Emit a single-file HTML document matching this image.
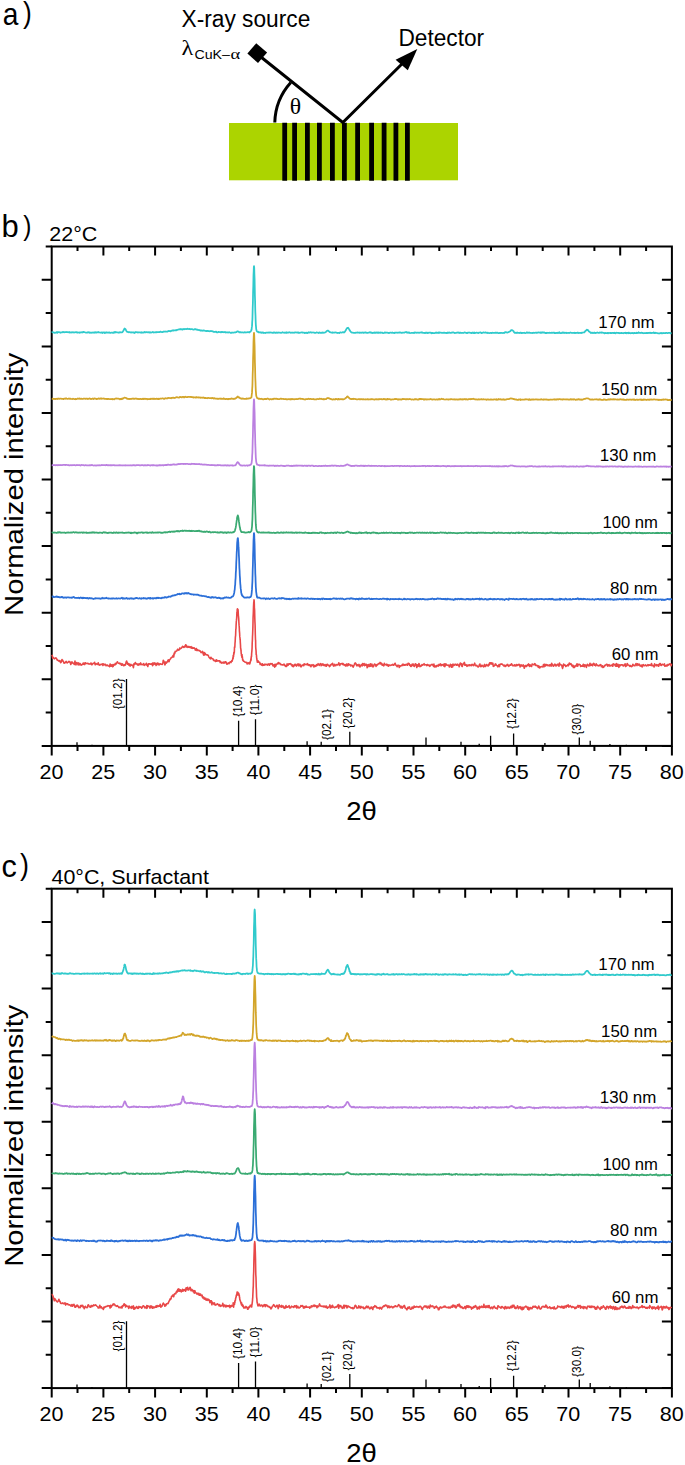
<!DOCTYPE html>
<html><head><meta charset="utf-8"><style>
html,body{margin:0;padding:0;background:#fff;width:685px;height:1465px;overflow:hidden}
svg{display:block}
text{font-family:"Liberation Sans",sans-serif;fill:#000}
.serif{font-family:"Liberation Serif",serif}
</style></head><body>
<svg width="685" height="1465" viewBox="0 0 685 1465">
<rect x="229" y="123" width="229" height="57.3" fill="#acd400"/>
<path d="M282.3 122.8h4.8v58h-4.8zM292.2 122.8h4.8v58h-4.8zM305.0 122.8h4.8v58h-4.8zM317.0 122.8h4.8v58h-4.8zM330.0 122.8h4.8v58h-4.8zM342.0 122.8h4.8v58h-4.8zM355.2 122.8h4.8v58h-4.8zM369.2 122.8h4.8v58h-4.8zM381.7 122.8h4.8v58h-4.8zM393.5 122.8h4.8v58h-4.8zM405.0 122.8h4.8v58h-4.8z" fill="#000"/>
<path d="M257.2 54.0 L342.8 122.5 L410 56" fill="none" stroke="#000" stroke-width="3"/>
<polygon points="256.2,43.3 267.1,52.5 258,63 247.4,53.6" fill="#000"/>
<polygon points="417.3,49 395.6,59.7 407.8,70.2" fill="#000"/>
<path d="M274.8 122.5 A62 62 0 0 1 290.8 82.5" fill="none" stroke="#000" stroke-width="3"/>
<text x="289.65" y="114.30" font-size="22.70" textLength="11.37" lengthAdjust="spacingAndGlyphs" class="serif">θ</text>
<text x="181.51" y="26.50" font-size="23.00" textLength="128.76" lengthAdjust="spacingAndGlyphs">X-ray source</text>
<text x="398.43" y="46.20" font-size="23.00" textLength="85.70" lengthAdjust="spacingAndGlyphs">Detector</text>
<text x="181.63" y="54.90" font-size="21.80" textLength="11.74" lengthAdjust="spacingAndGlyphs" class="serif">λ</text>
<text x="194.46" y="59.00" font-size="13.40" textLength="35.56" lengthAdjust="spacingAndGlyphs">CuK–</text>
<text x="230.46" y="59.00" font-size="14.50" textLength="9.72" lengthAdjust="spacingAndGlyphs" class="serif">α</text>
<text x="2.76" y="25.10" font-size="32.00" textLength="15.64" lengthAdjust="spacingAndGlyphs">a</text>
<text x="23.02" y="22.90" font-size="29.00" textLength="8.78" lengthAdjust="spacingAndGlyphs">)</text>
<g>
<path d="M77.0 742.3V745.9M92.0 744.8V745.9M126.5 679.0V745.9M238.6 720.8V745.9M255.5 719.3V745.9M307.1 741.2V745.9M321.2 741.8V745.9M349.8 731.7V745.9M426.0 737.4V745.9M461.0 741.8V745.9M479.2 743.8V745.9M490.6 735.7V745.9M513.6 733.5V745.9M544.9 742.9V745.9M579.3 737.4V745.9M590.2 740.7V745.9M609.9 744.0V745.9M626.3 744.8V745.9" stroke="#000" stroke-width="1.3" fill="none"/>
<text transform="translate(121.90,709.19) rotate(-90)" font-size="12.60" textLength="30.81" lengthAdjust="spacingAndGlyphs" fill="#222">{01.2}</text>
<text transform="translate(241.90,716.79) rotate(-90)" font-size="12.60" textLength="31.01" lengthAdjust="spacingAndGlyphs" fill="#222">{10.4}</text>
<text transform="translate(259.00,715.29) rotate(-90)" font-size="12.60" textLength="30.79" lengthAdjust="spacingAndGlyphs" fill="#222">{11.0}</text>
<text transform="translate(331.30,739.89) rotate(-90)" font-size="12.60" textLength="30.81" lengthAdjust="spacingAndGlyphs" fill="#222">{02.1}</text>
<text transform="translate(352.10,728.39) rotate(-90)" font-size="12.60" textLength="30.81" lengthAdjust="spacingAndGlyphs" fill="#222">{20.2}</text>
<text transform="translate(516.40,728.99) rotate(-90)" font-size="12.60" textLength="30.81" lengthAdjust="spacingAndGlyphs" fill="#222">{12.2}</text>
<text transform="translate(581.00,734.69) rotate(-90)" font-size="12.60" textLength="30.91" lengthAdjust="spacingAndGlyphs" fill="#222">{30.0}</text>
<rect x="51.7" y="246.5" width="620.2" height="499.4" fill="none" stroke="#000" stroke-width="2"/>
<path d="M41.7 745.9H51.7M661.9 745.9H671.9M45.7 712.6H51.7M667.4 712.6H671.9M41.7 679.3H51.7M661.9 679.3H671.9M45.7 646.0H51.7M667.4 646.0H671.9M41.7 612.7H51.7M661.9 612.7H671.9M45.7 579.4H51.7M667.4 579.4H671.9M41.7 546.1H51.7M661.9 546.1H671.9M45.7 512.8H51.7M667.4 512.8H671.9M41.7 479.6H51.7M661.9 479.6H671.9M45.7 446.3H51.7M667.4 446.3H671.9M41.7 413.0H51.7M661.9 413.0H671.9M45.7 379.7H51.7M667.4 379.7H671.9M41.7 346.4H51.7M661.9 346.4H671.9M45.7 313.1H51.7M667.4 313.1H671.9M41.7 279.8H51.7M661.9 279.8H671.9M45.7 246.5H51.7M51.7 745.9V755.4M77.5 745.9V750.9M77.5 246.5V251.0M103.4 745.9V755.4M103.4 246.5V255.5M129.2 745.9V750.9M129.2 246.5V251.0M155.1 745.9V755.4M155.1 246.5V255.5M180.9 745.9V750.9M180.9 246.5V251.0M206.8 745.9V755.4M206.8 246.5V255.5M232.6 745.9V750.9M232.6 246.5V251.0M258.4 745.9V755.4M258.4 246.5V255.5M284.3 745.9V750.9M284.3 246.5V251.0M310.1 745.9V755.4M310.1 246.5V255.5M336.0 745.9V750.9M336.0 246.5V251.0M361.8 745.9V755.4M361.8 246.5V255.5M387.6 745.9V750.9M387.6 246.5V251.0M413.5 745.9V755.4M413.5 246.5V255.5M439.3 745.9V750.9M439.3 246.5V251.0M465.2 745.9V755.4M465.2 246.5V255.5M491.0 745.9V750.9M491.0 246.5V251.0M516.8 745.9V755.4M516.8 246.5V255.5M542.7 745.9V750.9M542.7 246.5V251.0M568.5 745.9V755.4M568.5 246.5V255.5M594.4 745.9V750.9M594.4 246.5V251.0M620.2 745.9V755.4M620.2 246.5V255.5M646.1 745.9V750.9M646.1 246.5V251.0M671.9 745.9V755.4" stroke="#000" stroke-width="2" fill="none"/>
<path d="M51.7,332.6 52.2,332.2 52.7,332.3 53.3,332.3 53.8,332.6 54.3,332.8 54.8,332.7 55.3,332.8 55.8,332.6 56.4,332.7 56.9,332.0 57.4,332.8 57.9,332.1 58.4,332.2 58.9,332.2 59.5,332.4 60.0,332.2 60.5,332.8 61.0,332.5 61.5,332.4 62.0,332.4 62.6,332.0 63.1,331.9 63.6,332.0 64.1,332.4 64.6,332.2 65.1,332.2 65.7,332.2 66.2,332.0 66.7,332.2 67.2,332.2 67.7,332.2 68.2,332.3 68.8,332.2 69.3,332.0 69.8,332.6 70.3,332.3 70.8,332.6 71.3,332.6 71.9,332.2 72.4,332.2 72.9,332.4 73.4,332.5 73.9,332.2 74.4,332.5 75.0,332.4 75.5,332.2 76.0,332.2 76.5,332.2 77.0,332.6 77.5,332.4 78.1,332.6 78.6,332.5 79.1,332.4 79.6,332.8 80.1,332.6 80.6,332.4 81.2,332.4 81.7,332.2 82.2,332.5 82.7,332.4 83.2,331.8 83.7,332.1 84.3,332.1 84.8,332.3 85.3,332.5 85.8,332.6 86.3,332.5 86.8,332.5 87.4,332.6 87.9,332.2 88.4,332.3 88.9,332.6 89.4,332.3 89.9,332.8 90.5,332.6 91.0,332.6 91.5,332.8 92.0,332.7 92.5,332.4 93.0,332.7 93.6,332.5 94.1,332.8 94.6,332.4 95.1,332.2 95.6,332.6 96.1,332.4 96.7,332.6 97.2,332.3 97.7,332.4 98.2,332.0 98.7,332.4 99.2,332.4 99.8,332.5 100.3,332.7 100.8,332.7 101.3,332.6 101.8,332.4 102.3,333.0 102.9,332.4 103.4,332.5 103.9,332.4 104.4,333.0 104.9,332.4 105.5,332.9 106.0,332.4 106.5,332.6 107.0,332.4 107.5,332.7 108.0,332.7 108.6,332.5 109.1,332.8 109.6,332.5 110.1,332.8 110.6,332.8 111.1,332.7 111.7,332.5 112.2,332.5 112.7,332.9 113.2,332.7 113.7,332.8 114.2,332.0 114.8,332.5 115.3,332.5 115.8,331.9 116.3,332.2 116.8,332.4 117.3,332.5 117.9,332.3 118.4,332.5 118.9,332.8 119.4,332.5 119.9,332.1 120.4,332.4 121.0,332.4 121.5,332.4 122.0,332.3 122.5,332.2 123.0,331.3 123.5,330.5 124.1,329.3 124.6,328.5 125.1,328.7 125.6,329.3 126.1,330.4 126.6,331.4 127.2,332.0 127.7,331.9 128.2,332.0 128.7,332.3 129.2,332.2 129.7,332.2 130.3,332.4 130.8,332.4 131.3,332.6 131.8,332.3 132.3,332.3 132.8,332.4 133.4,332.6 133.9,332.4 134.4,333.0 134.9,332.7 135.4,332.3 135.9,332.0 136.5,332.2 137.0,332.3 137.5,332.6 138.0,332.3 138.5,332.5 139.0,332.3 139.6,332.3 140.1,332.3 140.6,332.6 141.1,332.8 141.6,332.2 142.1,332.6 142.7,332.5 143.2,332.7 143.7,332.3 144.2,332.4 144.7,331.9 145.2,332.3 145.8,332.4 146.3,332.1 146.8,332.1 147.3,332.2 147.8,332.4 148.3,332.4 148.9,332.2 149.4,332.6 149.9,332.2 150.4,332.3 150.9,332.7 151.4,332.5 152.0,332.4 152.5,332.0 153.0,331.9 153.5,332.6 154.0,332.3 154.5,332.3 155.1,332.4 155.6,332.3 156.1,332.0 156.6,332.4 157.1,332.2 157.7,332.2 158.2,332.2 158.7,332.2 159.2,332.0 159.7,332.0 160.2,331.6 160.8,331.7 161.3,332.0 161.8,332.1 162.3,332.0 162.8,332.1 163.3,331.6 163.9,331.5 164.4,331.7 164.9,331.7 165.4,331.5 165.9,331.7 166.4,331.5 167.0,331.5 167.5,331.6 168.0,331.2 168.5,331.1 169.0,330.9 169.5,331.2 170.1,331.2 170.6,331.3 171.1,330.9 171.6,330.8 172.1,330.5 172.6,330.7 173.2,330.4 173.7,330.6 174.2,330.3 174.7,330.3 175.2,330.3 175.7,330.2 176.3,330.3 176.8,329.8 177.3,329.9 177.8,329.8 178.3,329.5 178.8,329.4 179.4,329.3 179.9,329.2 180.4,329.4 180.9,329.0 181.4,329.4 181.9,329.4 182.5,329.7 183.0,329.1 183.5,329.0 184.0,329.3 184.5,329.2 185.0,328.9 185.6,329.0 186.1,329.0 186.6,329.1 187.1,328.8 187.6,328.7 188.1,329.1 188.7,329.0 189.2,328.9 189.7,329.1 190.2,329.3 190.7,329.2 191.2,329.2 191.8,329.2 192.3,329.1 192.8,329.5 193.3,329.6 193.8,329.6 194.3,329.5 194.9,329.1 195.4,329.3 195.9,329.2 196.4,329.5 196.9,329.8 197.4,329.7 198.0,329.9 198.5,330.0 199.0,329.9 199.5,330.2 200.0,330.3 200.5,330.7 201.1,330.3 201.6,330.6 202.1,330.6 202.6,330.8 203.1,330.5 203.6,330.4 204.2,330.6 204.7,330.7 205.2,330.8 205.7,331.0 206.2,331.2 206.8,330.8 207.3,331.0 207.8,330.9 208.3,331.1 208.8,331.1 209.3,331.2 209.9,331.3 210.4,331.0 210.9,331.1 211.4,331.0 211.9,331.1 212.4,331.4 213.0,331.4 213.5,331.8 214.0,331.8 214.5,331.8 215.0,332.0 215.5,331.9 216.1,331.6 216.6,332.3 217.1,332.3 217.6,332.4 218.1,332.2 218.6,331.8 219.2,332.0 219.7,332.1 220.2,332.2 220.7,332.3 221.2,332.0 221.7,332.3 222.3,331.9 222.8,332.0 223.3,332.1 223.8,332.3 224.3,332.2 224.8,332.0 225.4,332.2 225.9,332.6 226.4,332.3 226.9,332.3 227.4,332.3 227.9,332.6 228.5,332.4 229.0,332.4 229.5,332.2 230.0,332.5 230.5,332.7 231.0,333.0 231.6,332.6 232.1,332.6 232.6,332.7 233.1,332.5 233.6,332.5 234.1,332.5 234.7,332.3 235.2,332.5 235.7,332.3 236.2,332.0 236.7,332.0 237.2,331.4 237.8,331.3 238.3,331.6 238.8,331.8 239.3,332.4 239.8,332.2 240.3,332.2 240.9,332.4 241.4,332.4 241.9,332.5 242.4,332.3 242.9,332.4 243.4,332.5 244.0,332.5 244.5,332.2 245.0,332.3 245.5,332.5 246.0,332.3 246.5,332.3 247.1,332.3 247.6,332.2 248.1,332.1 248.6,332.3 249.1,332.5 249.6,332.1 250.2,331.8 250.7,331.3 251.2,330.7 251.3,330.1 251.5,330.0 251.6,329.5 251.7,328.5 251.8,327.3 252.0,326.4 252.1,324.6 252.2,322.0 252.4,319.5 252.5,316.3 252.6,312.1 252.7,307.8 252.9,302.5 253.0,297.2 253.1,291.5 253.3,285.7 253.4,280.3 253.5,275.1 253.7,271.0 253.8,267.9 253.9,266.5 254.0,266.1 254.2,267.4 254.3,270.3 254.4,273.9 254.6,279.1 254.7,284.7 254.8,290.1 254.9,295.8 255.1,301.3 255.2,306.9 255.3,311.2 255.5,315.6 255.6,319.1 255.7,321.9 255.8,324.3 256.0,326.6 256.1,327.7 256.2,329.1 256.4,329.8 256.5,330.5 256.6,330.6 256.8,331.0 256.9,331.1 257.0,331.4 257.1,331.3 257.7,331.9 258.2,331.7 258.7,332.4 259.2,332.2 259.7,332.4 260.2,332.3 260.8,332.6 261.3,332.3 261.8,332.9 262.3,332.6 262.8,332.4 263.3,332.5 263.9,333.0 264.4,332.9 264.9,332.9 265.4,333.0 265.9,332.6 266.4,332.6 267.0,332.6 267.5,332.6 268.0,332.5 268.5,332.7 269.0,332.5 269.5,332.6 270.1,332.3 270.6,332.5 271.1,332.5 271.6,332.7 272.1,332.7 272.6,332.8 273.2,332.9 273.7,332.3 274.2,332.6 274.7,332.5 275.2,332.9 275.7,332.7 276.3,332.8 276.8,332.5 277.3,332.8 277.8,332.7 278.3,332.5 278.8,332.7 279.4,332.7 279.9,332.7 280.4,332.7 280.9,332.9 281.4,332.8 281.9,332.6 282.5,332.2 283.0,332.5 283.5,332.7 284.0,332.7 284.5,332.8 285.1,332.5 285.6,332.8 286.1,332.8 286.6,332.3 287.1,332.8 287.6,332.6 288.2,332.7 288.7,332.4 289.2,332.2 289.7,332.4 290.2,332.5 290.7,332.8 291.3,332.6 291.8,332.7 292.3,332.6 292.8,332.8 293.3,332.6 293.8,332.8 294.4,332.6 294.9,332.4 295.4,332.3 295.9,332.5 296.4,332.5 296.9,332.4 297.5,332.6 298.0,332.8 298.5,332.4 299.0,332.8 299.5,332.8 300.0,332.7 300.6,332.5 301.1,332.5 301.6,332.4 302.1,332.3 302.6,332.7 303.1,332.5 303.7,332.5 304.2,332.6 304.7,333.1 305.2,332.9 305.7,332.9 306.2,332.6 306.8,332.8 307.3,333.2 307.8,332.6 308.3,332.6 308.8,332.2 309.3,332.7 309.9,332.5 310.4,332.3 310.9,332.2 311.4,332.6 311.9,332.6 312.4,332.5 313.0,332.4 313.5,332.5 314.0,332.5 314.5,332.8 315.0,332.9 315.5,332.8 316.1,332.6 316.6,332.4 317.1,332.5 317.6,332.6 318.1,332.8 318.6,333.0 319.2,332.5 319.7,332.4 320.2,332.8 320.7,332.8 321.2,332.8 321.7,332.7 322.3,332.9 322.8,332.5 323.3,332.7 323.8,332.8 324.3,332.5 324.8,332.5 325.4,332.3 325.9,332.0 326.4,331.4 326.9,331.0 327.4,330.5 327.9,330.5 328.5,330.9 329.0,331.5 329.5,331.8 330.0,332.2 330.5,332.3 331.0,332.5 331.6,332.6 332.1,332.8 332.6,332.3 333.1,332.5 333.6,332.6 334.1,332.5 334.7,332.5 335.2,332.3 335.7,332.5 336.2,332.7 336.7,332.7 337.3,333.0 337.8,332.8 338.3,332.9 338.8,332.8 339.3,333.1 339.8,332.5 340.4,332.3 340.9,332.6 341.4,332.6 341.9,332.5 342.4,332.4 342.9,332.1 343.5,332.2 344.0,332.5 344.5,332.2 345.0,331.7 345.5,330.7 346.0,330.0 346.6,328.7 347.1,328.1 347.6,327.9 348.1,327.7 348.6,328.3 349.1,329.2 349.7,330.2 350.2,331.1 350.7,331.7 351.2,332.3 351.7,332.6 352.2,332.5 352.8,332.5 353.3,332.7 353.8,332.9 354.3,332.8 354.8,332.9 355.3,332.9 355.9,332.7 356.4,332.6 356.9,332.7 357.4,332.4 357.9,332.6 358.4,332.6 359.0,332.5 359.5,332.9 360.0,332.5 360.5,332.5 361.0,332.9 361.5,332.7 362.1,332.5 362.6,332.7 363.1,332.6 363.6,332.9 364.1,332.6 364.6,332.6 365.2,332.4 365.7,332.3 366.2,332.7 366.7,332.8 367.2,332.8 367.7,332.9 368.3,332.7 368.8,332.7 369.3,332.5 369.8,332.2 370.3,332.6 370.8,332.4 371.4,332.8 371.9,332.6 372.4,333.1 372.9,332.8 373.4,332.7 373.9,332.9 374.5,332.4 375.0,332.9 375.5,332.6 376.0,332.8 376.5,332.4 377.0,332.7 377.6,332.8 378.1,332.3 378.6,332.8 379.1,332.8 379.6,332.7 380.1,332.4 380.7,332.9 381.2,332.6 381.7,332.6 382.2,332.6 382.7,332.9 383.2,333.2 383.8,333.0 384.3,332.9 384.8,332.4 385.3,332.5 385.8,332.8 386.3,332.6 386.9,332.7 387.4,332.7 387.9,332.8 388.4,332.9 388.9,333.1 389.5,332.8 390.0,332.7 390.5,332.6 391.0,332.6 391.5,332.8 392.0,332.8 392.6,332.5 393.1,333.0 393.6,332.9 394.1,332.7 394.6,333.1 395.1,332.7 395.7,332.6 396.2,332.5 396.7,332.5 397.2,332.6 397.7,332.8 398.2,332.7 398.8,332.5 399.3,332.4 399.8,332.6 400.3,332.7 400.8,332.5 401.3,332.8 401.9,332.9 402.4,332.7 402.9,332.5 403.4,332.6 403.9,332.7 404.4,332.6 405.0,332.3 405.5,332.2 406.0,332.0 406.5,332.4 407.0,332.6 407.5,332.3 408.1,332.8 408.6,332.3 409.1,332.4 409.6,332.9 410.1,333.1 410.6,333.0 411.2,332.9 411.7,332.8 412.2,332.9 412.7,332.8 413.2,333.0 413.7,332.7 414.3,333.0 414.8,332.3 415.3,332.7 415.8,332.6 416.3,332.7 416.8,332.8 417.4,332.7 417.9,332.7 418.4,332.7 418.9,332.8 419.4,332.8 419.9,332.5 420.5,332.5 421.0,332.4 421.5,332.6 422.0,332.4 422.5,332.6 423.0,332.9 423.6,332.9 424.1,332.8 424.6,333.1 425.1,333.1 425.6,332.6 426.1,332.7 426.7,332.9 427.2,332.6 427.7,333.2 428.2,333.0 428.7,332.6 429.2,332.6 429.8,332.6 430.3,332.6 430.8,332.6 431.3,333.3 431.8,333.2 432.3,332.8 432.9,332.9 433.4,333.2 433.9,333.1 434.4,333.2 434.9,333.0 435.4,332.9 436.0,332.5 436.5,332.8 437.0,332.7 437.5,332.8 438.0,332.9 438.5,332.5 439.1,333.0 439.6,332.4 440.1,332.5 440.6,332.5 441.1,332.7 441.7,332.8 442.2,332.8 442.7,332.8 443.2,332.7 443.7,332.9 444.2,332.6 444.8,332.9 445.3,332.9 445.8,332.9 446.3,333.1 446.8,332.9 447.3,333.0 447.9,332.5 448.4,332.8 448.9,332.7 449.4,332.5 449.9,332.9 450.4,332.9 451.0,332.9 451.5,332.6 452.0,332.5 452.5,332.6 453.0,332.3 453.5,332.4 454.1,332.8 454.6,333.1 455.1,332.9 455.6,333.0 456.1,332.9 456.6,332.7 457.2,332.5 457.7,332.7 458.2,332.5 458.7,332.8 459.2,332.7 459.7,333.0 460.3,332.6 460.8,332.8 461.3,332.9 461.8,333.0 462.3,332.9 462.8,332.9 463.4,333.0 463.9,332.8 464.4,332.4 464.9,332.5 465.4,332.5 465.9,332.8 466.5,332.9 467.0,333.2 467.5,332.9 468.0,332.6 468.5,332.6 469.0,332.5 469.6,332.7 470.1,332.7 470.6,332.9 471.1,332.8 471.6,333.2 472.1,332.6 472.7,332.9 473.2,332.6 473.7,333.1 474.2,332.5 474.7,333.1 475.2,332.9 475.8,332.8 476.3,332.7 476.8,332.6 477.3,332.8 477.8,333.0 478.3,333.2 478.9,332.7 479.4,332.6 479.9,332.5 480.4,332.4 480.9,332.6 481.4,333.1 482.0,332.8 482.5,332.9 483.0,332.6 483.5,332.4 484.0,332.5 484.5,332.5 485.1,332.6 485.6,332.4 486.1,332.5 486.6,332.7 487.1,333.0 487.6,332.6 488.2,332.9 488.7,333.0 489.2,333.0 489.7,333.0 490.2,332.9 490.7,332.9 491.3,333.1 491.8,332.9 492.3,332.7 492.8,332.8 493.3,332.9 493.9,332.9 494.4,332.8 494.9,332.8 495.4,332.6 495.9,332.9 496.4,332.7 497.0,332.8 497.5,332.6 498.0,333.0 498.5,333.1 499.0,333.2 499.5,332.9 500.1,332.8 500.6,333.1 501.1,332.8 501.6,332.8 502.1,333.1 502.6,333.0 503.2,332.9 503.7,332.9 504.2,333.1 504.7,332.3 505.2,332.2 505.7,332.1 506.3,332.4 506.8,332.4 507.3,332.6 507.8,332.5 508.3,332.3 508.8,332.1 509.4,331.5 509.9,331.4 510.4,331.2 510.9,330.4 511.4,330.0 511.9,330.0 512.5,330.4 513.0,330.8 513.5,331.1 514.0,332.2 514.5,332.8 515.0,332.6 515.6,332.8 516.1,333.0 516.6,332.7 517.1,332.4 517.6,332.9 518.1,332.9 518.7,332.8 519.2,332.8 519.7,333.1 520.2,332.7 520.7,332.6 521.2,332.9 521.8,333.2 522.3,332.8 522.8,332.8 523.3,332.9 523.8,332.9 524.3,332.7 524.9,333.1 525.4,333.1 525.9,333.0 526.4,332.7 526.9,332.3 527.4,332.5 528.0,332.9 528.5,332.6 529.0,332.6 529.5,332.5 530.0,333.0 530.5,332.8 531.1,332.9 531.6,333.0 532.1,333.1 532.6,332.9 533.1,332.9 533.6,332.7 534.2,332.9 534.7,332.8 535.2,332.8 535.7,332.6 536.2,332.8 536.7,332.7 537.3,332.8 537.8,332.6 538.3,332.3 538.8,332.5 539.3,332.5 539.8,332.6 540.4,332.3 540.9,333.0 541.4,332.6 541.9,332.3 542.4,332.7 543.0,332.3 543.5,332.7 544.0,332.4 544.5,332.6 545.0,332.9 545.5,333.1 546.1,332.9 546.6,333.2 547.1,332.7 547.6,332.9 548.1,332.9 548.6,332.9 549.2,332.8 549.7,332.7 550.2,332.8 550.7,332.8 551.2,332.8 551.7,332.7 552.3,332.9 552.8,332.7 553.3,332.7 553.8,332.6 554.3,333.1 554.8,332.6 555.4,333.1 555.9,333.1 556.4,332.9 556.9,332.9 557.4,332.7 557.9,333.1 558.5,332.6 559.0,332.8 559.5,332.3 560.0,333.2 560.5,333.1 561.0,333.0 561.6,333.0 562.1,332.5 562.6,332.9 563.1,332.4 563.6,332.9 564.1,332.6 564.7,333.0 565.2,332.9 565.7,332.8 566.2,332.6 566.7,333.0 567.2,333.0 567.8,332.9 568.3,333.0 568.8,332.8 569.3,333.0 569.8,332.7 570.3,332.5 570.9,332.7 571.4,332.8 571.9,332.9 572.4,333.0 572.9,332.9 573.4,332.8 574.0,333.0 574.5,332.7 575.0,333.1 575.5,332.9 576.0,333.0 576.5,332.9 577.1,332.9 577.6,332.6 578.1,332.7 578.6,333.0 579.1,333.0 579.6,332.9 580.2,333.0 580.7,332.8 581.2,333.1 581.7,332.7 582.2,332.8 582.7,332.6 583.3,332.5 583.8,332.4 584.3,332.4 584.8,331.7 585.3,331.1 585.8,330.8 586.4,330.2 586.9,329.6 587.4,330.0 587.9,329.9 588.4,330.7 588.9,331.4 589.5,331.7 590.0,332.1 590.5,332.6 591.0,333.0 591.5,332.7 592.0,332.7 592.6,332.9 593.1,333.1 593.6,333.0 594.1,332.5 594.6,332.9 595.2,333.1 595.7,332.9 596.2,332.9 596.7,332.7 597.2,332.4 597.7,332.7 598.3,332.8 598.8,332.9 599.3,332.9 599.8,332.5 600.3,332.7 600.8,332.5 601.4,332.4 601.9,332.8 602.4,332.6 602.9,332.7 603.4,332.9 603.9,332.8 604.5,333.3 605.0,332.8 605.5,333.1 606.0,333.1 606.5,333.0 607.0,333.0 607.6,332.8 608.1,333.3 608.6,332.9 609.1,332.9 609.6,333.0 610.1,333.1 610.7,332.9 611.2,332.9 611.7,333.2 612.2,333.0 612.7,332.8 613.2,332.9 613.8,333.1 614.3,332.7 614.8,333.0 615.3,333.4 615.8,332.9 616.3,332.8 616.9,332.7 617.4,332.9 617.9,332.9 618.4,332.9 618.9,333.1 619.4,333.3 620.0,333.0 620.5,333.2 621.0,333.0 621.5,332.9 622.0,333.1 622.5,333.2 623.1,333.1 623.6,333.3 624.1,333.0 624.6,332.9 625.1,333.0 625.6,332.6 626.2,333.3 626.7,332.9 627.2,332.9 627.7,332.9 628.2,333.3 628.7,332.6 629.3,333.0 629.8,333.0 630.3,333.2 630.8,333.3 631.3,333.0 631.8,333.2 632.4,333.0 632.9,332.8 633.4,333.4 633.9,333.0 634.4,332.9 634.9,333.1 635.5,333.1 636.0,333.1 636.5,332.7 637.0,333.1 637.5,332.9 638.0,332.9 638.6,332.3 639.1,332.9 639.6,332.9 640.1,332.8 640.6,333.0 641.1,332.8 641.7,332.7 642.2,332.8 642.7,333.1 643.2,333.3 643.7,333.1 644.2,333.1 644.8,333.0 645.3,333.1 645.8,333.1 646.3,332.9 646.8,333.1 647.4,333.2 647.9,332.8 648.4,333.0 648.9,332.9 649.4,333.0 649.9,332.7 650.5,332.9 651.0,333.1 651.5,333.1 652.0,332.8 652.5,332.9 653.0,333.0 653.6,332.4 654.1,332.9 654.6,333.1 655.1,332.6 655.6,333.0 656.1,332.9 656.7,333.0 657.2,333.0 657.7,333.2 658.2,333.4 658.7,333.4 659.2,333.5 659.8,333.2 660.3,333.0 660.8,333.1 661.3,333.4 661.8,333.0 662.3,333.3 662.9,333.2 663.4,333.0 663.9,333.2 664.4,333.0 664.9,333.0 665.4,333.1 666.0,332.9 666.5,332.8 667.0,333.0 667.5,333.0 668.0,333.0 668.5,332.8 669.1,332.8 669.6,332.9 670.1,332.9 670.6,333.3 671.1,333.3 671.6,333.4" fill="none" stroke="#30cacc" stroke-width="1.75" stroke-linejoin="round"/>
<path d="M51.7,398.6 52.2,398.8 52.7,398.7 53.3,398.8 53.8,398.9 54.3,399.1 54.8,398.8 55.3,399.1 55.8,398.9 56.4,398.9 56.9,398.7 57.4,398.6 57.9,399.0 58.4,398.5 58.9,398.7 59.5,398.8 60.0,398.7 60.5,398.7 61.0,398.6 61.5,398.8 62.0,398.9 62.6,398.9 63.1,398.9 63.6,399.1 64.1,398.7 64.6,398.6 65.1,398.5 65.7,398.8 66.2,398.3 66.7,398.6 67.2,398.8 67.7,398.8 68.2,398.8 68.8,398.5 69.3,398.6 69.8,398.9 70.3,398.6 70.8,398.8 71.3,398.9 71.9,399.0 72.4,399.0 72.9,398.7 73.4,398.8 73.9,399.0 74.4,399.1 75.0,399.0 75.5,399.3 76.0,399.0 76.5,399.2 77.0,399.0 77.5,398.5 78.1,398.7 78.6,398.6 79.1,398.9 79.6,398.5 80.1,398.8 80.6,398.8 81.2,398.6 81.7,398.8 82.2,398.9 82.7,399.0 83.2,398.9 83.7,398.5 84.3,398.5 84.8,398.5 85.3,398.9 85.8,398.9 86.3,398.6 86.8,398.7 87.4,398.7 87.9,399.1 88.4,398.8 88.9,398.7 89.4,398.4 89.9,398.6 90.5,399.0 91.0,399.1 91.5,398.9 92.0,398.7 92.5,398.5 93.0,399.0 93.6,399.1 94.1,398.3 94.6,398.6 95.1,398.7 95.6,398.6 96.1,398.9 96.7,399.1 97.2,398.9 97.7,398.9 98.2,398.6 98.7,398.4 99.2,398.7 99.8,398.9 100.3,398.4 100.8,398.7 101.3,398.3 101.8,398.8 102.3,398.6 102.9,398.7 103.4,398.7 103.9,398.4 104.4,398.8 104.9,398.9 105.5,398.9 106.0,399.0 106.5,398.9 107.0,399.1 107.5,398.9 108.0,399.1 108.6,398.9 109.1,399.0 109.6,399.1 110.1,399.0 110.6,399.1 111.1,399.1 111.7,399.0 112.2,398.8 112.7,399.3 113.2,399.2 113.7,399.2 114.2,399.3 114.8,398.8 115.3,398.7 115.8,398.6 116.3,398.4 116.8,398.7 117.3,398.7 117.9,398.6 118.4,398.7 118.9,398.8 119.4,398.8 119.9,399.3 120.4,398.8 121.0,399.2 121.5,398.7 122.0,399.2 122.5,398.4 123.0,398.6 123.5,398.0 124.1,397.8 124.6,397.6 125.1,397.8 125.6,397.9 126.1,398.0 126.6,398.1 127.2,398.9 127.7,398.8 128.2,398.8 128.7,399.1 129.2,399.1 129.7,398.9 130.3,398.8 130.8,399.1 131.3,398.7 131.8,398.9 132.3,398.7 132.8,398.5 133.4,398.8 133.9,398.6 134.4,398.9 134.9,398.7 135.4,398.7 135.9,398.5 136.5,398.8 137.0,398.7 137.5,399.0 138.0,398.8 138.5,399.1 139.0,399.0 139.6,399.1 140.1,398.8 140.6,398.9 141.1,399.1 141.6,399.0 142.1,399.1 142.7,398.9 143.2,398.6 143.7,399.2 144.2,399.0 144.7,398.7 145.2,398.7 145.8,399.0 146.3,398.9 146.8,398.9 147.3,399.4 147.8,399.0 148.3,399.2 148.9,399.0 149.4,399.2 149.9,399.0 150.4,399.2 150.9,398.6 151.4,398.9 152.0,399.0 152.5,398.7 153.0,398.8 153.5,398.6 154.0,399.1 154.5,398.7 155.1,398.8 155.6,399.0 156.1,398.8 156.6,398.7 157.1,398.7 157.7,399.1 158.2,399.1 158.7,398.6 159.2,399.1 159.7,398.8 160.2,398.6 160.8,398.7 161.3,398.5 161.8,398.5 162.3,398.4 162.8,398.3 163.3,398.6 163.9,398.8 164.4,398.9 164.9,398.4 165.4,398.2 165.9,398.3 166.4,398.3 167.0,398.5 167.5,398.4 168.0,397.9 168.5,398.0 169.0,397.9 169.5,398.0 170.1,398.0 170.6,398.0 171.1,398.3 171.6,397.9 172.1,397.8 172.6,397.9 173.2,397.6 173.7,397.9 174.2,397.8 174.7,398.0 175.2,397.7 175.7,397.6 176.3,397.3 176.8,397.1 177.3,397.3 177.8,397.4 178.3,397.5 178.8,397.5 179.4,397.5 179.9,396.9 180.4,397.1 180.9,397.0 181.4,397.3 181.9,397.5 182.5,396.9 183.0,396.9 183.5,396.9 184.0,397.5 184.5,397.0 185.0,397.1 185.6,396.7 186.1,397.0 186.6,397.2 187.1,397.2 187.6,397.1 188.1,396.8 188.7,396.8 189.2,396.9 189.7,397.0 190.2,396.9 190.7,396.8 191.2,397.2 191.8,397.0 192.3,397.2 192.8,397.2 193.3,397.6 193.8,397.1 194.3,397.4 194.9,397.5 195.4,397.6 195.9,397.1 196.4,397.2 196.9,397.6 197.4,397.3 198.0,397.4 198.5,397.6 199.0,397.3 199.5,397.6 200.0,397.5 200.5,397.8 201.1,397.6 201.6,397.6 202.1,397.8 202.6,397.7 203.1,397.7 203.6,397.5 204.2,398.0 204.7,398.2 205.2,397.8 205.7,398.1 206.2,398.0 206.8,398.0 207.3,398.3 207.8,398.1 208.3,397.8 208.8,398.0 209.3,398.1 209.9,398.1 210.4,398.1 210.9,398.1 211.4,398.3 211.9,398.2 212.4,397.8 213.0,398.3 213.5,398.6 214.0,398.2 214.5,398.2 215.0,398.6 215.5,398.5 216.1,398.6 216.6,398.7 217.1,398.8 217.6,398.7 218.1,398.8 218.6,398.9 219.2,398.6 219.7,398.6 220.2,398.5 220.7,398.9 221.2,398.9 221.7,398.6 222.3,398.9 222.8,398.8 223.3,398.9 223.8,398.3 224.3,398.9 224.8,398.8 225.4,399.2 225.9,399.1 226.4,398.9 226.9,398.8 227.4,399.1 227.9,399.3 228.5,398.8 229.0,399.1 229.5,398.8 230.0,399.0 230.5,398.7 231.0,398.9 231.6,398.4 232.1,398.5 232.6,398.7 233.1,399.0 233.6,398.7 234.1,398.9 234.7,398.8 235.2,398.2 235.7,398.5 236.2,398.0 236.7,397.7 237.2,396.8 237.8,396.5 238.3,397.4 238.8,397.5 239.3,397.4 239.8,398.0 240.3,398.4 240.9,398.4 241.4,398.8 241.9,398.6 242.4,398.8 242.9,398.5 243.4,398.6 244.0,398.8 244.5,398.9 245.0,398.8 245.5,398.8 246.0,398.8 246.5,398.3 247.1,398.8 247.6,398.6 248.1,398.7 248.6,398.4 249.1,398.3 249.6,398.4 250.2,398.2 250.7,397.9 251.2,397.5 251.3,397.1 251.5,397.2 251.6,395.9 251.7,395.1 251.8,394.2 252.0,392.9 252.1,391.0 252.2,389.0 252.4,386.1 252.5,382.8 252.6,378.2 252.7,374.1 252.9,368.9 253.0,363.0 253.1,357.6 253.3,352.2 253.4,346.7 253.5,341.8 253.7,337.4 253.8,334.7 253.9,333.2 254.0,332.8 254.2,334.6 254.3,337.0 254.4,341.1 254.6,345.6 254.7,350.9 254.8,356.8 254.9,362.3 255.1,368.0 255.2,373.4 255.3,378.0 255.5,382.1 255.6,385.8 255.7,388.4 255.8,390.6 256.0,392.9 256.1,394.5 256.2,395.5 256.4,396.3 256.5,396.4 256.6,396.8 256.8,397.2 256.9,397.4 257.0,397.7 257.1,398.2 257.7,398.2 258.2,398.7 258.7,398.9 259.2,398.6 259.7,398.8 260.2,398.8 260.8,399.0 261.3,398.7 261.8,398.9 262.3,399.1 262.8,399.3 263.3,399.4 263.9,399.1 264.4,399.2 264.9,398.8 265.4,399.2 265.9,398.9 266.4,399.1 267.0,398.8 267.5,398.5 268.0,398.6 268.5,399.0 269.0,399.2 269.5,399.5 270.1,399.0 270.6,399.1 271.1,399.1 271.6,399.4 272.1,399.3 272.6,399.0 273.2,399.3 273.7,398.7 274.2,398.8 274.7,398.7 275.2,398.7 275.7,398.9 276.3,398.7 276.8,398.8 277.3,398.9 277.8,399.1 278.3,399.2 278.8,399.1 279.4,399.0 279.9,399.0 280.4,398.7 280.9,398.7 281.4,398.7 281.9,399.0 282.5,398.9 283.0,398.8 283.5,398.9 284.0,399.2 284.5,399.1 285.1,399.1 285.6,399.0 286.1,399.3 286.6,399.2 287.1,399.4 287.6,399.4 288.2,399.1 288.7,399.2 289.2,399.2 289.7,399.1 290.2,399.5 290.7,399.0 291.3,399.4 291.8,398.9 292.3,399.1 292.8,399.3 293.3,399.1 293.8,399.3 294.4,399.4 294.9,399.0 295.4,399.0 295.9,399.2 296.4,399.2 296.9,399.0 297.5,399.2 298.0,399.1 298.5,398.8 299.0,398.7 299.5,398.6 300.0,398.8 300.6,398.6 301.1,398.8 301.6,398.9 302.1,398.8 302.6,399.0 303.1,398.9 303.7,399.3 304.2,399.5 304.7,399.4 305.2,399.5 305.7,399.1 306.2,399.0 306.8,399.1 307.3,399.2 307.8,399.1 308.3,398.8 308.8,398.7 309.3,399.1 309.9,399.0 310.4,398.8 310.9,399.1 311.4,399.0 311.9,399.0 312.4,399.1 313.0,399.2 313.5,398.9 314.0,399.3 314.5,399.3 315.0,399.3 315.5,399.3 316.1,399.4 316.6,399.3 317.1,398.9 317.6,399.0 318.1,399.1 318.6,399.2 319.2,398.9 319.7,398.6 320.2,398.9 320.7,398.9 321.2,398.7 321.7,399.0 322.3,399.0 322.8,399.1 323.3,399.4 323.8,399.0 324.3,399.4 324.8,399.0 325.4,399.0 325.9,399.1 326.4,398.9 326.9,398.3 327.4,398.1 327.9,398.0 328.5,398.3 329.0,398.2 329.5,398.5 330.0,398.9 330.5,398.9 331.0,399.1 331.6,399.2 332.1,399.5 332.6,399.5 333.1,399.3 333.6,399.2 334.1,399.5 334.7,399.3 335.2,399.5 335.7,398.9 336.2,399.1 336.7,399.0 337.3,399.2 337.8,399.6 338.3,399.1 338.8,398.8 339.3,399.3 339.8,399.4 340.4,399.0 340.9,399.0 341.4,399.0 341.9,399.4 342.4,399.2 342.9,399.1 343.5,399.4 344.0,399.2 344.5,399.0 345.0,398.6 345.5,398.1 346.0,397.9 346.6,397.2 347.1,396.5 347.6,396.4 348.1,397.0 348.6,397.6 349.1,397.9 349.7,398.6 350.2,398.8 350.7,398.9 351.2,399.1 351.7,399.2 352.2,398.8 352.8,399.0 353.3,398.7 353.8,399.1 354.3,399.0 354.8,398.8 355.3,399.0 355.9,399.0 356.4,399.3 356.9,399.5 357.4,399.4 357.9,399.3 358.4,399.2 359.0,399.1 359.5,399.2 360.0,399.5 360.5,399.2 361.0,399.2 361.5,399.2 362.1,399.4 362.6,399.2 363.1,399.3 363.6,399.2 364.1,399.3 364.6,399.4 365.2,399.5 365.7,399.2 366.2,399.4 366.7,399.4 367.2,399.2 367.7,399.1 368.3,399.5 368.8,399.3 369.3,399.4 369.8,399.4 370.3,399.2 370.8,399.3 371.4,399.3 371.9,399.0 372.4,399.2 372.9,399.3 373.4,399.3 373.9,399.4 374.5,399.7 375.0,399.4 375.5,399.3 376.0,399.1 376.5,399.1 377.0,399.5 377.6,399.3 378.1,399.5 378.6,399.1 379.1,399.2 379.6,399.3 380.1,399.0 380.7,399.0 381.2,399.3 381.7,399.2 382.2,399.2 382.7,399.4 383.2,399.2 383.8,398.9 384.3,399.0 384.8,399.3 385.3,399.1 385.8,399.5 386.3,399.4 386.9,399.6 387.4,398.8 387.9,399.4 388.4,399.2 388.9,399.1 389.5,399.2 390.0,399.1 390.5,399.6 391.0,399.6 391.5,399.6 392.0,399.4 392.6,399.3 393.1,399.3 393.6,399.4 394.1,399.2 394.6,399.0 395.1,398.8 395.7,399.2 396.2,399.0 396.7,399.2 397.2,399.1 397.7,399.5 398.2,399.1 398.8,399.7 399.3,399.5 399.8,399.2 400.3,399.5 400.8,399.4 401.3,399.6 401.9,399.4 402.4,398.9 402.9,399.0 403.4,399.2 403.9,398.9 404.4,399.2 405.0,399.0 405.5,399.4 406.0,399.3 406.5,399.3 407.0,398.9 407.5,399.2 408.1,399.4 408.6,399.2 409.1,398.9 409.6,399.0 410.1,399.1 410.6,399.2 411.2,399.5 411.7,399.5 412.2,399.3 412.7,399.5 413.2,399.6 413.7,399.7 414.3,399.4 414.8,399.1 415.3,399.3 415.8,399.1 416.3,399.4 416.8,399.2 417.4,399.7 417.9,399.6 418.4,399.7 418.9,399.1 419.4,398.9 419.9,399.3 420.5,398.9 421.0,399.1 421.5,399.3 422.0,399.0 422.5,399.1 423.0,399.1 423.6,399.5 424.1,399.1 424.6,399.6 425.1,399.2 425.6,399.3 426.1,399.6 426.7,399.3 427.2,399.5 427.7,399.3 428.2,399.4 428.7,399.4 429.2,399.3 429.8,399.4 430.3,399.0 430.8,399.2 431.3,399.2 431.8,399.5 432.3,399.7 432.9,399.4 433.4,399.3 433.9,399.3 434.4,399.4 434.9,399.4 435.4,399.7 436.0,399.6 436.5,399.3 437.0,399.5 437.5,399.7 438.0,399.3 438.5,399.1 439.1,399.5 439.6,399.0 440.1,399.3 440.6,399.3 441.1,399.2 441.7,398.7 442.2,399.0 442.7,399.2 443.2,399.0 443.7,399.3 444.2,399.4 444.8,399.5 445.3,399.5 445.8,399.4 446.3,399.2 446.8,399.4 447.3,399.4 447.9,399.3 448.4,399.7 448.9,399.4 449.4,399.3 449.9,399.3 450.4,399.2 451.0,399.3 451.5,399.1 452.0,399.3 452.5,399.4 453.0,399.4 453.5,399.5 454.1,399.2 454.6,399.4 455.1,399.7 455.6,399.4 456.1,399.4 456.6,399.3 457.2,399.7 457.7,399.7 458.2,399.3 458.7,399.5 459.2,399.4 459.7,399.5 460.3,399.1 460.8,399.2 461.3,399.5 461.8,399.4 462.3,399.1 462.8,399.6 463.4,399.2 463.9,399.4 464.4,399.1 464.9,399.0 465.4,399.1 465.9,399.5 466.5,399.2 467.0,399.2 467.5,399.5 468.0,399.5 468.5,399.4 469.0,399.0 469.6,399.2 470.1,399.0 470.6,399.3 471.1,399.2 471.6,399.1 472.1,398.8 472.7,399.0 473.2,399.0 473.7,398.7 474.2,399.0 474.7,399.2 475.2,399.5 475.8,399.3 476.3,399.4 476.8,399.4 477.3,399.7 477.8,399.5 478.3,399.2 478.9,399.7 479.4,399.3 479.9,399.4 480.4,399.4 480.9,399.3 481.4,399.1 482.0,399.4 482.5,399.5 483.0,399.3 483.5,399.2 484.0,399.3 484.5,399.4 485.1,399.5 485.6,399.4 486.1,399.5 486.6,399.9 487.1,399.6 487.6,399.3 488.2,399.4 488.7,399.7 489.2,399.5 489.7,399.5 490.2,399.5 490.7,399.3 491.3,399.7 491.8,399.4 492.3,399.7 492.8,399.6 493.3,399.7 493.9,399.4 494.4,399.3 494.9,399.3 495.4,399.5 495.9,399.5 496.4,399.2 497.0,399.8 497.5,399.7 498.0,399.6 498.5,399.0 499.0,399.2 499.5,399.3 500.1,399.3 500.6,399.2 501.1,399.7 501.6,399.5 502.1,399.7 502.6,399.6 503.2,399.2 503.7,399.7 504.2,399.5 504.7,399.8 505.2,399.7 505.7,399.7 506.3,399.4 506.8,399.2 507.3,399.1 507.8,399.2 508.3,399.2 508.8,399.2 509.4,398.8 509.9,398.7 510.4,398.6 510.9,398.3 511.4,398.6 511.9,398.5 512.5,398.5 513.0,399.0 513.5,399.0 514.0,398.8 514.5,399.3 515.0,399.4 515.6,399.4 516.1,399.7 516.6,399.5 517.1,399.9 517.6,399.8 518.1,400.0 518.7,399.4 519.2,399.7 519.7,399.5 520.2,399.2 520.7,400.0 521.2,399.5 521.8,399.5 522.3,399.7 522.8,399.7 523.3,399.5 523.8,399.5 524.3,399.6 524.9,399.4 525.4,399.5 525.9,399.2 526.4,399.3 526.9,399.4 527.4,399.5 528.0,399.4 528.5,399.8 529.0,399.7 529.5,399.2 530.0,399.9 530.5,399.7 531.1,399.8 531.6,399.4 532.1,399.5 532.6,399.4 533.1,399.7 533.6,399.4 534.2,399.6 534.7,399.5 535.2,399.4 535.7,399.5 536.2,399.3 536.7,399.4 537.3,399.7 537.8,399.4 538.3,399.7 538.8,399.7 539.3,399.5 539.8,399.5 540.4,399.4 540.9,399.7 541.4,399.2 541.9,399.5 542.4,399.6 543.0,399.5 543.5,399.8 544.0,399.5 544.5,399.6 545.0,399.3 545.5,399.6 546.1,399.6 546.6,399.4 547.1,399.7 547.6,399.6 548.1,399.9 548.6,399.7 549.2,399.8 549.7,399.7 550.2,399.5 550.7,399.6 551.2,399.6 551.7,399.6 552.3,399.7 552.8,399.7 553.3,399.5 553.8,399.3 554.3,399.6 554.8,399.4 555.4,399.4 555.9,399.7 556.4,399.4 556.9,399.6 557.4,399.3 557.9,399.2 558.5,399.5 559.0,399.2 559.5,399.2 560.0,399.2 560.5,399.3 561.0,399.5 561.6,399.3 562.1,399.6 562.6,399.7 563.1,399.2 563.6,399.3 564.1,399.4 564.7,399.4 565.2,399.5 565.7,399.3 566.2,399.5 566.7,399.3 567.2,399.5 567.8,399.3 568.3,399.6 568.8,399.7 569.3,399.6 569.8,399.7 570.3,399.1 570.9,399.4 571.4,399.6 571.9,399.2 572.4,399.5 572.9,399.4 573.4,399.6 574.0,399.1 574.5,399.4 575.0,399.5 575.5,399.9 576.0,399.8 576.5,399.5 577.1,399.3 577.6,399.7 578.1,399.4 578.6,399.1 579.1,399.1 579.6,399.6 580.2,399.5 580.7,399.4 581.2,399.9 581.7,399.5 582.2,399.8 582.7,399.6 583.3,399.3 583.8,399.1 584.3,398.9 584.8,398.9 585.3,398.9 585.8,398.5 586.4,398.4 586.9,398.4 587.4,398.5 587.9,398.4 588.4,398.5 588.9,398.7 589.5,399.4 590.0,399.3 590.5,399.7 591.0,399.5 591.5,399.4 592.0,399.7 592.6,399.4 593.1,399.5 593.6,399.5 594.1,399.5 594.6,399.4 595.2,399.3 595.7,399.4 596.2,399.4 596.7,399.2 597.2,399.6 597.7,399.5 598.3,399.8 598.8,399.5 599.3,399.6 599.8,399.1 600.3,399.4 600.8,399.7 601.4,399.9 601.9,399.9 602.4,400.0 602.9,399.9 603.4,399.8 603.9,399.2 604.5,399.6 605.0,399.6 605.5,399.7 606.0,400.0 606.5,399.8 607.0,399.8 607.6,399.7 608.1,399.4 608.6,399.4 609.1,399.6 609.6,399.4 610.1,399.6 610.7,399.1 611.2,399.3 611.7,399.5 612.2,399.6 612.7,399.3 613.2,399.2 613.8,399.6 614.3,399.3 614.8,399.6 615.3,399.3 615.8,399.4 616.3,399.5 616.9,399.7 617.4,399.4 617.9,399.6 618.4,399.5 618.9,399.6 619.4,399.6 620.0,399.1 620.5,399.3 621.0,399.4 621.5,399.4 622.0,399.7 622.5,399.5 623.1,399.8 623.6,399.3 624.1,399.7 624.6,399.8 625.1,399.8 625.6,399.9 626.2,400.0 626.7,399.5 627.2,399.7 627.7,399.6 628.2,399.8 628.7,399.7 629.3,399.5 629.8,399.6 630.3,399.6 630.8,399.5 631.3,399.8 631.8,399.7 632.4,399.5 632.9,399.6 633.4,399.4 633.9,399.9 634.4,399.4 634.9,399.7 635.5,400.0 636.0,399.8 636.5,399.6 637.0,399.8 637.5,399.7 638.0,399.8 638.6,399.8 639.1,399.6 639.6,399.5 640.1,399.6 640.6,399.8 641.1,399.4 641.7,400.0 642.2,400.0 642.7,399.7 643.2,399.8 643.7,399.4 644.2,399.8 644.8,399.5 645.3,399.5 645.8,399.7 646.3,400.0 646.8,399.9 647.4,399.7 647.9,399.6 648.4,399.6 648.9,399.9 649.4,399.8 649.9,399.3 650.5,399.6 651.0,399.7 651.5,399.4 652.0,399.5 652.5,399.6 653.0,399.6 653.6,399.4 654.1,399.5 654.6,399.4 655.1,399.5 655.6,399.5 656.1,399.5 656.7,399.6 657.2,399.7 657.7,399.6 658.2,400.0 658.7,399.6 659.2,399.7 659.8,400.0 660.3,399.9 660.8,399.8 661.3,399.7 661.8,400.0 662.3,399.7 662.9,399.6 663.4,399.4 663.9,399.8 664.4,399.6 664.9,399.5 665.4,399.4 666.0,399.6 666.5,399.7 667.0,399.4 667.5,400.1 668.0,399.9 668.5,400.1 669.1,400.1 669.6,399.9 670.1,400.0 670.6,400.1 671.1,399.7 671.6,399.4" fill="none" stroke="#d3a52a" stroke-width="1.75" stroke-linejoin="round"/>
<path d="M51.7,465.3 52.2,465.3 52.7,465.0 53.3,465.0 53.8,465.2 54.3,465.0 54.8,465.1 55.3,465.2 55.8,465.3 56.4,465.0 56.9,465.1 57.4,465.2 57.9,465.3 58.4,465.0 58.9,465.1 59.5,465.2 60.0,464.9 60.5,465.0 61.0,465.0 61.5,465.2 62.0,465.0 62.6,465.0 63.1,464.8 63.6,464.9 64.1,465.0 64.6,464.9 65.1,464.9 65.7,465.1 66.2,464.8 66.7,464.8 67.2,465.0 67.7,465.1 68.2,465.0 68.8,465.3 69.3,465.2 69.8,465.4 70.3,465.2 70.8,465.2 71.3,465.2 71.9,465.3 72.4,465.2 72.9,465.2 73.4,465.2 73.9,465.2 74.4,465.0 75.0,465.2 75.5,465.3 76.0,465.3 76.5,465.0 77.0,465.1 77.5,465.0 78.1,465.2 78.6,465.1 79.1,465.0 79.6,465.2 80.1,465.3 80.6,465.5 81.2,465.0 81.7,464.9 82.2,465.0 82.7,465.1 83.2,465.0 83.7,465.2 84.3,465.5 84.8,465.4 85.3,465.1 85.8,465.1 86.3,465.3 86.8,465.3 87.4,465.3 87.9,465.4 88.4,465.4 88.9,465.3 89.4,465.3 89.9,465.1 90.5,465.3 91.0,465.2 91.5,465.0 92.0,465.3 92.5,465.1 93.0,465.3 93.6,465.5 94.1,465.5 94.6,465.3 95.1,465.3 95.6,465.6 96.1,465.6 96.7,465.4 97.2,465.3 97.7,465.3 98.2,465.2 98.7,465.4 99.2,465.3 99.8,465.2 100.3,465.4 100.8,465.3 101.3,465.2 101.8,464.9 102.3,465.0 102.9,465.2 103.4,465.1 103.9,465.2 104.4,465.2 104.9,465.2 105.5,465.3 106.0,465.0 106.5,464.9 107.0,465.1 107.5,465.3 108.0,465.2 108.6,465.3 109.1,465.1 109.6,465.3 110.1,465.4 110.6,465.1 111.1,465.1 111.7,465.4 112.2,465.3 112.7,465.2 113.2,465.2 113.7,465.2 114.2,465.3 114.8,465.2 115.3,465.4 115.8,465.3 116.3,465.3 116.8,465.4 117.3,465.4 117.9,465.4 118.4,465.2 118.9,465.4 119.4,465.2 119.9,465.1 120.4,465.4 121.0,465.3 121.5,465.3 122.0,465.4 122.5,465.5 123.0,465.3 123.5,465.3 124.1,465.3 124.6,465.3 125.1,465.5 125.6,465.2 126.1,465.4 126.6,465.3 127.2,465.3 127.7,465.3 128.2,465.4 128.7,465.4 129.2,465.4 129.7,465.3 130.3,465.4 130.8,465.2 131.3,465.5 131.8,465.4 132.3,465.2 132.8,465.4 133.4,465.2 133.9,465.1 134.4,465.4 134.9,465.2 135.4,465.5 135.9,465.4 136.5,465.2 137.0,465.1 137.5,465.1 138.0,465.1 138.5,465.1 139.0,465.2 139.6,465.4 140.1,465.2 140.6,465.4 141.1,465.3 141.6,465.1 142.1,465.2 142.7,465.2 143.2,465.3 143.7,465.5 144.2,465.3 144.7,465.2 145.2,465.3 145.8,465.2 146.3,465.4 146.8,465.2 147.3,465.4 147.8,465.0 148.3,465.1 148.9,465.2 149.4,465.3 149.9,465.3 150.4,465.6 150.9,465.4 151.4,465.2 152.0,465.2 152.5,465.1 153.0,465.5 153.5,465.2 154.0,465.1 154.5,465.3 155.1,465.5 155.6,465.4 156.1,465.4 156.6,465.6 157.1,465.4 157.7,465.6 158.2,465.4 158.7,465.4 159.2,465.1 159.7,465.4 160.2,465.1 160.8,465.4 161.3,465.3 161.8,465.2 162.3,465.2 162.8,465.1 163.3,465.5 163.9,465.2 164.4,465.1 164.9,465.0 165.4,465.2 165.9,464.9 166.4,464.8 167.0,465.1 167.5,464.7 168.0,464.7 168.5,464.6 169.0,464.9 169.5,464.9 170.1,465.0 170.6,464.7 171.1,464.7 171.6,464.8 172.1,464.8 172.6,464.5 173.2,464.3 173.7,464.5 174.2,464.3 174.7,464.7 175.2,464.5 175.7,464.5 176.3,464.7 176.8,464.4 177.3,464.2 177.8,464.4 178.3,464.0 178.8,463.9 179.4,464.1 179.9,464.0 180.4,464.1 180.9,463.8 181.4,463.8 181.9,463.8 182.5,463.9 183.0,463.8 183.5,464.1 184.0,463.9 184.5,463.8 185.0,464.1 185.6,463.8 186.1,463.9 186.6,463.8 187.1,463.9 187.6,463.8 188.1,464.0 188.7,464.0 189.2,464.0 189.7,464.2 190.2,464.1 190.7,464.3 191.2,464.2 191.8,463.7 192.3,463.9 192.8,463.8 193.3,464.0 193.8,463.9 194.3,463.9 194.9,464.1 195.4,464.2 195.9,463.9 196.4,464.0 196.9,464.1 197.4,464.2 198.0,464.1 198.5,464.2 199.0,463.9 199.5,464.0 200.0,464.3 200.5,464.3 201.1,464.4 201.6,464.2 202.1,464.5 202.6,464.6 203.1,464.5 203.6,464.6 204.2,464.5 204.7,464.7 205.2,464.6 205.7,464.7 206.2,464.7 206.8,464.8 207.3,464.8 207.8,464.9 208.3,464.9 208.8,464.9 209.3,465.0 209.9,465.2 210.4,465.1 210.9,465.2 211.4,465.0 211.9,464.9 212.4,465.2 213.0,465.2 213.5,465.1 214.0,465.1 214.5,465.2 215.0,465.5 215.5,465.3 216.1,465.2 216.6,465.4 217.1,465.3 217.6,465.0 218.1,465.3 218.6,465.2 219.2,465.1 219.7,465.1 220.2,465.1 220.7,465.4 221.2,465.5 221.7,465.3 222.3,465.4 222.8,465.5 223.3,465.3 223.8,465.6 224.3,465.2 224.8,465.4 225.4,465.3 225.9,465.2 226.4,465.5 226.9,465.5 227.4,465.2 227.9,465.5 228.5,465.4 229.0,465.6 229.5,465.6 230.0,465.4 230.5,465.3 231.0,465.4 231.6,465.3 232.1,465.6 232.6,465.4 233.1,465.6 233.6,465.6 234.1,465.5 234.7,465.4 235.2,465.4 235.7,465.0 236.2,464.1 236.7,463.3 237.2,462.5 237.8,462.1 238.3,462.6 238.8,463.1 239.3,464.2 239.8,464.7 240.3,465.2 240.9,465.5 241.4,465.4 241.9,465.6 242.4,465.5 242.9,465.6 243.4,465.5 244.0,465.3 244.5,465.6 245.0,465.6 245.5,465.5 246.0,465.5 246.5,465.4 247.1,465.5 247.6,465.8 248.1,465.4 248.6,465.4 249.1,465.2 249.6,465.3 250.2,465.0 250.7,464.8 251.2,464.1 251.3,463.6 251.5,463.5 251.6,462.8 251.7,462.1 251.8,461.0 252.0,459.7 252.1,457.5 252.2,455.2 252.4,452.5 252.5,449.0 252.6,445.2 252.7,440.5 252.9,435.5 253.0,430.1 253.1,424.5 253.3,418.5 253.4,412.8 253.5,408.2 253.7,403.9 253.8,401.1 253.9,399.7 254.0,399.4 254.2,400.6 254.3,403.3 254.4,407.5 254.6,412.2 254.7,417.5 254.8,423.2 254.9,429.2 255.1,434.5 255.2,439.9 255.3,444.4 255.5,448.4 255.6,452.1 255.7,454.9 255.8,457.3 256.0,459.3 256.1,460.6 256.2,461.8 256.4,462.6 256.5,463.2 256.6,463.4 256.8,464.0 256.9,464.2 257.0,464.7 257.1,464.6 257.7,464.7 258.2,465.0 258.7,465.2 259.2,465.1 259.7,465.5 260.2,465.4 260.8,465.3 261.3,465.3 261.8,465.4 262.3,465.3 262.8,465.4 263.3,465.4 263.9,465.4 264.4,465.1 264.9,465.6 265.4,465.4 265.9,465.5 266.4,465.6 267.0,465.7 267.5,465.6 268.0,465.8 268.5,465.8 269.0,465.6 269.5,465.8 270.1,465.5 270.6,465.5 271.1,465.5 271.6,465.6 272.1,465.7 272.6,465.6 273.2,465.7 273.7,465.5 274.2,465.6 274.7,466.0 275.2,465.8 275.7,465.7 276.3,465.9 276.8,465.9 277.3,465.6 277.8,465.7 278.3,465.8 278.8,465.8 279.4,465.8 279.9,465.8 280.4,465.7 280.9,465.7 281.4,465.7 281.9,465.7 282.5,465.8 283.0,465.9 283.5,466.0 284.0,465.8 284.5,466.2 285.1,466.1 285.6,466.0 286.1,465.7 286.6,465.6 287.1,465.6 287.6,465.6 288.2,465.5 288.7,465.6 289.2,465.8 289.7,465.8 290.2,465.9 290.7,466.0 291.3,465.7 291.8,466.1 292.3,465.9 292.8,466.0 293.3,465.8 293.8,465.6 294.4,465.8 294.9,465.7 295.4,465.7 295.9,465.8 296.4,465.5 296.9,465.8 297.5,465.6 298.0,465.5 298.5,465.6 299.0,465.6 299.5,465.7 300.0,465.7 300.6,465.7 301.1,465.6 301.6,465.8 302.1,465.7 302.6,465.6 303.1,466.0 303.7,465.8 304.2,465.7 304.7,465.6 305.2,465.7 305.7,465.8 306.2,465.8 306.8,465.6 307.3,466.0 307.8,465.7 308.3,465.6 308.8,465.7 309.3,465.7 309.9,465.8 310.4,466.0 310.9,465.5 311.4,465.5 311.9,465.5 312.4,465.6 313.0,465.7 313.5,466.1 314.0,466.0 314.5,466.0 315.0,466.0 315.5,465.8 316.1,465.8 316.6,466.0 317.1,466.1 317.6,466.1 318.1,466.2 318.6,465.9 319.2,466.0 319.7,465.8 320.2,466.0 320.7,466.0 321.2,465.9 321.7,466.1 322.3,465.9 322.8,466.0 323.3,465.9 323.8,465.7 324.3,466.0 324.8,465.8 325.4,465.5 325.9,466.0 326.4,465.8 326.9,466.0 327.4,465.8 327.9,466.0 328.5,465.9 329.0,465.9 329.5,465.8 330.0,465.7 330.5,465.8 331.0,465.8 331.6,465.5 332.1,465.4 332.6,465.7 333.1,465.8 333.6,465.8 334.1,465.5 334.7,465.6 335.2,465.6 335.7,465.6 336.2,465.7 336.7,466.0 337.3,465.8 337.8,465.8 338.3,465.9 338.8,465.9 339.3,466.0 339.8,466.0 340.4,465.8 340.9,465.6 341.4,465.9 341.9,465.9 342.4,466.0 342.9,465.9 343.5,465.9 344.0,465.8 344.5,465.5 345.0,465.4 345.5,465.5 346.0,464.9 346.6,464.5 347.1,464.5 347.6,464.4 348.1,464.8 348.6,465.0 349.1,465.3 349.7,465.4 350.2,465.6 350.7,465.9 351.2,465.9 351.7,466.1 352.2,465.9 352.8,466.0 353.3,465.8 353.8,466.0 354.3,466.0 354.8,465.7 355.3,465.7 355.9,465.6 356.4,465.6 356.9,465.6 357.4,465.9 357.9,466.0 358.4,465.9 359.0,465.8 359.5,466.0 360.0,465.9 360.5,465.8 361.0,465.5 361.5,465.8 362.1,465.9 362.6,465.8 363.1,465.6 363.6,465.9 364.1,466.2 364.6,465.9 365.2,465.7 365.7,465.8 366.2,465.8 366.7,465.9 367.2,465.8 367.7,465.8 368.3,465.6 368.8,465.6 369.3,465.9 369.8,465.8 370.3,466.0 370.8,465.8 371.4,465.7 371.9,466.0 372.4,465.8 372.9,465.9 373.4,465.9 373.9,465.9 374.5,466.0 375.0,465.8 375.5,465.8 376.0,465.8 376.5,465.9 377.0,466.0 377.6,466.1 378.1,466.0 378.6,465.9 379.1,465.9 379.6,465.9 380.1,466.0 380.7,466.0 381.2,465.9 381.7,466.2 382.2,466.0 382.7,465.9 383.2,466.0 383.8,466.1 384.3,466.3 384.8,465.9 385.3,466.0 385.8,466.3 386.3,466.2 386.9,466.1 387.4,466.2 387.9,466.0 388.4,466.0 388.9,466.0 389.5,466.0 390.0,466.0 390.5,466.0 391.0,465.9 391.5,466.0 392.0,465.9 392.6,465.9 393.1,466.1 393.6,466.2 394.1,465.9 394.6,465.9 395.1,465.9 395.7,466.0 396.2,465.9 396.7,466.0 397.2,465.8 397.7,465.8 398.2,465.8 398.8,465.8 399.3,465.9 399.8,466.3 400.3,465.9 400.8,465.9 401.3,465.9 401.9,466.0 402.4,466.2 402.9,466.1 403.4,466.0 403.9,466.0 404.4,465.9 405.0,466.1 405.5,466.0 406.0,466.0 406.5,466.1 407.0,466.1 407.5,465.9 408.1,466.0 408.6,466.1 409.1,466.2 409.6,466.0 410.1,466.2 410.6,466.4 411.2,466.1 411.7,466.2 412.2,466.1 412.7,466.1 413.2,466.1 413.7,466.1 414.3,465.9 414.8,466.1 415.3,466.3 415.8,466.1 416.3,466.1 416.8,466.1 417.4,466.1 417.9,466.1 418.4,466.2 418.9,466.1 419.4,466.0 419.9,466.2 420.5,466.0 421.0,466.0 421.5,466.0 422.0,465.9 422.5,465.9 423.0,466.1 423.6,465.9 424.1,465.9 424.6,465.9 425.1,465.9 425.6,466.3 426.1,466.2 426.7,466.2 427.2,466.1 427.7,465.8 428.2,466.0 428.7,466.2 429.2,465.9 429.8,466.2 430.3,466.1 430.8,466.2 431.3,466.0 431.8,466.0 432.3,465.9 432.9,465.9 433.4,466.0 433.9,466.1 434.4,466.1 434.9,466.1 435.4,466.1 436.0,465.8 436.5,466.2 437.0,465.9 437.5,466.2 438.0,465.9 438.5,466.1 439.1,466.1 439.6,466.1 440.1,466.3 440.6,466.2 441.1,466.0 441.7,466.0 442.2,466.0 442.7,465.9 443.2,465.8 443.7,466.1 444.2,466.0 444.8,466.2 445.3,466.1 445.8,466.2 446.3,466.6 446.8,466.3 447.3,465.9 447.9,466.2 448.4,466.2 448.9,465.9 449.4,466.1 449.9,466.1 450.4,466.3 451.0,466.3 451.5,466.2 452.0,466.1 452.5,466.1 453.0,466.3 453.5,466.2 454.1,466.1 454.6,466.3 455.1,466.0 455.6,466.2 456.1,466.0 456.6,466.0 457.2,466.2 457.7,466.1 458.2,466.1 458.7,466.1 459.2,466.2 459.7,466.1 460.3,466.2 460.8,466.0 461.3,466.1 461.8,466.4 462.3,466.1 462.8,466.2 463.4,466.1 463.9,466.0 464.4,466.2 464.9,466.2 465.4,466.0 465.9,466.0 466.5,466.0 467.0,466.0 467.5,466.1 468.0,465.9 468.5,466.1 469.0,466.1 469.6,466.2 470.1,466.2 470.6,466.2 471.1,466.0 471.6,466.1 472.1,466.2 472.7,466.1 473.2,466.2 473.7,466.3 474.2,466.1 474.7,466.1 475.2,466.1 475.8,465.9 476.3,466.0 476.8,465.9 477.3,466.0 477.8,466.3 478.3,466.1 478.9,466.1 479.4,466.2 479.9,466.1 480.4,466.4 480.9,466.3 481.4,466.2 482.0,466.2 482.5,466.2 483.0,466.1 483.5,466.1 484.0,466.2 484.5,466.1 485.1,466.1 485.6,466.2 486.1,466.0 486.6,466.0 487.1,466.1 487.6,466.1 488.2,466.2 488.7,466.2 489.2,466.1 489.7,466.3 490.2,466.0 490.7,466.1 491.3,466.3 491.8,466.4 492.3,466.1 492.8,466.3 493.3,466.3 493.9,466.3 494.4,466.2 494.9,466.3 495.4,466.4 495.9,466.5 496.4,466.2 497.0,466.4 497.5,466.2 498.0,466.6 498.5,466.4 499.0,466.1 499.5,466.4 500.1,466.3 500.6,466.3 501.1,466.4 501.6,466.5 502.1,466.4 502.6,466.4 503.2,466.2 503.7,466.3 504.2,466.2 504.7,466.3 505.2,466.0 505.7,466.2 506.3,466.0 506.8,466.2 507.3,466.4 507.8,466.5 508.3,466.2 508.8,466.1 509.4,466.0 509.9,465.9 510.4,465.5 510.9,465.4 511.4,465.5 511.9,465.6 512.5,465.5 513.0,465.8 513.5,465.8 514.0,465.9 514.5,466.2 515.0,466.3 515.6,466.2 516.1,466.2 516.6,466.4 517.1,466.4 517.6,466.3 518.1,466.4 518.7,466.4 519.2,466.4 519.7,466.3 520.2,466.5 520.7,466.5 521.2,466.4 521.8,466.4 522.3,466.4 522.8,466.4 523.3,466.4 523.8,466.4 524.3,466.3 524.9,466.4 525.4,466.6 525.9,466.5 526.4,466.5 526.9,466.6 527.4,466.4 528.0,466.3 528.5,466.4 529.0,466.2 529.5,466.2 530.0,466.3 530.5,466.2 531.1,466.0 531.6,466.1 532.1,466.1 532.6,466.4 533.1,466.5 533.6,466.5 534.2,466.3 534.7,466.3 535.2,466.5 535.7,466.4 536.2,466.5 536.7,466.5 537.3,466.7 537.8,466.5 538.3,466.6 538.8,466.4 539.3,466.6 539.8,466.4 540.4,466.5 540.9,466.5 541.4,466.4 541.9,466.4 542.4,466.3 543.0,466.5 543.5,466.3 544.0,466.5 544.5,466.3 545.0,466.3 545.5,466.1 546.1,466.4 546.6,466.5 547.1,466.5 547.6,466.5 548.1,466.3 548.6,466.4 549.2,466.4 549.7,466.6 550.2,466.5 550.7,466.6 551.2,466.5 551.7,466.5 552.3,466.4 552.8,466.6 553.3,466.4 553.8,466.5 554.3,466.3 554.8,466.3 555.4,466.3 555.9,466.4 556.4,466.3 556.9,466.3 557.4,466.4 557.9,466.4 558.5,466.3 559.0,466.2 559.5,466.4 560.0,466.3 560.5,466.3 561.0,466.3 561.6,466.2 562.1,466.3 562.6,466.7 563.1,466.4 563.6,466.1 564.1,466.5 564.7,466.3 565.2,466.2 565.7,466.4 566.2,466.6 566.7,466.5 567.2,466.6 567.8,466.6 568.3,466.6 568.8,466.5 569.3,466.7 569.8,466.3 570.3,466.5 570.9,466.4 571.4,466.5 571.9,466.6 572.4,466.3 572.9,466.4 573.4,466.6 574.0,466.4 574.5,466.5 575.0,466.5 575.5,466.5 576.0,466.6 576.5,466.2 577.1,466.3 577.6,466.4 578.1,466.5 578.6,466.5 579.1,466.5 579.6,466.6 580.2,466.4 580.7,466.4 581.2,466.3 581.7,466.5 582.2,466.5 582.7,466.4 583.3,466.7 583.8,466.3 584.3,466.4 584.8,466.5 585.3,466.3 585.8,466.1 586.4,466.1 586.9,465.7 587.4,465.8 587.9,465.8 588.4,466.2 588.9,466.3 589.5,466.2 590.0,466.2 590.5,466.3 591.0,466.5 591.5,466.3 592.0,466.4 592.6,466.3 593.1,466.3 593.6,466.4 594.1,466.3 594.6,466.5 595.2,466.5 595.7,466.5 596.2,466.6 596.7,466.2 597.2,466.2 597.7,466.6 598.3,466.6 598.8,466.2 599.3,466.3 599.8,466.5 600.3,466.6 600.8,466.3 601.4,466.5 601.9,466.5 602.4,466.5 602.9,466.9 603.4,466.6 603.9,466.6 604.5,466.6 605.0,466.7 605.5,466.6 606.0,466.3 606.5,466.7 607.0,466.5 607.6,466.3 608.1,466.5 608.6,466.5 609.1,466.6 609.6,466.4 610.1,466.4 610.7,466.5 611.2,466.4 611.7,466.3 612.2,466.5 612.7,466.4 613.2,466.6 613.8,466.5 614.3,466.4 614.8,466.4 615.3,466.4 615.8,466.6 616.3,466.5 616.9,466.5 617.4,466.6 617.9,466.8 618.4,466.4 618.9,466.3 619.4,466.3 620.0,466.5 620.5,466.5 621.0,466.4 621.5,466.7 622.0,466.5 622.5,466.8 623.1,466.9 623.6,466.7 624.1,466.8 624.6,466.5 625.1,466.7 625.6,466.5 626.2,466.7 626.7,466.7 627.2,466.9 627.7,466.5 628.2,466.4 628.7,466.6 629.3,466.6 629.8,466.5 630.3,466.5 630.8,466.7 631.3,466.5 631.8,466.5 632.4,466.7 632.9,466.9 633.4,466.7 633.9,466.6 634.4,466.6 634.9,466.6 635.5,466.4 636.0,466.5 636.5,466.5 637.0,466.6 637.5,466.7 638.0,466.4 638.6,466.4 639.1,466.8 639.6,466.5 640.1,466.6 640.6,466.6 641.1,466.5 641.7,466.7 642.2,466.8 642.7,466.9 643.2,466.7 643.7,466.7 644.2,466.6 644.8,466.6 645.3,466.6 645.8,466.6 646.3,466.7 646.8,466.8 647.4,466.7 647.9,466.6 648.4,466.7 648.9,466.7 649.4,466.6 649.9,466.7 650.5,466.7 651.0,466.7 651.5,466.6 652.0,466.8 652.5,466.6 653.0,466.8 653.6,466.5 654.1,466.7 654.6,466.8 655.1,466.9 655.6,466.7 656.1,466.7 656.7,466.4 657.2,466.4 657.7,466.5 658.2,466.6 658.7,466.6 659.2,466.7 659.8,466.7 660.3,466.7 660.8,466.4 661.3,466.6 661.8,466.6 662.3,466.5 662.9,466.5 663.4,466.5 663.9,466.4 664.4,466.6 664.9,466.6 665.4,466.7 666.0,466.4 666.5,466.8 667.0,466.7 667.5,466.7 668.0,466.7 668.5,466.8 669.1,466.6 669.6,466.7 670.1,466.7 670.6,466.7 671.1,466.7 671.6,466.7" fill="none" stroke="#bb80e0" stroke-width="1.75" stroke-linejoin="round"/>
<path d="M51.7,532.7 52.2,532.4 52.7,532.7 53.3,532.5 53.8,532.6 54.3,532.5 54.8,532.7 55.3,532.6 55.8,532.7 56.4,532.8 56.9,532.9 57.4,532.4 57.9,532.6 58.4,532.2 58.9,532.6 59.5,532.1 60.0,532.2 60.5,532.5 61.0,532.9 61.5,532.5 62.0,532.5 62.6,532.7 63.1,532.7 63.6,532.7 64.1,532.6 64.6,532.5 65.1,532.9 65.7,533.0 66.2,532.6 66.7,532.6 67.2,532.5 67.7,532.6 68.2,532.4 68.8,532.6 69.3,532.7 69.8,532.6 70.3,532.5 70.8,532.7 71.3,532.4 71.9,532.5 72.4,532.6 72.9,532.3 73.4,532.1 73.9,532.1 74.4,532.5 75.0,532.5 75.5,532.4 76.0,532.1 76.5,532.5 77.0,532.7 77.5,532.5 78.1,532.8 78.6,532.6 79.1,532.6 79.6,532.6 80.1,532.4 80.6,532.7 81.2,532.5 81.7,532.4 82.2,532.4 82.7,532.9 83.2,532.6 83.7,532.4 84.3,532.6 84.8,532.6 85.3,532.6 85.8,532.5 86.3,532.4 86.8,533.0 87.4,532.7 87.9,532.9 88.4,532.8 88.9,532.7 89.4,532.6 89.9,532.9 90.5,532.7 91.0,532.4 91.5,532.4 92.0,532.8 92.5,532.4 93.0,532.1 93.6,532.6 94.1,532.8 94.6,532.4 95.1,532.6 95.6,532.6 96.1,532.7 96.7,532.5 97.2,532.7 97.7,532.8 98.2,532.7 98.7,532.9 99.2,532.8 99.8,532.5 100.3,532.6 100.8,532.7 101.3,532.7 101.8,532.9 102.3,533.0 102.9,532.5 103.4,532.3 103.9,532.2 104.4,532.5 104.9,532.4 105.5,532.7 106.0,532.5 106.5,532.8 107.0,532.8 107.5,532.9 108.0,533.1 108.6,532.7 109.1,532.8 109.6,532.6 110.1,532.7 110.6,532.7 111.1,532.7 111.7,532.6 112.2,533.0 112.7,532.8 113.2,533.0 113.7,532.4 114.2,532.6 114.8,532.7 115.3,532.9 115.8,532.6 116.3,532.4 116.8,532.4 117.3,532.9 117.9,532.8 118.4,532.6 118.9,532.9 119.4,532.5 119.9,532.5 120.4,532.6 121.0,532.7 121.5,532.7 122.0,532.7 122.5,532.4 123.0,532.9 123.5,532.9 124.1,533.0 124.6,532.8 125.1,532.9 125.6,532.7 126.1,532.6 126.6,532.8 127.2,532.7 127.7,532.7 128.2,532.7 128.7,532.4 129.2,532.5 129.7,532.6 130.3,533.0 130.8,532.7 131.3,533.2 131.8,532.7 132.3,532.8 132.8,532.9 133.4,532.8 133.9,532.6 134.4,532.4 134.9,532.5 135.4,532.7 135.9,532.6 136.5,533.2 137.0,532.7 137.5,533.4 138.0,532.7 138.5,532.7 139.0,532.5 139.6,532.6 140.1,532.5 140.6,532.6 141.1,532.5 141.6,532.3 142.1,532.4 142.7,532.9 143.2,532.6 143.7,532.8 144.2,532.7 144.7,532.6 145.2,532.5 145.8,532.4 146.3,532.6 146.8,532.8 147.3,532.4 147.8,532.8 148.3,532.8 148.9,532.7 149.4,532.5 149.9,532.7 150.4,532.7 150.9,532.5 151.4,532.9 152.0,532.4 152.5,532.1 153.0,532.9 153.5,532.5 154.0,532.5 154.5,532.5 155.1,532.7 155.6,532.5 156.1,532.7 156.6,532.5 157.1,532.6 157.7,532.4 158.2,532.7 158.7,532.4 159.2,532.4 159.7,532.3 160.2,532.4 160.8,532.8 161.3,532.8 161.8,532.6 162.3,532.9 162.8,532.7 163.3,532.7 163.9,532.4 164.4,532.2 164.9,532.3 165.4,532.5 165.9,532.1 166.4,532.4 167.0,532.4 167.5,532.4 168.0,532.1 168.5,531.8 169.0,531.8 169.5,531.6 170.1,532.0 170.6,532.0 171.1,531.5 171.6,531.6 172.1,531.5 172.6,531.8 173.2,531.8 173.7,531.4 174.2,531.6 174.7,531.8 175.2,531.4 175.7,531.3 176.3,531.3 176.8,531.0 177.3,531.3 177.8,530.9 178.3,531.3 178.8,531.2 179.4,531.5 179.9,531.2 180.4,530.9 180.9,530.8 181.4,530.9 181.9,530.8 182.5,530.5 183.0,531.1 183.5,531.0 184.0,530.7 184.5,530.6 185.0,530.6 185.6,530.9 186.1,530.7 186.6,530.8 187.1,531.0 187.6,530.9 188.1,531.0 188.7,530.8 189.2,530.7 189.7,530.8 190.2,531.2 190.7,530.9 191.2,531.1 191.8,530.6 192.3,531.1 192.8,531.0 193.3,530.9 193.8,531.0 194.3,531.0 194.9,531.0 195.4,531.0 195.9,531.2 196.4,531.1 196.9,530.9 197.4,530.9 198.0,531.1 198.5,530.9 199.0,530.6 199.5,530.8 200.0,531.3 200.5,531.3 201.1,531.1 201.6,531.6 202.1,531.5 202.6,531.5 203.1,532.0 203.6,531.9 204.2,531.5 204.7,531.7 205.2,532.0 205.7,531.7 206.2,531.4 206.8,531.6 207.3,531.5 207.8,531.7 208.3,532.2 208.8,532.0 209.3,531.6 209.9,531.8 210.4,532.5 210.9,532.3 211.4,532.3 211.9,532.3 212.4,532.2 213.0,532.2 213.5,532.3 214.0,532.2 214.5,532.2 215.0,532.2 215.5,532.2 216.1,532.3 216.6,532.4 217.1,532.2 217.6,532.6 218.1,532.4 218.6,532.6 219.2,532.5 219.7,532.7 220.2,532.2 220.7,532.1 221.2,532.4 221.7,532.2 222.3,532.6 222.8,532.4 223.3,532.9 223.8,532.6 224.3,532.4 224.8,532.6 225.4,532.4 225.9,532.3 226.4,533.0 226.9,532.7 227.4,532.3 227.9,532.5 228.5,532.2 229.0,532.6 229.5,532.6 230.0,532.6 230.5,532.3 231.0,532.6 231.6,532.7 232.1,532.6 232.6,532.2 233.1,532.4 233.6,532.1 234.1,531.5 234.3,531.8 234.4,531.4 234.5,531.6 234.7,530.9 234.8,530.9 234.9,530.6 235.0,530.3 235.2,529.4 235.3,529.2 235.4,528.6 235.6,528.2 235.7,527.7 235.8,526.9 236.0,525.7 236.1,525.0 236.2,524.3 236.3,523.4 236.5,522.3 236.6,521.4 236.7,520.6 236.9,519.4 237.0,518.6 237.1,517.7 237.2,517.1 237.4,516.6 237.5,516.1 237.6,515.9 237.8,515.3 237.9,515.5 238.0,515.9 238.1,516.4 238.3,516.8 238.4,517.4 238.5,518.7 238.7,519.6 238.8,520.3 238.9,521.4 239.1,522.4 239.2,523.1 239.3,524.1 239.4,524.8 239.6,526.1 239.7,526.5 239.8,527.3 240.0,527.6 240.1,528.4 240.2,529.2 240.3,529.9 240.5,529.9 240.6,530.4 240.7,530.9 240.9,530.8 241.0,531.4 241.1,531.7 241.2,531.5 241.4,531.5 241.5,531.9 241.6,532.1 241.8,531.9 241.9,532.0 242.4,532.1 242.9,532.1 243.4,532.2 244.0,532.4 244.5,532.2 245.0,532.6 245.5,532.6 246.0,532.5 246.5,532.5 247.1,532.3 247.6,532.4 248.1,532.3 248.6,531.9 249.1,532.1 249.6,532.4 250.2,532.2 250.7,531.6 251.2,531.1 251.3,530.9 251.5,530.6 251.6,529.8 251.7,529.2 251.8,528.0 252.0,526.8 252.1,525.1 252.2,522.6 252.4,519.6 252.5,516.2 252.6,512.3 252.7,507.7 252.9,502.7 253.0,497.3 253.1,491.0 253.3,485.5 253.4,480.2 253.5,474.7 253.7,470.9 253.8,468.1 253.9,466.1 254.0,466.2 254.2,467.4 254.3,469.9 254.4,473.9 254.6,478.7 254.7,484.1 254.8,490.2 254.9,495.5 255.1,501.2 255.2,506.2 255.3,511.1 255.5,515.3 255.6,519.0 255.7,521.3 255.8,524.2 256.0,526.4 256.1,527.8 256.2,528.7 256.4,529.6 256.5,530.5 256.6,530.5 256.8,531.0 256.9,531.1 257.0,531.6 257.1,531.4 257.7,532.3 258.2,532.1 258.7,532.6 259.2,532.2 259.7,532.4 260.2,532.5 260.8,532.5 261.3,532.5 261.8,532.4 262.3,532.7 262.8,532.5 263.3,532.7 263.9,532.4 264.4,532.5 264.9,532.6 265.4,532.6 265.9,532.5 266.4,532.6 267.0,532.7 267.5,532.5 268.0,532.4 268.5,532.6 269.0,532.4 269.5,532.6 270.1,532.9 270.6,532.7 271.1,532.7 271.6,532.8 272.1,532.8 272.6,532.8 273.2,532.7 273.7,532.6 274.2,532.9 274.7,532.9 275.2,533.1 275.7,532.8 276.3,532.9 276.8,532.5 277.3,532.3 277.8,532.7 278.3,532.5 278.8,532.9 279.4,532.8 279.9,532.9 280.4,532.5 280.9,532.4 281.4,532.7 281.9,532.3 282.5,532.8 283.0,533.0 283.5,532.3 284.0,532.6 284.5,532.5 285.1,532.7 285.6,532.5 286.1,532.7 286.6,532.2 287.1,532.5 287.6,532.7 288.2,532.6 288.7,532.4 289.2,532.7 289.7,532.7 290.2,532.7 290.7,532.4 291.3,532.4 291.8,532.6 292.3,532.9 292.8,532.4 293.3,532.7 293.8,532.8 294.4,532.9 294.9,532.6 295.4,532.6 295.9,532.4 296.4,532.8 296.9,532.6 297.5,532.8 298.0,532.5 298.5,532.5 299.0,532.5 299.5,532.8 300.0,532.5 300.6,532.7 301.1,532.5 301.6,532.5 302.1,532.8 302.6,532.9 303.1,532.9 303.7,532.8 304.2,532.6 304.7,532.9 305.2,532.4 305.7,532.6 306.2,532.7 306.8,532.8 307.3,532.8 307.8,533.0 308.3,533.0 308.8,532.7 309.3,533.2 309.9,533.0 310.4,533.1 310.9,533.2 311.4,532.8 311.9,533.2 312.4,532.7 313.0,532.8 313.5,532.7 314.0,532.8 314.5,532.7 315.0,533.0 315.5,532.7 316.1,533.0 316.6,532.9 317.1,532.8 317.6,533.1 318.1,533.2 318.6,533.0 319.2,533.0 319.7,532.6 320.2,532.3 320.7,532.5 321.2,532.8 321.7,532.5 322.3,532.9 322.8,532.9 323.3,532.9 323.8,532.9 324.3,533.0 324.8,533.4 325.4,532.8 325.9,533.1 326.4,533.2 326.9,533.0 327.4,532.7 327.9,532.9 328.5,533.0 329.0,532.9 329.5,533.0 330.0,532.9 330.5,533.0 331.0,532.5 331.6,532.7 332.1,532.9 332.6,532.8 333.1,532.7 333.6,533.1 334.1,532.6 334.7,532.7 335.2,532.5 335.7,532.9 336.2,533.1 336.7,532.7 337.3,532.2 337.8,532.4 338.3,532.5 338.8,532.5 339.3,532.6 339.8,532.9 340.4,533.0 340.9,532.8 341.4,532.6 341.9,532.5 342.4,533.0 342.9,532.9 343.5,533.1 344.0,532.8 344.5,532.7 345.0,532.6 345.5,532.5 346.0,532.1 346.6,531.8 347.1,531.7 347.6,531.5 348.1,531.8 348.6,531.9 349.1,532.4 349.7,532.5 350.2,532.4 350.7,533.1 351.2,532.6 351.7,532.9 352.2,532.9 352.8,533.1 353.3,532.9 353.8,533.2 354.3,533.2 354.8,533.0 355.3,533.3 355.9,533.2 356.4,532.9 356.9,533.4 357.4,533.1 357.9,533.1 358.4,533.0 359.0,532.5 359.5,532.3 360.0,533.0 360.5,532.7 361.0,532.5 361.5,533.1 362.1,533.0 362.6,532.8 363.1,532.8 363.6,532.9 364.1,532.8 364.6,532.7 365.2,532.6 365.7,532.8 366.2,532.2 366.7,532.4 367.2,533.3 367.7,532.9 368.3,532.9 368.8,532.8 369.3,532.7 369.8,532.9 370.3,533.0 370.8,533.3 371.4,532.8 371.9,532.7 372.4,532.6 372.9,532.8 373.4,532.3 373.9,532.5 374.5,532.7 375.0,532.7 375.5,533.0 376.0,532.7 376.5,532.9 377.0,533.3 377.6,533.0 378.1,533.3 378.6,533.4 379.1,533.2 379.6,533.1 380.1,533.2 380.7,533.0 381.2,532.9 381.7,532.7 382.2,533.0 382.7,532.8 383.2,532.8 383.8,532.5 384.3,533.1 384.8,532.8 385.3,532.9 385.8,532.7 386.3,532.5 386.9,532.9 387.4,533.0 387.9,532.8 388.4,532.9 388.9,532.8 389.5,532.7 390.0,532.7 390.5,532.9 391.0,532.7 391.5,532.5 392.0,532.8 392.6,532.9 393.1,533.0 393.6,533.1 394.1,532.7 394.6,533.0 395.1,533.0 395.7,533.0 396.2,532.7 396.7,532.9 397.2,533.0 397.7,532.7 398.2,533.0 398.8,532.8 399.3,533.0 399.8,532.9 400.3,533.3 400.8,533.2 401.3,532.6 401.9,532.5 402.4,532.7 402.9,532.9 403.4,532.8 403.9,532.6 404.4,532.7 405.0,532.8 405.5,533.2 406.0,532.9 406.5,533.0 407.0,533.1 407.5,532.8 408.1,533.1 408.6,532.8 409.1,532.7 409.6,532.6 410.1,532.4 410.6,532.8 411.2,532.8 411.7,532.5 412.2,532.5 412.7,532.6 413.2,533.1 413.7,533.0 414.3,533.0 414.8,532.7 415.3,532.9 415.8,532.9 416.3,532.7 416.8,532.6 417.4,532.7 417.9,532.7 418.4,532.8 418.9,532.7 419.4,532.5 419.9,532.6 420.5,532.7 421.0,533.0 421.5,532.7 422.0,532.5 422.5,532.8 423.0,532.7 423.6,532.8 424.1,532.9 424.6,532.6 425.1,532.9 425.6,532.8 426.1,532.7 426.7,533.0 427.2,532.5 427.7,532.7 428.2,532.9 428.7,533.0 429.2,532.8 429.8,532.5 430.3,533.0 430.8,532.5 431.3,532.9 431.8,532.7 432.3,532.5 432.9,532.6 433.4,533.0 433.9,532.7 434.4,533.1 434.9,532.8 435.4,533.1 436.0,533.1 436.5,532.9 437.0,532.8 437.5,532.7 438.0,532.8 438.5,532.8 439.1,533.0 439.6,532.8 440.1,532.5 440.6,532.3 441.1,532.6 441.7,532.7 442.2,532.8 442.7,532.6 443.2,532.5 443.7,532.5 444.2,532.9 444.8,533.0 445.3,532.5 445.8,532.6 446.3,533.1 446.8,533.2 447.3,533.3 447.9,533.0 448.4,532.6 448.9,532.9 449.4,532.7 449.9,533.0 450.4,532.7 451.0,532.8 451.5,532.9 452.0,533.0 452.5,533.0 453.0,532.8 453.5,533.0 454.1,532.9 454.6,533.0 455.1,533.0 455.6,533.0 456.1,533.0 456.6,533.2 457.2,533.4 457.7,533.1 458.2,533.2 458.7,533.0 459.2,533.0 459.7,532.9 460.3,532.9 460.8,532.8 461.3,533.0 461.8,533.0 462.3,533.0 462.8,532.9 463.4,533.0 463.9,533.0 464.4,532.9 464.9,532.7 465.4,532.6 465.9,532.7 466.5,532.5 467.0,532.8 467.5,532.8 468.0,532.6 468.5,532.9 469.0,533.1 469.6,532.9 470.1,532.7 470.6,532.9 471.1,532.7 471.6,532.4 472.1,532.8 472.7,532.9 473.2,532.7 473.7,533.1 474.2,532.9 474.7,532.9 475.2,532.9 475.8,532.9 476.3,533.2 476.8,532.7 477.3,533.1 477.8,532.6 478.3,532.5 478.9,532.7 479.4,532.8 479.9,532.7 480.4,532.8 480.9,532.6 481.4,532.6 482.0,532.9 482.5,532.7 483.0,532.6 483.5,532.8 484.0,532.7 484.5,533.0 485.1,532.8 485.6,532.6 486.1,533.0 486.6,532.9 487.1,532.9 487.6,532.9 488.2,532.8 488.7,532.8 489.2,533.0 489.7,532.8 490.2,533.0 490.7,533.0 491.3,533.1 491.8,533.0 492.3,533.2 492.8,532.7 493.3,532.7 493.9,532.3 494.4,532.8 494.9,532.6 495.4,532.9 495.9,533.0 496.4,533.1 497.0,532.8 497.5,532.9 498.0,533.0 498.5,532.4 499.0,532.7 499.5,532.8 500.1,532.8 500.6,532.9 501.1,532.6 501.6,532.9 502.1,532.7 502.6,533.0 503.2,533.1 503.7,533.2 504.2,533.2 504.7,533.0 505.2,532.8 505.7,532.8 506.3,532.9 506.8,532.8 507.3,533.0 507.8,533.1 508.3,532.7 508.8,532.9 509.4,533.2 509.9,533.3 510.4,532.8 510.9,532.8 511.4,532.6 511.9,532.7 512.5,533.0 513.0,533.0 513.5,532.9 514.0,533.1 514.5,533.1 515.0,533.0 515.6,533.3 516.1,532.6 516.6,532.7 517.1,532.6 517.6,532.8 518.1,533.1 518.7,532.4 519.2,533.2 519.7,532.7 520.2,532.8 520.7,532.8 521.2,532.8 521.8,532.6 522.3,532.5 522.8,532.4 523.3,532.6 523.8,532.7 524.3,533.0 524.9,532.9 525.4,532.9 525.9,532.6 526.4,533.1 526.9,532.8 527.4,532.4 528.0,532.9 528.5,533.0 529.0,533.2 529.5,533.2 530.0,533.0 530.5,533.0 531.1,533.1 531.6,533.1 532.1,532.8 532.6,533.0 533.1,532.6 533.6,532.9 534.2,532.8 534.7,533.1 535.2,532.8 535.7,532.9 536.2,532.7 536.7,532.8 537.3,533.1 537.8,533.0 538.3,532.9 538.8,532.8 539.3,532.9 539.8,532.8 540.4,532.9 540.9,533.0 541.4,533.2 541.9,533.0 542.4,533.2 543.0,532.7 543.5,533.1 544.0,533.1 544.5,533.2 545.0,533.3 545.5,533.2 546.1,533.4 546.6,533.0 547.1,532.7 547.6,533.2 548.1,533.2 548.6,533.1 549.2,533.0 549.7,532.7 550.2,532.9 550.7,532.5 551.2,532.7 551.7,532.5 552.3,532.9 552.8,533.0 553.3,532.9 553.8,533.0 554.3,533.0 554.8,533.0 555.4,532.7 555.9,533.2 556.4,533.0 556.9,533.2 557.4,532.7 557.9,533.1 558.5,533.3 559.0,533.0 559.5,533.3 560.0,533.2 560.5,533.1 561.0,532.8 561.6,533.3 562.1,533.2 562.6,533.0 563.1,533.3 563.6,533.3 564.1,533.0 564.7,533.0 565.2,533.1 565.7,533.2 566.2,533.4 566.7,532.6 567.2,532.9 567.8,532.7 568.3,533.0 568.8,533.0 569.3,533.1 569.8,533.1 570.3,533.3 570.9,532.9 571.4,532.8 571.9,532.8 572.4,532.8 572.9,533.3 573.4,533.1 574.0,533.2 574.5,532.9 575.0,532.9 575.5,533.0 576.0,532.9 576.5,532.8 577.1,532.9 577.6,533.1 578.1,533.3 578.6,533.0 579.1,532.9 579.6,532.8 580.2,533.1 580.7,533.2 581.2,533.2 581.7,533.0 582.2,533.0 582.7,533.1 583.3,533.1 583.8,533.1 584.3,533.1 584.8,533.2 585.3,533.1 585.8,533.0 586.4,533.2 586.9,533.2 587.4,533.1 587.9,533.1 588.4,533.4 588.9,532.9 589.5,533.0 590.0,533.0 590.5,532.8 591.0,532.6 591.5,533.0 592.0,533.3 592.6,533.2 593.1,533.3 593.6,533.0 594.1,532.9 594.6,532.9 595.2,533.1 595.7,533.0 596.2,533.0 596.7,533.0 597.2,532.9 597.7,533.1 598.3,532.9 598.8,532.9 599.3,532.8 599.8,532.8 600.3,532.9 600.8,532.5 601.4,532.8 601.9,532.7 602.4,533.1 602.9,533.1 603.4,533.1 603.9,532.9 604.5,532.9 605.0,533.0 605.5,533.0 606.0,533.0 606.5,533.4 607.0,533.0 607.6,533.0 608.1,532.7 608.6,532.8 609.1,532.7 609.6,533.1 610.1,533.2 610.7,533.1 611.2,533.3 611.7,532.8 612.2,533.2 612.7,532.8 613.2,532.9 613.8,533.1 614.3,533.1 614.8,533.2 615.3,532.9 615.8,533.2 616.3,533.1 616.9,532.7 617.4,532.7 617.9,533.0 618.4,533.0 618.9,532.7 619.4,532.5 620.0,533.0 620.5,532.7 621.0,533.1 621.5,533.2 622.0,533.3 622.5,533.2 623.1,532.9 623.6,532.8 624.1,532.8 624.6,532.6 625.1,532.7 625.6,532.9 626.2,532.8 626.7,532.9 627.2,533.1 627.7,532.9 628.2,533.0 628.7,532.7 629.3,533.0 629.8,532.9 630.3,533.4 630.8,533.3 631.3,532.8 631.8,532.6 632.4,532.9 632.9,532.9 633.4,533.0 633.9,532.9 634.4,532.8 634.9,532.7 635.5,532.5 636.0,533.2 636.5,533.0 637.0,532.9 637.5,533.1 638.0,533.0 638.6,532.9 639.1,532.8 639.6,532.7 640.1,533.2 640.6,532.9 641.1,532.9 641.7,533.1 642.2,533.4 642.7,533.0 643.2,533.3 643.7,533.2 644.2,532.9 644.8,533.0 645.3,533.3 645.8,533.1 646.3,533.2 646.8,533.0 647.4,533.1 647.9,532.8 648.4,533.0 648.9,533.0 649.4,532.8 649.9,533.0 650.5,533.2 651.0,533.1 651.5,533.1 652.0,533.2 652.5,533.1 653.0,532.8 653.6,533.0 654.1,533.1 654.6,533.0 655.1,533.0 655.6,533.1 656.1,532.8 656.7,533.2 657.2,532.7 657.7,532.9 658.2,533.2 658.7,532.9 659.2,533.0 659.8,533.1 660.3,532.9 660.8,532.8 661.3,533.1 661.8,532.9 662.3,533.1 662.9,532.9 663.4,532.8 663.9,532.8 664.4,532.8 664.9,533.2 665.4,533.0 666.0,532.9 666.5,533.3 667.0,533.0 667.5,533.1 668.0,533.1 668.5,532.9 669.1,533.0 669.6,532.8 670.1,533.3 670.6,533.2 671.1,533.2 671.6,533.4" fill="none" stroke="#3aaa72" stroke-width="1.75" stroke-linejoin="round"/>
<path d="M51.7,596.6 52.2,596.5 52.7,596.8 53.3,596.5 53.8,597.1 54.3,597.1 54.8,597.0 55.3,596.7 55.8,596.9 56.4,596.5 56.9,596.8 57.4,596.6 57.9,597.1 58.4,597.2 58.9,596.8 59.5,597.4 60.0,597.2 60.5,597.3 61.0,597.3 61.5,596.8 62.0,596.9 62.6,597.1 63.1,597.8 63.6,597.7 64.1,597.7 64.6,597.4 65.1,597.5 65.7,597.4 66.2,597.8 66.7,597.3 67.2,597.3 67.7,597.3 68.2,597.3 68.8,597.4 69.3,597.6 69.8,597.5 70.3,597.5 70.8,597.6 71.3,597.5 71.9,597.9 72.4,597.3 72.9,597.4 73.4,597.0 73.9,596.9 74.4,597.6 75.0,597.8 75.5,597.8 76.0,597.9 76.5,598.0 77.0,597.8 77.5,598.0 78.1,597.8 78.6,597.7 79.1,598.1 79.6,598.3 80.1,597.9 80.6,597.5 81.2,597.6 81.7,598.0 82.2,597.6 82.7,598.3 83.2,598.2 83.7,597.6 84.3,598.1 84.8,597.8 85.3,598.1 85.8,598.1 86.3,598.3 86.8,598.0 87.4,597.8 87.9,598.3 88.4,598.7 88.9,598.2 89.4,597.9 89.9,598.3 90.5,598.4 91.0,598.1 91.5,598.3 92.0,598.4 92.5,598.7 93.0,598.7 93.6,599.0 94.1,598.8 94.6,598.5 95.1,598.7 95.6,598.1 96.1,598.2 96.7,598.3 97.2,598.3 97.7,598.3 98.2,598.5 98.7,598.4 99.2,598.3 99.8,598.6 100.3,598.7 100.8,598.8 101.3,598.4 101.8,598.4 102.3,597.8 102.9,598.3 103.4,598.4 103.9,598.1 104.4,598.3 104.9,598.3 105.5,598.1 106.0,598.1 106.5,597.7 107.0,598.3 107.5,598.3 108.0,598.3 108.6,598.6 109.1,598.4 109.6,598.5 110.1,598.5 110.6,598.7 111.1,598.6 111.7,598.4 112.2,598.7 112.7,598.3 113.2,598.5 113.7,598.3 114.2,598.5 114.8,598.7 115.3,598.6 115.8,598.5 116.3,598.2 116.8,598.7 117.3,598.6 117.9,598.6 118.4,598.3 118.9,598.3 119.4,598.5 119.9,598.6 120.4,598.6 121.0,598.2 121.5,598.2 122.0,597.7 122.5,598.3 123.0,598.9 123.5,598.1 124.1,598.3 124.6,598.7 125.1,598.6 125.6,598.4 126.1,598.3 126.6,597.9 127.2,598.4 127.7,598.8 128.2,598.5 128.7,598.7 129.2,598.5 129.7,598.9 130.3,598.4 130.8,598.2 131.3,598.5 131.8,598.1 132.3,598.6 132.8,598.7 133.4,598.9 133.9,598.6 134.4,598.7 134.9,598.3 135.4,598.3 135.9,597.9 136.5,598.2 137.0,597.8 137.5,598.3 138.0,598.5 138.5,598.5 139.0,598.4 139.6,598.1 140.1,598.3 140.6,598.5 141.1,598.9 141.6,598.2 142.1,598.3 142.7,598.4 143.2,598.5 143.7,597.9 144.2,598.4 144.7,598.3 145.2,598.2 145.8,598.7 146.3,598.5 146.8,598.8 147.3,598.3 147.8,598.2 148.3,598.3 148.9,597.9 149.4,598.0 149.9,598.7 150.4,597.8 150.9,598.5 151.4,598.4 152.0,598.4 152.5,598.1 153.0,598.8 153.5,598.2 154.0,598.3 154.5,598.2 155.1,598.2 155.6,598.1 156.1,598.5 156.6,597.8 157.1,597.7 157.7,598.2 158.2,597.7 158.7,598.1 159.2,597.9 159.7,598.0 160.2,598.1 160.8,598.1 161.3,598.4 161.8,597.6 162.3,597.6 162.8,597.9 163.3,597.7 163.9,597.6 164.4,597.6 164.9,597.0 165.4,597.4 165.9,597.2 166.4,597.7 167.0,597.5 167.5,597.1 168.0,597.1 168.5,596.5 169.0,596.6 169.5,596.7 170.1,596.6 170.6,596.8 171.1,596.3 171.6,596.0 172.1,595.6 172.6,595.8 173.2,595.4 173.7,595.5 174.2,595.4 174.7,595.1 175.2,595.3 175.7,595.1 176.3,594.7 176.8,594.7 177.3,594.5 177.8,593.9 178.3,594.2 178.8,594.1 179.4,593.7 179.9,594.4 180.4,594.1 180.9,594.2 181.4,593.8 181.9,593.4 182.5,593.4 183.0,593.5 183.5,593.4 184.0,593.8 184.5,593.6 185.0,593.0 185.6,593.3 186.1,593.2 186.6,593.0 187.1,593.6 187.6,593.5 188.1,592.9 188.7,593.0 189.2,593.6 189.7,593.8 190.2,593.9 190.7,594.2 191.2,594.3 191.8,594.2 192.3,594.4 192.8,594.3 193.3,594.3 193.8,594.8 194.3,594.5 194.9,594.6 195.4,594.6 195.9,594.7 196.4,594.8 196.9,594.6 197.4,594.8 198.0,594.6 198.5,595.0 199.0,595.4 199.5,595.4 200.0,595.6 200.5,595.5 201.1,595.5 201.6,595.6 202.1,596.1 202.6,596.0 203.1,595.9 203.6,596.0 204.2,596.2 204.7,596.2 205.2,596.4 205.7,596.2 206.2,596.4 206.8,596.7 207.3,597.0 207.8,597.2 208.3,597.1 208.8,596.9 209.3,597.3 209.9,597.3 210.4,597.3 210.9,597.8 211.4,597.7 211.9,596.9 212.4,597.4 213.0,597.2 213.5,597.7 214.0,597.6 214.5,597.3 215.0,597.4 215.5,597.2 216.1,597.7 216.6,597.7 217.1,598.1 217.6,597.9 218.1,597.7 218.6,597.7 219.2,598.1 219.7,597.7 220.2,598.1 220.7,598.7 221.2,598.4 221.7,598.3 222.3,598.2 222.8,598.5 223.3,598.5 223.8,597.8 224.3,597.9 224.8,597.4 225.4,597.7 225.9,597.6 226.4,597.2 226.9,597.5 227.4,597.5 227.9,597.6 228.5,597.5 229.0,597.9 229.5,597.9 230.0,597.9 230.5,597.8 231.0,597.6 231.6,596.9 232.1,596.6 232.6,596.6 233.1,596.1 233.6,595.1 233.8,594.3 233.9,593.9 234.0,593.9 234.1,593.2 234.3,592.4 234.4,591.4 234.5,590.6 234.7,589.8 234.8,588.7 234.9,587.3 235.0,585.8 235.2,584.6 235.3,582.2 235.4,580.3 235.6,578.2 235.7,575.9 235.8,572.9 236.0,570.5 236.1,567.8 236.2,564.7 236.3,561.9 236.5,558.3 236.6,555.4 236.7,552.6 236.9,549.7 237.0,546.9 237.1,544.2 237.2,542.3 237.4,541.0 237.5,539.6 237.6,538.7 237.8,538.1 237.9,538.2 238.0,538.6 238.1,540.6 238.3,542.3 238.4,544.5 238.5,547.2 238.7,549.1 238.8,552.5 238.9,555.4 239.1,558.8 239.2,562.0 239.3,565.0 239.4,568.0 239.6,570.7 239.7,573.8 239.8,575.7 240.0,578.1 240.1,580.5 240.2,582.2 240.3,583.8 240.5,585.7 240.6,587.3 240.7,588.4 240.9,589.6 241.0,590.5 241.1,591.3 241.2,592.7 241.4,593.2 241.5,594.0 241.6,594.4 241.8,594.7 241.9,595.2 242.0,595.4 242.2,595.7 242.3,595.0 242.8,596.2 243.3,596.6 243.8,597.2 244.3,597.7 244.9,597.7 245.4,597.6 245.9,597.5 246.4,597.6 246.9,597.4 247.5,597.5 248.0,597.2 248.5,597.5 249.0,597.7 249.5,597.4 250.0,597.0 250.6,597.0 251.1,596.1 251.2,596.1 251.3,595.3 251.5,594.3 251.6,593.3 251.7,592.7 251.8,591.3 252.0,589.4 252.1,587.3 252.2,585.0 252.4,581.8 252.5,578.1 252.6,574.4 252.7,569.8 252.9,565.0 253.0,560.2 253.1,554.8 253.3,549.4 253.4,545.0 253.5,540.7 253.7,537.2 253.8,534.8 253.9,533.4 254.0,533.1 254.2,534.3 254.3,536.2 254.4,539.9 254.6,543.9 254.7,548.4 254.8,553.7 254.9,558.9 255.1,564.2 255.2,569.0 255.3,573.6 255.5,577.2 255.6,581.3 255.7,583.8 255.8,587.0 256.0,589.0 256.1,591.0 256.2,592.2 256.4,593.3 256.5,594.4 256.6,595.1 256.8,595.7 256.9,596.7 257.0,596.6 257.1,597.5 257.3,597.3 257.4,597.1 257.9,597.8 258.4,597.7 259.0,597.6 259.5,597.6 260.0,598.1 260.5,598.4 261.0,598.5 261.5,598.5 262.1,598.4 262.6,598.5 263.1,598.6 263.6,598.4 264.1,598.2 264.6,598.5 265.2,598.7 265.7,599.2 266.2,598.3 266.7,598.7 267.2,598.8 267.7,598.7 268.3,598.3 268.8,598.7 269.3,599.0 269.8,599.2 270.3,598.5 270.8,598.5 271.4,598.4 271.9,598.4 272.4,598.3 272.9,598.5 273.4,598.5 273.9,598.5 274.5,598.1 275.0,598.4 275.5,598.5 276.0,598.9 276.5,598.9 277.0,599.0 277.6,598.6 278.1,598.5 278.6,598.4 279.1,598.1 279.6,598.5 280.1,598.4 280.7,598.4 281.2,598.7 281.7,597.9 282.2,598.3 282.7,598.0 283.2,598.1 283.8,598.3 284.3,598.3 284.8,598.8 285.3,598.8 285.8,598.7 286.3,598.6 286.9,599.3 287.4,599.0 287.9,598.7 288.4,599.1 288.9,598.9 289.4,598.7 290.0,599.3 290.5,599.1 291.0,599.3 291.5,599.0 292.0,598.8 292.5,598.7 293.1,598.7 293.6,598.8 294.1,598.7 294.6,598.6 295.1,598.8 295.6,598.6 296.2,598.7 296.7,598.7 297.2,598.9 297.7,598.7 298.2,598.0 298.7,598.8 299.3,598.4 299.8,598.7 300.3,598.7 300.8,598.4 301.3,598.2 301.8,598.8 302.4,598.5 302.9,598.6 303.4,598.6 303.9,598.6 304.4,598.6 304.9,598.4 305.5,598.5 306.0,598.8 306.5,598.9 307.0,598.5 307.5,598.3 308.0,598.6 308.6,598.7 309.1,598.8 309.6,598.8 310.1,599.0 310.6,598.6 311.2,598.5 311.7,598.6 312.2,599.0 312.7,598.6 313.2,598.7 313.7,599.0 314.3,599.2 314.8,598.8 315.3,598.8 315.8,599.0 316.3,598.9 316.8,599.0 317.4,599.2 317.9,598.7 318.4,599.1 318.9,599.1 319.4,598.8 319.9,599.1 320.5,599.4 321.0,598.8 321.5,598.7 322.0,598.6 322.5,599.3 323.0,598.4 323.6,598.5 324.1,598.7 324.6,599.2 325.1,598.8 325.6,599.0 326.1,598.9 326.7,599.1 327.2,598.9 327.7,599.2 328.2,599.2 328.7,598.9 329.2,599.0 329.8,598.8 330.3,599.3 330.8,598.7 331.3,599.1 331.8,599.0 332.3,598.8 332.9,598.5 333.4,598.5 333.9,598.2 334.4,598.5 334.9,598.5 335.4,598.6 336.0,598.9 336.5,598.5 337.0,599.0 337.5,598.9 338.0,598.6 338.5,598.7 339.1,598.6 339.6,598.9 340.1,598.7 340.6,598.4 341.1,598.8 341.6,598.8 342.2,598.4 342.7,598.8 343.2,598.9 343.7,599.2 344.2,599.3 344.7,599.3 345.3,599.2 345.8,598.9 346.3,598.9 346.8,598.6 347.3,598.7 347.8,598.7 348.4,598.6 348.9,598.6 349.4,598.7 349.9,599.0 350.4,598.4 350.9,598.2 351.5,598.5 352.0,598.2 352.5,598.8 353.0,598.8 353.5,598.7 354.0,598.8 354.6,598.9 355.1,598.8 355.6,599.3 356.1,599.2 356.6,598.7 357.1,598.9 357.7,599.1 358.2,598.6 358.7,599.5 359.2,599.1 359.7,598.4 360.2,598.7 360.8,599.2 361.3,598.8 361.8,598.2 362.3,598.4 362.8,598.9 363.4,598.9 363.9,598.7 364.4,599.0 364.9,599.2 365.4,598.9 365.9,598.7 366.5,598.7 367.0,599.1 367.5,598.8 368.0,598.7 368.5,598.6 369.0,598.4 369.6,598.6 370.1,599.1 370.6,599.2 371.1,599.1 371.6,598.6 372.1,599.1 372.7,599.2 373.2,598.8 373.7,598.8 374.2,598.9 374.7,598.8 375.2,598.8 375.8,598.9 376.3,598.7 376.8,598.8 377.3,598.9 377.8,599.0 378.3,599.0 378.9,599.1 379.4,599.2 379.9,598.9 380.4,598.8 380.9,599.0 381.4,599.1 382.0,599.0 382.5,598.7 383.0,598.5 383.5,598.6 384.0,598.9 384.5,598.7 385.1,599.0 385.6,598.9 386.1,598.7 386.6,599.0 387.1,599.6 387.6,598.6 388.2,599.1 388.7,599.0 389.2,599.2 389.7,599.6 390.2,599.5 390.7,598.8 391.3,599.0 391.8,599.1 392.3,599.2 392.8,598.9 393.3,599.0 393.8,599.3 394.4,599.1 394.9,599.1 395.4,598.9 395.9,599.2 396.4,599.1 396.9,599.0 397.5,599.1 398.0,599.1 398.5,599.4 399.0,598.6 399.5,599.0 400.0,599.0 400.6,599.0 401.1,599.0 401.6,599.2 402.1,599.5 402.6,599.6 403.1,599.3 403.7,598.9 404.2,598.6 404.7,599.3 405.2,598.9 405.7,599.2 406.2,599.3 406.8,599.4 407.3,599.0 407.8,598.9 408.3,599.0 408.8,599.0 409.3,599.0 409.9,599.5 410.4,599.7 410.9,599.2 411.4,599.1 411.9,599.1 412.4,599.2 413.0,599.0 413.5,599.5 414.0,599.4 414.5,599.2 415.0,599.2 415.6,599.1 416.1,598.7 416.6,599.0 417.1,598.8 417.6,599.3 418.1,599.0 418.7,599.2 419.2,599.1 419.7,599.4 420.2,598.9 420.7,599.1 421.2,599.3 421.8,599.1 422.3,598.9 422.8,599.1 423.3,599.0 423.8,598.9 424.3,599.2 424.9,599.6 425.4,599.4 425.9,599.4 426.4,599.3 426.9,599.4 427.4,599.6 428.0,599.2 428.5,599.2 429.0,599.3 429.5,599.1 430.0,599.2 430.5,599.1 431.1,598.6 431.6,599.0 432.1,598.8 432.6,598.5 433.1,599.0 433.6,599.3 434.2,598.8 434.7,599.3 435.2,599.1 435.7,599.2 436.2,598.8 436.7,599.0 437.3,598.4 437.8,598.4 438.3,598.8 438.8,598.7 439.3,598.7 439.8,598.9 440.4,598.6 440.9,598.8 441.4,599.1 441.9,598.9 442.4,599.1 442.9,599.1 443.5,598.9 444.0,599.2 444.5,598.9 445.0,599.3 445.5,598.8 446.0,599.4 446.6,599.1 447.1,599.5 447.6,598.6 448.1,598.8 448.6,599.0 449.1,599.3 449.7,599.1 450.2,599.0 450.7,599.5 451.2,599.4 451.7,599.5 452.2,599.2 452.8,599.7 453.3,599.7 453.8,600.0 454.3,599.2 454.8,599.4 455.3,598.8 455.9,599.3 456.4,599.0 456.9,599.2 457.4,599.4 457.9,598.7 458.4,598.8 459.0,598.8 459.5,599.3 460.0,598.9 460.5,599.1 461.0,598.7 461.5,599.2 462.1,599.3 462.6,598.9 463.1,599.0 463.6,599.3 464.1,599.4 464.6,599.4 465.2,599.3 465.7,599.6 466.2,599.1 466.7,598.9 467.2,598.8 467.8,599.1 468.3,598.9 468.8,599.5 469.3,599.2 469.8,599.1 470.3,599.5 470.9,599.1 471.4,599.4 471.9,599.3 472.4,599.1 472.9,598.7 473.4,599.4 474.0,599.4 474.5,599.1 475.0,599.1 475.5,599.2 476.0,598.7 476.5,599.0 477.1,598.7 477.6,599.0 478.1,598.8 478.6,598.9 479.1,599.5 479.6,598.5 480.2,599.3 480.7,599.4 481.2,598.8 481.7,598.6 482.2,599.0 482.7,599.4 483.3,599.3 483.8,599.5 484.3,599.4 484.8,599.1 485.3,598.8 485.8,599.1 486.4,599.5 486.9,599.3 487.4,599.7 487.9,599.3 488.4,599.1 488.9,599.5 489.5,598.9 490.0,599.1 490.5,598.7 491.0,599.2 491.5,599.2 492.0,599.1 492.6,599.5 493.1,599.4 493.6,599.0 494.1,599.5 494.6,598.9 495.1,599.0 495.7,599.1 496.2,599.4 496.7,599.3 497.2,599.1 497.7,598.9 498.2,599.0 498.8,598.9 499.3,599.3 499.8,599.6 500.3,599.1 500.8,599.2 501.3,599.3 501.9,599.0 502.4,599.4 502.9,599.6 503.4,599.3 503.9,599.4 504.4,600.0 505.0,599.5 505.5,599.2 506.0,599.1 506.5,598.9 507.0,599.2 507.5,599.3 508.1,599.5 508.6,599.9 509.1,598.5 509.6,598.9 510.1,598.9 510.6,598.9 511.2,598.9 511.7,598.9 512.2,599.0 512.7,599.0 513.2,598.7 513.7,599.0 514.3,599.3 514.8,599.0 515.3,599.1 515.8,599.4 516.3,598.8 516.8,599.1 517.4,599.1 517.9,599.4 518.4,599.4 518.9,599.4 519.4,599.1 520.0,599.1 520.5,598.9 521.0,599.4 521.5,599.5 522.0,598.8 522.5,598.9 523.1,598.9 523.6,598.7 524.1,599.3 524.6,599.0 525.1,599.4 525.6,599.1 526.2,598.7 526.7,599.0 527.2,599.6 527.7,599.3 528.2,599.7 528.7,599.3 529.3,599.4 529.8,599.2 530.3,599.5 530.8,599.1 531.3,598.8 531.8,599.4 532.4,599.0 532.9,599.2 533.4,599.6 533.9,599.5 534.4,599.7 534.9,598.9 535.5,599.6 536.0,599.7 536.5,599.1 537.0,598.8 537.5,599.1 538.0,599.3 538.6,599.2 539.1,599.1 539.6,599.1 540.1,598.9 540.6,599.0 541.1,599.1 541.7,598.9 542.2,599.0 542.7,599.2 543.2,599.2 543.7,599.4 544.2,599.6 544.8,599.1 545.3,599.2 545.8,598.9 546.3,599.0 546.8,599.0 547.3,599.3 547.9,599.3 548.4,599.0 548.9,599.4 549.4,598.9 549.9,598.9 550.4,599.1 551.0,599.5 551.5,598.9 552.0,598.7 552.5,599.2 553.0,598.9 553.5,599.7 554.1,599.6 554.6,599.5 555.1,599.9 555.6,599.5 556.1,599.8 556.6,599.4 557.2,599.3 557.7,599.7 558.2,599.3 558.7,599.4 559.2,599.5 559.7,598.6 560.3,599.8 560.8,599.2 561.3,598.8 561.8,598.9 562.3,599.3 562.8,599.5 563.4,599.2 563.9,599.5 564.4,599.8 564.9,599.3 565.4,598.6 565.9,598.9 566.5,598.9 567.0,599.7 567.5,599.3 568.0,599.4 568.5,599.4 569.1,599.1 569.6,599.5 570.1,598.8 570.6,599.6 571.1,599.5 571.6,599.5 572.2,599.3 572.7,598.8 573.2,599.2 573.7,599.0 574.2,599.1 574.7,599.2 575.3,599.2 575.8,598.8 576.3,599.1 576.8,598.9 577.3,598.6 577.8,598.2 578.4,599.3 578.9,598.8 579.4,599.3 579.9,598.8 580.4,599.0 580.9,598.6 581.5,599.3 582.0,599.2 582.5,599.0 583.0,599.5 583.5,598.7 584.0,599.0 584.6,598.8 585.1,599.2 585.6,599.1 586.1,599.3 586.6,599.4 587.1,599.4 587.7,599.0 588.2,599.2 588.7,599.3 589.2,599.6 589.7,599.1 590.2,599.4 590.8,599.5 591.3,599.5 591.8,599.4 592.3,599.0 592.8,599.4 593.3,599.4 593.9,599.5 594.4,599.9 594.9,599.4 595.4,599.1 595.9,599.2 596.4,599.3 597.0,599.2 597.5,598.9 598.0,599.0 598.5,598.8 599.0,599.5 599.5,599.6 600.1,599.2 600.6,599.5 601.1,598.9 601.6,599.0 602.1,599.6 602.6,599.2 603.2,599.1 603.7,599.4 604.2,599.0 604.7,598.9 605.2,599.8 605.7,599.6 606.3,599.4 606.8,599.3 607.3,599.2 607.8,599.3 608.3,599.5 608.8,599.4 609.4,599.2 609.9,599.0 610.4,599.6 610.9,599.0 611.4,599.2 611.9,599.4 612.5,599.6 613.0,599.2 613.5,599.9 614.0,599.9 614.5,599.6 615.0,599.1 615.6,599.6 616.1,599.6 616.6,599.7 617.1,599.0 617.6,599.3 618.1,599.5 618.7,599.3 619.2,598.8 619.7,599.0 620.2,599.1 620.7,599.3 621.3,599.1 621.8,599.6 622.3,599.3 622.8,599.2 623.3,599.6 623.8,599.1 624.4,599.0 624.9,598.9 625.4,599.3 625.9,599.6 626.4,598.8 626.9,599.3 627.5,599.1 628.0,598.8 628.5,599.6 629.0,599.4 629.5,599.0 630.0,599.0 630.6,599.4 631.1,599.3 631.6,599.3 632.1,599.5 632.6,599.2 633.1,599.3 633.7,599.1 634.2,599.0 634.7,599.3 635.2,599.0 635.7,599.4 636.2,599.2 636.8,599.3 637.3,599.1 637.8,599.0 638.3,599.6 638.8,599.2 639.3,599.1 639.9,598.7 640.4,599.1 640.9,598.9 641.4,598.9 641.9,599.1 642.4,599.2 643.0,599.1 643.5,599.2 644.0,599.3 644.5,599.4 645.0,599.3 645.5,599.5 646.1,599.6 646.6,599.6 647.1,599.6 647.6,599.4 648.1,599.4 648.6,599.1 649.2,599.3 649.7,599.2 650.2,599.4 650.7,599.6 651.2,599.7 651.7,600.0 652.3,599.8 652.8,599.4 653.3,599.4 653.8,599.4 654.3,600.0 654.8,599.4 655.4,599.4 655.9,599.8 656.4,599.6 656.9,599.6 657.4,599.3 657.9,599.8 658.5,599.6 659.0,599.4 659.5,599.5 660.0,599.5 660.5,599.4 661.0,599.3 661.6,600.0 662.1,599.4 662.6,599.8 663.1,599.7 663.6,599.7 664.1,600.1 664.7,599.7 665.2,599.8 665.7,599.7 666.2,599.3 666.7,599.3 667.2,599.1 667.8,598.9 668.3,599.1 668.8,599.4 669.3,599.5 669.8,599.0 670.3,599.4 670.9,599.0 671.4,599.3 671.9,599.0" fill="none" stroke="#2b6fd8" stroke-width="1.75" stroke-linejoin="round"/>
<path d="M51.7,656.1 52.2,655.4 52.7,658.1 53.3,657.6 53.8,658.1 54.3,658.8 54.8,658.5 55.3,658.3 55.8,657.9 56.4,658.2 56.9,659.5 57.4,660.3 57.9,660.1 58.4,660.8 58.9,661.1 59.5,660.5 60.0,661.1 60.5,662.6 61.0,662.5 61.5,660.9 62.0,659.6 62.6,660.2 63.1,661.3 63.6,661.9 64.1,663.2 64.6,663.0 65.1,662.8 65.7,661.8 66.2,661.4 66.7,662.6 67.2,662.9 67.7,662.5 68.2,662.1 68.8,661.4 69.3,662.0 69.8,661.7 70.3,662.7 70.8,664.5 71.3,663.0 71.9,661.8 72.4,663.0 72.9,662.9 73.4,663.6 73.9,663.3 74.4,664.4 75.0,661.0 75.5,664.5 76.0,664.8 76.5,662.8 77.0,662.6 77.5,663.4 78.1,664.8 78.6,662.9 79.1,664.9 79.6,663.8 80.1,663.5 80.6,664.6 81.2,665.2 81.7,664.8 82.2,664.3 82.7,664.5 83.2,663.0 83.7,664.2 84.3,663.1 84.8,664.6 85.3,662.8 85.8,663.1 86.3,663.5 86.8,663.5 87.4,663.3 87.9,663.7 88.4,663.5 88.9,664.1 89.4,663.9 89.9,664.1 90.5,663.9 91.0,663.0 91.5,664.6 92.0,664.7 92.5,664.1 93.0,663.4 93.6,663.4 94.1,663.1 94.6,662.3 95.1,664.6 95.6,664.7 96.1,663.7 96.7,664.0 97.2,664.1 97.7,664.5 98.2,662.8 98.7,664.2 99.2,665.0 99.8,665.1 100.3,664.8 100.8,664.6 101.3,664.2 101.8,664.5 102.3,663.9 102.9,665.4 103.4,663.9 103.9,664.1 104.4,664.8 104.9,664.5 105.5,664.4 106.0,665.7 106.5,665.5 107.0,665.2 107.5,665.1 108.0,665.7 108.6,665.9 109.1,666.1 109.6,666.7 110.1,664.0 110.6,664.7 111.1,666.3 111.7,665.1 112.2,664.7 112.7,666.7 113.2,666.3 113.7,664.6 114.2,664.8 114.8,665.0 115.3,663.4 115.8,664.4 116.3,663.3 116.8,662.8 117.3,661.8 117.9,662.7 118.4,663.2 118.9,663.3 119.4,663.6 119.9,663.2 120.4,664.0 121.0,663.5 121.5,665.3 122.0,665.0 122.5,663.9 123.0,664.7 123.5,665.6 124.1,665.6 124.6,664.6 125.1,665.2 125.6,664.7 126.1,662.2 126.6,661.1 127.2,662.8 127.7,664.2 128.2,663.5 128.7,664.9 129.2,663.9 129.7,665.7 130.3,665.9 130.8,664.3 131.3,665.3 131.8,665.1 132.3,665.5 132.8,665.1 133.4,667.6 133.9,663.9 134.4,664.4 134.9,663.4 135.4,662.5 135.9,663.9 136.5,663.7 137.0,663.7 137.5,664.9 138.0,664.1 138.5,665.1 139.0,663.9 139.6,664.0 140.1,664.7 140.6,662.9 141.1,664.0 141.6,664.6 142.1,664.8 142.7,664.4 143.2,664.6 143.7,663.5 144.2,665.4 144.7,665.0 145.2,664.7 145.8,664.3 146.3,663.3 146.8,665.1 147.3,664.8 147.8,666.5 148.3,663.8 148.9,664.3 149.4,663.8 149.9,663.9 150.4,664.2 150.9,664.1 151.4,664.2 152.0,663.6 152.5,665.6 153.0,662.9 153.5,664.7 154.0,664.3 154.5,662.9 155.1,664.1 155.6,663.3 156.1,665.5 156.6,664.4 157.1,663.2 157.7,663.1 158.2,664.7 158.7,663.6 159.2,664.8 159.7,664.4 160.2,663.7 160.8,663.9 161.3,664.3 161.8,664.2 162.3,664.4 162.8,663.4 163.3,660.2 163.9,661.3 164.4,662.3 164.9,664.9 165.4,663.6 165.9,661.9 166.4,663.1 167.0,662.1 167.5,661.6 168.0,660.2 168.5,659.8 169.0,661.8 169.5,660.1 170.1,659.3 170.6,658.7 171.1,657.8 171.6,657.5 172.1,657.2 172.6,656.5 173.2,655.4 173.7,656.9 174.2,653.1 174.7,653.7 175.2,651.4 175.7,651.6 176.3,651.2 176.8,650.8 177.3,649.8 177.8,649.2 178.3,650.0 178.8,650.1 179.4,649.7 179.9,647.9 180.4,648.6 180.9,648.5 181.4,648.1 181.9,647.3 182.5,646.3 183.0,646.7 183.5,647.3 184.0,647.4 184.5,646.4 185.0,647.0 185.6,644.9 186.1,645.0 186.6,646.7 187.1,647.4 187.6,646.6 188.1,646.3 188.7,647.3 189.2,647.3 189.7,646.7 190.2,647.6 190.7,647.8 191.2,646.7 191.8,648.2 192.3,647.4 192.8,648.3 193.3,647.9 193.8,648.2 194.3,647.9 194.9,648.8 195.4,650.1 195.9,649.7 196.4,648.5 196.9,650.5 197.4,649.9 198.0,650.5 198.5,650.3 199.0,650.4 199.5,650.9 200.0,650.8 200.5,651.3 201.1,652.6 201.6,652.4 202.1,652.5 202.6,651.4 203.1,653.6 203.6,655.1 204.2,652.5 204.7,654.9 205.2,653.2 205.7,654.5 206.2,654.5 206.8,655.0 207.3,654.7 207.8,655.2 208.3,655.5 208.8,656.8 209.3,657.7 209.9,658.2 210.4,658.9 210.9,657.2 211.4,658.3 211.9,658.5 212.4,658.8 213.0,658.9 213.5,660.3 214.0,660.6 214.5,660.5 215.0,660.2 215.5,661.5 216.1,661.3 216.6,659.8 217.1,661.1 217.6,660.9 218.1,660.9 218.6,660.9 219.2,660.8 219.7,660.8 220.2,662.6 220.7,661.7 221.2,662.4 221.7,663.2 222.3,662.9 222.8,662.4 223.3,662.1 223.8,663.1 224.3,662.2 224.8,662.9 225.4,661.7 225.9,661.7 226.4,662.9 226.9,664.1 227.4,664.0 227.9,663.4 228.5,662.9 229.0,663.7 229.5,662.7 230.0,662.1 230.5,661.8 231.0,662.6 231.6,660.9 232.1,661.1 232.6,659.6 232.7,658.9 232.9,658.1 233.0,657.2 233.1,658.8 233.2,655.5 233.4,656.9 233.5,656.8 233.6,655.0 233.8,653.1 233.9,652.4 234.0,654.3 234.1,652.2 234.3,652.5 234.4,650.1 234.5,647.0 234.7,647.7 234.8,647.2 234.9,646.0 235.0,643.3 235.2,641.1 235.3,638.9 235.4,636.8 235.6,635.7 235.7,633.0 235.8,629.6 236.0,628.3 236.1,625.3 236.2,623.9 236.3,621.6 236.5,620.2 236.6,619.2 236.7,617.6 236.9,612.2 237.0,613.0 237.1,612.3 237.2,609.7 237.4,608.8 237.5,609.3 237.6,609.2 237.8,609.4 237.9,609.3 238.0,609.7 238.1,610.3 238.3,614.4 238.4,616.1 238.5,616.4 238.7,618.5 238.8,620.3 238.9,622.6 239.1,625.4 239.2,626.2 239.3,628.0 239.4,630.8 239.6,632.8 239.7,635.0 239.8,636.9 240.0,637.9 240.1,639.7 240.2,639.2 240.3,642.1 240.5,645.0 240.6,648.0 240.7,648.4 240.9,649.2 241.0,651.0 241.1,651.5 241.2,653.5 241.4,654.0 241.5,655.8 241.6,654.6 241.8,657.3 241.9,656.4 242.0,654.5 242.2,657.6 242.3,656.8 242.4,656.9 242.5,658.3 242.7,660.2 242.8,659.3 242.9,659.6 243.1,660.5 243.6,661.3 244.1,661.3 244.6,661.7 245.1,662.2 245.6,662.2 246.2,662.6 246.7,662.4 247.2,663.9 247.7,663.4 248.2,662.9 248.7,663.6 249.3,662.7 249.8,663.9 250.3,662.0 250.8,660.1 250.9,658.8 251.1,660.3 251.2,656.9 251.3,656.8 251.5,656.6 251.6,654.2 251.7,652.7 251.8,652.0 252.0,649.4 252.1,647.9 252.2,643.3 252.4,639.7 252.5,636.2 252.6,635.2 252.7,632.2 252.9,626.9 253.0,622.6 253.1,617.0 253.3,613.6 253.4,610.9 253.5,607.2 253.7,603.2 253.8,601.8 253.9,601.9 254.0,599.9 254.2,600.8 254.3,604.0 254.4,608.4 254.6,610.2 254.7,614.4 254.8,617.9 254.9,621.2 255.1,625.3 255.2,629.6 255.3,634.6 255.5,639.8 255.6,640.0 255.7,646.7 255.8,648.3 256.0,650.2 256.1,651.6 256.2,654.6 256.4,654.6 256.5,655.9 256.6,657.5 256.8,659.0 256.9,659.4 257.0,660.5 257.1,660.0 257.3,662.3 257.4,661.0 257.5,661.5 257.7,662.1 258.2,660.9 258.7,662.3 259.2,662.3 259.7,662.3 260.2,664.5 260.8,663.9 261.3,664.6 261.8,665.2 262.3,663.7 262.8,665.4 263.3,664.7 263.9,665.3 264.4,665.1 264.9,664.1 265.4,664.6 265.9,664.7 266.4,664.3 267.0,664.7 267.5,665.1 268.0,664.0 268.5,664.6 269.0,663.9 269.5,665.2 270.1,664.2 270.6,663.6 271.1,664.0 271.6,663.7 272.1,663.6 272.6,665.0 273.2,666.0 273.7,665.2 274.2,664.6 274.7,667.2 275.2,664.2 275.7,666.3 276.3,664.4 276.8,664.1 277.3,663.6 277.8,663.8 278.3,662.5 278.8,663.6 279.4,663.1 279.9,663.2 280.4,664.6 280.9,664.4 281.4,664.5 281.9,664.9 282.5,664.9 283.0,664.9 283.5,664.5 284.0,664.1 284.5,665.4 285.1,665.2 285.6,666.3 286.1,665.9 286.6,666.5 287.1,663.9 287.6,665.3 288.2,665.2 288.7,663.9 289.2,664.2 289.7,663.7 290.2,663.9 290.7,663.6 291.3,664.9 291.8,665.1 292.3,666.2 292.8,664.9 293.3,666.8 293.8,665.3 294.4,665.7 294.9,664.3 295.4,665.1 295.9,664.4 296.4,666.1 296.9,665.0 297.5,665.0 298.0,663.8 298.5,665.8 299.0,665.7 299.5,664.4 300.0,664.3 300.6,666.6 301.1,666.9 301.6,666.2 302.1,665.0 302.6,665.1 303.1,665.1 303.7,665.7 304.2,663.7 304.7,664.6 305.2,664.3 305.7,664.5 306.2,664.6 306.8,664.5 307.3,663.7 307.8,665.0 308.3,664.3 308.8,665.3 309.3,664.9 309.9,664.9 310.4,666.3 310.9,666.7 311.4,664.9 311.9,665.6 312.4,665.5 313.0,664.6 313.5,665.2 314.0,667.0 314.5,665.6 315.0,665.4 315.5,666.4 316.1,666.0 316.6,664.7 317.1,665.4 317.6,665.0 318.1,663.7 318.6,664.6 319.2,665.3 319.7,664.2 320.2,663.9 320.7,663.6 321.2,665.7 321.7,664.3 322.3,664.8 322.8,663.9 323.3,665.3 323.8,664.4 324.3,665.6 324.8,665.1 325.4,665.8 325.9,664.7 326.4,666.2 326.9,664.5 327.4,664.3 327.9,665.0 328.5,665.4 329.0,665.4 329.5,666.6 330.0,666.2 330.5,664.9 331.0,665.0 331.6,664.0 332.1,663.9 332.6,663.3 333.1,665.3 333.6,666.1 334.1,665.9 334.7,664.3 335.2,665.3 335.7,665.7 336.2,665.1 336.7,664.5 337.3,664.9 337.8,665.0 338.3,664.5 338.8,662.8 339.3,664.3 339.8,665.4 340.4,664.0 340.9,663.7 341.4,663.7 341.9,663.5 342.4,664.4 342.9,663.4 343.5,664.8 344.0,664.4 344.5,665.2 345.0,664.8 345.5,665.9 346.0,665.0 346.6,664.0 347.1,666.0 347.6,664.3 348.1,665.5 348.6,663.8 349.1,664.9 349.7,664.6 350.2,664.8 350.7,666.0 351.2,665.1 351.7,665.4 352.2,665.3 352.8,666.8 353.3,667.1 353.8,665.6 354.3,664.6 354.8,663.3 355.3,662.9 355.9,663.6 356.4,665.1 356.9,665.9 357.4,664.8 357.9,665.3 358.4,665.8 359.0,664.4 359.5,665.7 360.0,666.9 360.5,665.4 361.0,665.3 361.5,664.7 362.1,666.0 362.6,663.6 363.1,665.2 363.6,664.8 364.1,663.6 364.6,665.6 365.2,664.2 365.7,665.1 366.2,664.3 366.7,664.7 367.2,667.8 367.7,666.6 368.3,664.6 368.8,664.7 369.3,666.4 369.8,665.5 370.3,663.7 370.8,666.3 371.4,664.6 371.9,664.0 372.4,666.7 372.9,665.5 373.4,666.7 373.9,665.2 374.5,664.0 375.0,664.8 375.5,664.6 376.0,666.4 376.5,665.7 377.0,664.5 377.6,664.9 378.1,664.1 378.6,663.5 379.1,663.6 379.6,663.7 380.1,662.4 380.7,663.9 381.2,663.2 381.7,663.5 382.2,665.2 382.7,664.6 383.2,665.3 383.8,665.8 384.3,663.4 384.8,664.5 385.3,664.7 385.8,664.7 386.3,664.2 386.9,665.3 387.4,664.5 387.9,665.6 388.4,666.1 388.9,664.8 389.5,665.4 390.0,665.5 390.5,665.4 391.0,665.1 391.5,665.1 392.0,664.9 392.6,664.4 393.1,665.0 393.6,665.2 394.1,664.8 394.6,663.7 395.1,663.2 395.7,664.9 396.2,665.4 396.7,666.1 397.2,666.7 397.7,665.3 398.2,665.7 398.8,665.3 399.3,667.5 399.8,665.8 400.3,666.3 400.8,665.7 401.3,665.8 401.9,665.3 402.4,664.3 402.9,665.4 403.4,664.3 403.9,664.5 404.4,665.3 405.0,665.2 405.5,664.6 406.0,664.9 406.5,664.3 407.0,664.6 407.5,665.1 408.1,663.2 408.6,663.5 409.1,663.5 409.6,665.3 410.1,664.8 410.6,666.2 411.2,666.5 411.7,665.1 412.2,664.2 412.7,665.5 413.2,664.1 413.7,665.9 414.3,666.4 414.8,665.5 415.3,663.8 415.8,664.0 416.3,664.8 416.8,667.5 417.4,664.7 417.9,666.2 418.4,666.2 418.9,663.6 419.4,664.3 419.9,666.7 420.5,666.0 421.0,666.1 421.5,665.8 422.0,664.6 422.5,665.1 423.0,664.7 423.6,664.6 424.1,663.7 424.6,664.9 425.1,664.7 425.6,664.8 426.1,664.7 426.7,665.7 427.2,664.5 427.7,664.5 428.2,665.4 428.7,665.4 429.2,665.0 429.8,666.3 430.3,665.5 430.8,665.2 431.3,664.5 431.8,664.5 432.3,664.4 432.9,665.2 433.4,666.1 433.9,664.1 434.4,667.0 434.9,665.8 435.4,666.4 436.0,667.0 436.5,665.8 437.0,665.5 437.5,665.9 438.0,665.1 438.5,666.1 439.1,664.3 439.6,665.1 440.1,665.0 440.6,663.9 441.1,665.8 441.7,664.9 442.2,664.5 442.7,665.1 443.2,664.9 443.7,666.0 444.2,663.7 444.8,666.6 445.3,665.3 445.8,663.7 446.3,664.8 446.8,665.1 447.3,665.1 447.9,665.4 448.4,665.1 448.9,665.5 449.4,667.0 449.9,665.6 450.4,664.3 451.0,665.0 451.5,667.2 452.0,664.8 452.5,667.0 453.0,664.1 453.5,665.6 454.1,665.3 454.6,665.0 455.1,664.2 455.6,664.6 456.1,664.4 456.6,665.3 457.2,665.2 457.7,664.2 458.2,664.8 458.7,665.3 459.2,666.7 459.7,664.6 460.3,663.1 460.8,664.3 461.3,663.6 461.8,666.2 462.3,666.4 462.8,664.6 463.4,663.4 463.9,663.8 464.4,662.4 464.9,665.3 465.4,665.1 465.9,664.5 466.5,665.5 467.0,666.3 467.5,665.3 468.0,665.1 468.5,665.0 469.0,665.9 469.6,664.7 470.1,664.9 470.6,665.3 471.1,665.8 471.6,664.9 472.1,664.4 472.7,664.9 473.2,665.7 473.7,664.7 474.2,664.5 474.7,663.2 475.2,665.5 475.8,665.6 476.3,665.6 476.8,665.3 477.3,666.2 477.8,666.9 478.3,666.9 478.9,666.3 479.4,664.7 479.9,664.0 480.4,666.1 480.9,666.6 481.4,666.4 482.0,665.2 482.5,665.9 483.0,666.0 483.5,666.8 484.0,665.9 484.5,664.4 485.1,666.5 485.6,666.4 486.1,665.2 486.6,664.5 487.1,665.3 487.6,665.6 488.2,666.0 488.7,664.3 489.2,665.0 489.7,662.7 490.2,663.9 490.7,662.8 491.3,664.0 491.8,662.9 492.3,664.1 492.8,663.1 493.3,666.4 493.9,666.1 494.4,665.6 494.9,665.1 495.4,663.9 495.9,664.2 496.4,665.4 497.0,665.6 497.5,665.7 498.0,666.8 498.5,665.6 499.0,664.7 499.5,666.6 500.1,664.4 500.6,664.3 501.1,663.9 501.6,664.1 502.1,664.1 502.6,664.7 503.2,664.9 503.7,666.0 504.2,666.0 504.7,665.1 505.2,666.5 505.7,665.9 506.3,665.4 506.8,665.6 507.3,664.4 507.8,664.6 508.3,665.4 508.8,666.3 509.4,665.6 509.9,665.1 510.4,664.7 510.9,665.1 511.4,663.7 511.9,664.3 512.5,665.5 513.0,665.8 513.5,665.8 514.0,665.1 514.5,664.8 515.0,666.0 515.6,665.0 516.1,665.8 516.6,664.5 517.1,665.5 517.6,665.5 518.1,664.5 518.7,665.0 519.2,664.3 519.7,665.3 520.2,666.9 520.7,665.1 521.2,664.8 521.8,666.0 522.3,666.2 522.8,665.2 523.3,664.9 523.8,666.3 524.3,668.2 524.9,666.2 525.4,665.5 525.9,665.6 526.4,666.5 526.9,665.8 527.4,664.9 528.0,665.5 528.5,663.9 529.0,664.5 529.5,666.4 530.0,664.7 530.5,665.8 531.1,666.2 531.6,666.4 532.1,664.1 532.6,664.3 533.1,664.5 533.6,664.7 534.2,664.8 534.7,663.7 535.2,664.0 535.7,665.4 536.2,665.5 536.7,665.3 537.3,665.9 537.8,665.5 538.3,667.4 538.8,666.0 539.3,666.6 539.8,667.9 540.4,666.9 540.9,666.7 541.4,666.7 541.9,666.5 542.4,666.9 543.0,666.6 543.5,664.5 544.0,666.8 544.5,664.4 545.0,664.3 545.5,666.0 546.1,665.2 546.6,664.6 547.1,664.7 547.6,665.6 548.1,665.0 548.6,665.4 549.2,666.0 549.7,664.8 550.2,665.6 550.7,664.5 551.2,666.1 551.7,663.3 552.3,664.7 552.8,664.9 553.3,666.2 553.8,665.9 554.3,665.0 554.8,664.2 555.4,664.7 555.9,665.9 556.4,665.2 556.9,665.6 557.4,664.3 557.9,664.2 558.5,664.3 559.0,666.2 559.5,663.0 560.0,664.1 560.5,664.8 561.0,664.9 561.6,665.0 562.1,666.8 562.6,668.4 563.1,666.5 563.6,664.1 564.1,664.5 564.7,665.3 565.2,665.1 565.7,666.5 566.2,665.8 566.7,666.0 567.2,665.5 567.8,664.6 568.3,665.8 568.8,664.3 569.3,663.0 569.8,664.4 570.3,664.2 570.9,663.5 571.4,664.5 571.9,665.9 572.4,666.2 572.9,665.2 573.4,667.5 574.0,666.1 574.5,667.4 575.0,666.2 575.5,665.9 576.0,666.1 576.5,664.7 577.1,663.8 577.6,666.2 578.1,664.3 578.6,664.7 579.1,664.3 579.6,664.6 580.2,664.7 580.7,666.5 581.2,666.1 581.7,666.2 582.2,665.7 582.7,666.2 583.3,664.3 583.8,666.3 584.3,666.7 584.8,664.7 585.3,665.7 585.8,665.2 586.4,667.4 586.9,665.6 587.4,664.3 587.9,664.9 588.4,665.3 588.9,666.0 589.5,665.0 590.0,663.2 590.5,665.5 591.0,665.3 591.5,664.3 592.0,665.2 592.6,665.8 593.1,663.9 593.6,663.4 594.1,663.7 594.6,665.2 595.2,665.2 595.7,665.8 596.2,663.8 596.7,664.9 597.2,665.0 597.7,665.5 598.3,665.9 598.8,665.6 599.3,665.7 599.8,665.0 600.3,665.1 600.8,664.6 601.4,666.7 601.9,666.6 602.4,665.8 602.9,667.5 603.4,667.3 603.9,666.9 604.5,665.6 605.0,665.7 605.5,665.0 606.0,664.8 606.5,664.3 607.0,664.2 607.6,666.1 608.1,664.9 608.6,665.7 609.1,664.7 609.6,665.9 610.1,665.5 610.7,665.9 611.2,665.4 611.7,665.3 612.2,664.8 612.7,666.3 613.2,663.7 613.8,664.8 614.3,664.7 614.8,664.4 615.3,665.6 615.8,666.1 616.3,663.6 616.9,666.3 617.4,665.5 617.9,664.2 618.4,666.4 618.9,667.3 619.4,664.9 620.0,665.8 620.5,665.0 621.0,664.9 621.5,664.9 622.0,665.0 622.5,664.9 623.1,665.9 623.6,666.0 624.1,664.9 624.6,665.2 625.1,663.8 625.6,666.5 626.2,665.9 626.7,665.7 627.2,663.5 627.7,664.4 628.2,665.0 628.7,665.0 629.3,665.7 629.8,666.4 630.3,665.5 630.8,665.8 631.3,666.6 631.8,666.5 632.4,665.9 632.9,664.2 633.4,665.5 633.9,665.3 634.4,665.7 634.9,665.8 635.5,664.5 636.0,663.5 636.5,664.8 637.0,665.6 637.5,663.7 638.0,664.3 638.6,665.1 639.1,664.2 639.6,664.6 640.1,666.0 640.6,665.7 641.1,666.4 641.7,665.1 642.2,666.9 642.7,665.6 643.2,664.6 643.7,665.2 644.2,665.7 644.8,665.5 645.3,664.9 645.8,665.1 646.3,665.9 646.8,665.8 647.4,665.4 647.9,664.6 648.4,665.6 648.9,664.8 649.4,665.2 649.9,665.1 650.5,665.4 651.0,665.1 651.5,663.5 652.0,665.8 652.5,665.8 653.0,665.4 653.6,665.6 654.1,666.9 654.6,663.9 655.1,664.6 655.6,664.9 656.1,665.8 656.7,664.7 657.2,665.2 657.7,665.7 658.2,664.6 658.7,666.2 659.2,664.8 659.8,663.6 660.3,663.5 660.8,665.2 661.3,665.4 661.8,665.0 662.3,664.3 662.9,664.5 663.4,664.9 663.9,664.5 664.4,663.9 664.9,666.3 665.4,665.8 666.0,666.0 666.5,665.2 667.0,666.0 667.5,665.1 668.0,664.4 668.5,665.1 669.1,664.7 669.6,663.9 670.1,664.3 670.6,663.9 671.1,665.7 671.6,663.6" fill="none" stroke="#e84848" stroke-width="1.6" stroke-linejoin="round"/>
<text x="39.59" y="778.60" font-size="20.80" textLength="23.95" lengthAdjust="spacingAndGlyphs">20</text>
<text x="91.33" y="778.60" font-size="20.80" textLength="23.95" lengthAdjust="spacingAndGlyphs">25</text>
<text x="143.06" y="778.60" font-size="20.80" textLength="23.95" lengthAdjust="spacingAndGlyphs">30</text>
<text x="194.80" y="778.60" font-size="20.80" textLength="23.95" lengthAdjust="spacingAndGlyphs">35</text>
<text x="246.58" y="778.60" font-size="20.80" textLength="23.95" lengthAdjust="spacingAndGlyphs">40</text>
<text x="298.32" y="778.60" font-size="20.80" textLength="23.95" lengthAdjust="spacingAndGlyphs">45</text>
<text x="349.79" y="778.60" font-size="20.80" textLength="23.95" lengthAdjust="spacingAndGlyphs">50</text>
<text x="401.53" y="778.60" font-size="20.80" textLength="23.95" lengthAdjust="spacingAndGlyphs">55</text>
<text x="453.06" y="778.60" font-size="20.80" textLength="23.95" lengthAdjust="spacingAndGlyphs">60</text>
<text x="504.79" y="778.60" font-size="20.80" textLength="23.95" lengthAdjust="spacingAndGlyphs">65</text>
<text x="556.37" y="778.60" font-size="20.80" textLength="23.95" lengthAdjust="spacingAndGlyphs">70</text>
<text x="608.11" y="778.60" font-size="20.80" textLength="23.95" lengthAdjust="spacingAndGlyphs">75</text>
<text x="659.84" y="778.60" font-size="20.80" textLength="23.95" lengthAdjust="spacingAndGlyphs">80</text>
<text x="346.33" y="819.60" font-size="26.00" textLength="30.57" lengthAdjust="spacingAndGlyphs">2θ</text>
<text x="598.33" y="327.80" font-size="16.00" textLength="56.29" lengthAdjust="spacingAndGlyphs">170 nm</text>
<text x="601.14" y="394.80" font-size="16.00" textLength="56.08" lengthAdjust="spacingAndGlyphs">150 nm</text>
<text x="599.83" y="461.10" font-size="16.00" textLength="56.40" lengthAdjust="spacingAndGlyphs">130 nm</text>
<text x="602.45" y="527.80" font-size="16.00" textLength="55.46" lengthAdjust="spacingAndGlyphs">100 nm</text>
<text x="610.05" y="593.80" font-size="16.00" textLength="47.38" lengthAdjust="spacingAndGlyphs">80 nm</text>
<text x="611.76" y="660.30" font-size="16.00" textLength="46.66" lengthAdjust="spacingAndGlyphs">60 nm</text>
<text transform="translate(22.60,615.94) rotate(-90)" font-size="25.20" textLength="263.34" lengthAdjust="spacingAndGlyphs">Normalized intensity</text>
<text x="1.60" y="236.50" font-size="31.00" textLength="17.24" lengthAdjust="spacingAndGlyphs">b</text>
<text x="23.23" y="235.00" font-size="28.20" textLength="8.14" lengthAdjust="spacingAndGlyphs">)</text>
<text x="49.36" y="240.80" font-size="20.60" textLength="48.00" lengthAdjust="spacingAndGlyphs">22°C</text>
</g>
<g>
<path d="M77.0 1384.5V1388.1M92.0 1387.0V1388.1M126.5 1321.2V1388.1M238.6 1363.0V1388.1M255.5 1361.5V1388.1M307.1 1383.4V1388.1M321.2 1384.0V1388.1M349.8 1373.9V1388.1M426.0 1379.6V1388.1M461.0 1384.0V1388.1M479.2 1386.0V1388.1M490.6 1377.9V1388.1M513.6 1375.7V1388.1M544.9 1385.1V1388.1M579.3 1379.6V1388.1M590.2 1382.9V1388.1M609.9 1386.2V1388.1M626.3 1387.0V1388.1" stroke="#000" stroke-width="1.3" fill="none"/>
<text transform="translate(121.90,1351.39) rotate(-90)" font-size="12.60" textLength="30.81" lengthAdjust="spacingAndGlyphs" fill="#222">{01.2}</text>
<text transform="translate(241.90,1358.99) rotate(-90)" font-size="12.60" textLength="31.01" lengthAdjust="spacingAndGlyphs" fill="#222">{10.4}</text>
<text transform="translate(259.00,1357.49) rotate(-90)" font-size="12.60" textLength="30.79" lengthAdjust="spacingAndGlyphs" fill="#222">{11.0}</text>
<text transform="translate(331.30,1382.09) rotate(-90)" font-size="12.60" textLength="30.81" lengthAdjust="spacingAndGlyphs" fill="#222">{02.1}</text>
<text transform="translate(352.10,1370.59) rotate(-90)" font-size="12.60" textLength="30.81" lengthAdjust="spacingAndGlyphs" fill="#222">{20.2}</text>
<text transform="translate(516.40,1371.19) rotate(-90)" font-size="12.60" textLength="30.81" lengthAdjust="spacingAndGlyphs" fill="#222">{12.2}</text>
<text transform="translate(581.00,1376.89) rotate(-90)" font-size="12.60" textLength="30.91" lengthAdjust="spacingAndGlyphs" fill="#222">{30.0}</text>
<rect x="51.7" y="888.7" width="620.2" height="499.4" fill="none" stroke="#000" stroke-width="2"/>
<path d="M41.7 1388.1H51.7M661.9 1388.1H671.9M45.7 1354.8H51.7M667.4 1354.8H671.9M41.7 1321.5H51.7M661.9 1321.5H671.9M45.7 1288.2H51.7M667.4 1288.2H671.9M41.7 1254.9H51.7M661.9 1254.9H671.9M45.7 1221.6H51.7M667.4 1221.6H671.9M41.7 1188.3H51.7M661.9 1188.3H671.9M45.7 1155.0H51.7M667.4 1155.0H671.9M41.7 1121.8H51.7M661.9 1121.8H671.9M45.7 1088.5H51.7M667.4 1088.5H671.9M41.7 1055.2H51.7M661.9 1055.2H671.9M45.7 1021.9H51.7M667.4 1021.9H671.9M41.7 988.6H51.7M661.9 988.6H671.9M45.7 955.3H51.7M667.4 955.3H671.9M41.7 922.0H51.7M661.9 922.0H671.9M45.7 888.7H51.7M51.7 1388.1V1397.6M77.5 1388.1V1393.1M77.5 888.7V893.2M103.4 1388.1V1397.6M103.4 888.7V897.7M129.2 1388.1V1393.1M129.2 888.7V893.2M155.1 1388.1V1397.6M155.1 888.7V897.7M180.9 1388.1V1393.1M180.9 888.7V893.2M206.8 1388.1V1397.6M206.8 888.7V897.7M232.6 1388.1V1393.1M232.6 888.7V893.2M258.4 1388.1V1397.6M258.4 888.7V897.7M284.3 1388.1V1393.1M284.3 888.7V893.2M310.1 1388.1V1397.6M310.1 888.7V897.7M336.0 1388.1V1393.1M336.0 888.7V893.2M361.8 1388.1V1397.6M361.8 888.7V897.7M387.6 1388.1V1393.1M387.6 888.7V893.2M413.5 1388.1V1397.6M413.5 888.7V897.7M439.3 1388.1V1393.1M439.3 888.7V893.2M465.2 1388.1V1397.6M465.2 888.7V897.7M491.0 1388.1V1393.1M491.0 888.7V893.2M516.8 1388.1V1397.6M516.8 888.7V897.7M542.7 1388.1V1393.1M542.7 888.7V893.2M568.5 1388.1V1397.6M568.5 888.7V897.7M594.4 1388.1V1393.1M594.4 888.7V893.2M620.2 1388.1V1397.6M620.2 888.7V897.7M646.1 1388.1V1393.1M646.1 888.7V893.2M671.9 1388.1V1397.6" stroke="#000" stroke-width="2" fill="none"/>
<path d="M51.7,973.6 52.2,973.4 52.7,973.5 53.3,973.7 53.8,973.7 54.3,973.8 54.8,974.0 55.3,973.8 55.8,973.6 56.4,973.4 56.9,973.2 57.4,973.4 57.9,973.6 58.4,973.4 58.9,973.5 59.5,973.9 60.0,973.3 60.5,973.9 61.0,973.9 61.5,973.3 62.0,973.0 62.6,973.3 63.1,973.6 63.6,973.6 64.1,973.5 64.6,973.7 65.1,973.3 65.7,973.6 66.2,973.6 66.7,973.8 67.2,973.7 67.7,973.8 68.2,973.8 68.8,973.6 69.3,973.7 69.8,973.2 70.3,973.2 70.8,973.5 71.3,973.7 71.9,973.6 72.4,973.6 72.9,973.6 73.4,973.9 73.9,973.9 74.4,973.9 75.0,973.8 75.5,973.6 76.0,973.8 76.5,973.6 77.0,973.5 77.5,973.5 78.1,973.5 78.6,973.5 79.1,973.6 79.6,973.9 80.1,974.0 80.6,973.8 81.2,974.0 81.7,973.7 82.2,973.6 82.7,973.6 83.2,973.8 83.7,973.6 84.3,973.3 84.8,973.9 85.3,973.5 85.8,973.5 86.3,973.7 86.8,973.6 87.4,973.4 87.9,973.8 88.4,973.6 88.9,973.7 89.4,973.8 89.9,973.6 90.5,973.7 91.0,973.7 91.5,973.6 92.0,973.7 92.5,973.4 93.0,973.8 93.6,973.7 94.1,973.4 94.6,973.4 95.1,973.4 95.6,973.7 96.1,973.9 96.7,973.4 97.2,973.3 97.7,973.5 98.2,974.0 98.7,973.8 99.2,973.4 99.8,973.5 100.3,973.2 100.8,973.8 101.3,973.6 101.8,973.6 102.3,973.4 102.9,973.7 103.4,973.8 103.9,973.4 104.4,973.0 104.9,973.3 105.5,973.4 106.0,973.4 106.5,973.2 107.0,973.0 107.5,973.0 108.0,973.2 108.6,973.5 109.1,973.0 109.6,973.5 110.1,973.4 110.6,974.0 111.1,973.5 111.7,973.6 112.2,973.7 112.7,974.1 113.2,973.4 113.7,973.3 114.2,973.7 114.8,973.5 115.3,973.5 115.8,973.6 116.3,973.4 116.8,973.8 117.3,973.9 117.9,973.7 118.4,973.4 118.9,973.7 119.4,973.7 119.9,973.8 120.4,973.3 121.0,973.3 121.5,973.3 121.6,973.8 121.7,973.7 121.9,973.5 122.0,973.7 122.1,972.7 122.2,973.0 122.4,972.7 122.5,972.0 122.6,972.0 122.8,971.7 122.9,971.4 123.0,970.8 123.2,970.7 123.3,970.2 123.4,970.0 123.5,969.4 123.7,968.7 123.8,967.8 123.9,967.3 124.1,966.7 124.2,966.2 124.3,965.6 124.4,964.9 124.6,964.6 124.7,964.5 124.8,964.7 125.0,965.0 125.1,964.9 125.2,965.4 125.3,966.1 125.5,966.4 125.6,966.8 125.7,967.3 125.9,968.4 126.0,969.0 126.1,969.6 126.3,970.3 126.4,970.8 126.5,970.6 126.6,971.3 126.8,971.3 126.9,971.9 127.0,972.6 127.2,972.6 127.3,972.4 127.4,972.9 127.5,972.8 127.7,973.3 127.8,973.3 127.9,973.3 128.1,973.4 128.2,973.7 128.3,973.5 128.4,973.4 129.0,973.6 129.5,973.3 130.0,973.5 130.5,973.6 131.0,973.3 131.6,973.6 132.1,974.1 132.6,973.4 133.1,973.9 133.6,973.4 134.1,973.6 134.7,973.3 135.2,973.7 135.7,973.6 136.2,973.4 136.7,973.8 137.2,973.5 137.8,973.8 138.3,973.7 138.8,973.8 139.3,973.7 139.8,973.6 140.3,973.4 140.9,973.7 141.4,973.8 141.9,973.8 142.4,973.5 142.9,974.0 143.4,973.7 144.0,974.1 144.5,974.2 145.0,974.0 145.5,973.6 146.0,973.8 146.5,973.6 147.1,973.9 147.6,973.6 148.1,973.6 148.6,973.6 149.1,973.6 149.6,973.9 150.2,973.5 150.7,973.7 151.2,974.0 151.7,974.1 152.2,974.0 152.7,974.0 153.3,973.1 153.8,973.8 154.3,973.9 154.8,973.4 155.3,973.5 155.8,973.6 156.4,973.7 156.9,973.7 157.4,973.5 157.9,973.8 158.4,973.4 158.9,973.7 159.5,973.2 160.0,973.5 160.5,973.5 161.0,973.3 161.5,973.4 162.0,973.4 162.6,973.4 163.1,973.1 163.6,973.2 164.1,973.0 164.6,972.9 165.1,973.0 165.7,972.6 166.2,972.7 166.7,972.5 167.2,972.8 167.7,972.8 168.2,973.1 168.8,972.8 169.3,972.4 169.8,972.6 170.3,972.6 170.8,972.2 171.3,972.3 171.9,972.3 172.4,971.8 172.9,971.8 173.4,971.7 173.9,971.9 174.4,971.6 175.0,971.9 175.5,971.5 176.0,971.6 176.5,971.2 177.0,971.7 177.5,971.1 178.1,971.0 178.6,971.6 179.1,971.2 179.6,971.0 180.1,970.9 180.6,970.8 181.2,970.6 181.7,970.5 182.2,970.3 182.7,970.7 183.2,970.3 183.8,970.4 184.3,970.4 184.8,970.1 185.3,970.5 185.8,970.5 186.3,970.6 186.9,970.6 187.4,970.7 187.9,970.5 188.4,970.4 188.9,970.3 189.4,970.5 190.0,970.8 190.5,970.3 191.0,970.9 191.5,970.9 192.0,970.7 192.5,970.9 193.1,971.3 193.6,970.7 194.1,970.7 194.6,970.3 195.1,970.5 195.6,970.6 196.2,971.0 196.7,970.6 197.2,970.9 197.7,971.0 198.2,971.2 198.7,971.2 199.3,971.3 199.8,971.3 200.3,970.9 200.8,971.5 201.3,971.4 201.8,971.8 202.4,971.4 202.9,971.3 203.4,971.4 203.9,971.9 204.4,972.4 204.9,972.2 205.5,972.3 206.0,972.0 206.5,971.9 207.0,972.0 207.5,972.4 208.0,972.6 208.6,972.0 209.1,972.1 209.6,972.5 210.1,972.5 210.6,972.6 211.1,972.7 211.7,972.2 212.2,972.5 212.7,972.8 213.2,972.9 213.7,973.0 214.2,972.9 214.8,973.2 215.3,973.0 215.8,972.9 216.3,972.9 216.8,973.0 217.3,972.9 217.9,972.9 218.4,973.3 218.9,973.1 219.4,973.4 219.9,973.5 220.4,973.4 221.0,973.2 221.5,973.4 222.0,973.7 222.5,973.6 223.0,973.6 223.5,973.3 224.1,973.4 224.6,973.8 225.1,974.1 225.6,974.2 226.1,974.2 226.6,973.7 227.2,974.1 227.7,973.8 228.2,973.8 228.7,973.8 229.2,973.9 229.7,973.8 230.3,973.8 230.8,973.8 231.3,974.1 231.8,974.2 232.3,973.7 232.9,973.8 233.4,973.5 233.9,973.6 234.4,973.8 234.9,973.6 235.4,973.3 236.0,973.5 236.5,973.1 237.0,972.8 237.5,972.7 238.0,972.6 238.5,972.8 239.1,973.3 239.6,973.2 240.1,973.6 240.6,973.6 241.1,974.2 241.6,974.1 242.2,974.3 242.7,973.9 243.2,973.7 243.7,973.9 244.2,973.9 244.7,973.9 245.3,974.0 245.8,973.6 246.3,973.5 246.8,973.4 247.3,973.8 247.8,973.4 248.4,974.0 248.9,973.8 249.4,973.6 249.9,973.6 250.4,973.8 250.9,973.4 251.5,973.3 252.0,972.6 252.1,971.9 252.2,971.4 252.4,970.6 252.5,969.7 252.6,968.2 252.7,967.3 252.9,965.1 253.0,962.7 253.1,959.6 253.3,956.4 253.4,952.2 253.5,947.9 253.7,943.2 253.8,937.7 253.9,931.9 254.0,926.4 254.2,921.2 254.3,916.6 254.4,912.5 254.6,909.9 254.7,909.5 254.8,910.2 254.9,911.8 255.1,914.9 255.2,919.8 255.3,924.6 255.5,929.2 255.6,935.1 255.7,940.4 255.8,945.8 256.0,950.9 256.1,955.5 256.2,958.4 256.4,961.7 256.5,964.6 256.6,967.0 256.8,968.6 256.9,969.8 257.0,970.7 257.1,971.2 257.3,971.8 257.4,972.1 257.5,972.6 257.7,972.8 257.8,973.0 257.9,973.2 258.4,973.1 259.0,973.6 259.5,973.7 260.0,973.6 260.5,973.8 261.0,973.6 261.5,973.7 262.1,973.9 262.6,973.8 263.1,973.8 263.6,973.8 264.1,974.3 264.6,974.3 265.2,973.9 265.7,973.8 266.2,974.0 266.7,973.9 267.2,973.7 267.7,974.1 268.3,973.7 268.8,973.9 269.3,973.9 269.8,974.1 270.3,974.2 270.8,974.0 271.4,974.3 271.9,973.9 272.4,974.1 272.9,974.2 273.4,974.4 273.9,974.0 274.5,974.2 275.0,974.1 275.5,974.2 276.0,974.0 276.5,973.8 277.0,973.9 277.6,973.9 278.1,974.2 278.6,974.0 279.1,974.1 279.6,974.2 280.1,974.0 280.7,974.3 281.2,974.1 281.7,974.4 282.2,974.2 282.7,974.3 283.2,974.0 283.8,974.3 284.3,974.2 284.8,974.3 285.3,974.0 285.8,974.5 286.3,974.0 286.9,974.2 287.4,973.8 287.9,973.7 288.4,973.7 288.9,973.7 289.4,973.9 290.0,973.8 290.5,974.2 291.0,973.8 291.5,974.2 292.0,974.1 292.5,973.8 293.1,974.0 293.6,973.7 294.1,973.6 294.6,974.1 295.1,973.7 295.6,974.1 296.2,974.3 296.7,974.2 297.2,974.3 297.7,974.4 298.2,974.6 298.7,974.2 299.3,974.2 299.8,974.3 300.3,973.8 300.8,974.2 301.3,974.3 301.8,973.8 302.4,973.6 302.9,973.6 303.4,973.7 303.9,973.7 304.4,973.8 304.9,974.0 305.5,974.1 306.0,973.7 306.5,973.7 307.0,974.1 307.5,974.5 308.0,974.2 308.6,974.5 309.1,974.5 309.6,974.6 310.1,974.5 310.6,974.2 311.2,974.1 311.7,974.2 312.2,974.2 312.7,974.2 313.2,974.2 313.7,974.0 314.3,974.1 314.8,974.2 315.3,973.8 315.8,974.3 316.3,973.9 316.8,974.1 317.4,974.3 317.9,974.2 318.4,973.7 318.9,974.6 319.4,974.4 319.9,974.0 320.5,974.4 321.0,974.4 321.5,973.4 322.0,973.7 322.5,973.8 323.0,973.8 323.6,973.9 324.1,974.0 324.6,973.8 325.1,973.8 325.6,973.0 326.1,972.4 326.7,970.9 327.2,970.4 327.7,969.6 328.2,970.0 328.7,970.8 329.2,972.2 329.8,972.8 330.3,973.5 330.8,973.8 331.3,974.5 331.8,974.3 332.3,973.9 332.9,974.3 333.4,974.2 333.9,973.7 334.4,974.3 334.9,974.3 335.4,974.3 336.0,974.4 336.5,974.5 337.0,974.5 337.5,974.4 338.0,974.7 338.5,974.5 339.1,974.7 339.6,974.7 340.1,974.9 340.6,974.3 341.1,974.2 341.6,973.8 342.2,973.8 342.7,974.1 343.2,973.3 343.3,973.6 343.5,973.6 343.6,973.5 343.7,973.9 343.8,973.7 344.0,973.4 344.1,973.3 344.2,973.2 344.4,972.9 344.5,972.4 344.6,972.4 344.7,971.9 344.9,972.1 345.0,971.6 345.1,971.3 345.3,971.0 345.4,970.6 345.5,970.1 345.6,969.7 345.8,969.1 345.9,968.6 346.0,968.3 346.2,967.5 346.3,966.8 346.4,966.5 346.6,966.1 346.7,966.4 346.8,966.0 346.9,965.7 347.1,965.7 347.2,965.1 347.3,964.9 347.5,965.1 347.6,965.5 347.7,965.2 347.8,965.5 348.0,966.1 348.1,966.6 348.2,967.0 348.4,967.4 348.5,967.5 348.6,967.8 348.7,968.0 348.9,968.6 349.0,968.5 349.1,969.5 349.3,969.9 349.4,970.6 349.5,971.3 349.7,971.0 349.8,971.8 349.9,971.6 350.0,972.1 350.2,972.3 350.3,972.8 350.4,973.6 350.6,973.3 350.7,973.4 350.8,973.4 350.9,973.6 351.1,974.0 351.2,973.6 351.3,973.9 351.5,973.7 351.6,973.6 351.7,974.2 351.9,973.8 352.0,973.9 352.1,973.8 352.6,974.0 353.1,973.8 353.7,974.2 354.2,973.9 354.7,974.4 355.2,974.3 355.7,974.0 356.2,974.5 356.8,974.1 357.3,974.1 357.8,974.3 358.3,974.0 358.8,974.1 359.3,974.1 359.9,974.6 360.4,974.2 360.9,974.3 361.4,974.3 361.9,974.1 362.4,974.4 363.0,974.3 363.5,974.1 364.0,974.1 364.5,974.2 365.0,973.9 365.5,974.4 366.1,974.4 366.6,974.6 367.1,974.0 367.6,974.4 368.1,974.5 368.6,974.4 369.2,974.3 369.7,974.3 370.2,974.2 370.7,974.1 371.2,974.0 371.7,974.1 372.3,974.1 372.8,974.4 373.3,974.2 373.8,974.4 374.3,974.4 374.9,974.7 375.4,974.4 375.9,974.8 376.4,974.7 376.9,974.1 377.4,974.5 378.0,973.9 378.5,974.2 379.0,974.3 379.5,974.2 380.0,974.6 380.5,974.7 381.1,974.3 381.6,974.8 382.1,974.1 382.6,974.2 383.1,974.2 383.6,973.6 384.2,974.5 384.7,974.4 385.2,974.5 385.7,974.3 386.2,974.3 386.7,974.1 387.3,974.0 387.8,974.4 388.3,974.6 388.8,974.7 389.3,974.5 389.8,974.5 390.4,974.5 390.9,974.5 391.4,974.3 391.9,974.6 392.4,974.2 392.9,974.4 393.5,974.0 394.0,974.9 394.5,974.4 395.0,974.4 395.5,974.5 396.0,974.2 396.6,974.0 397.1,974.1 397.6,974.5 398.1,974.5 398.6,974.2 399.1,974.3 399.7,974.2 400.2,974.3 400.7,974.4 401.2,974.3 401.7,974.0 402.2,974.4 402.8,974.3 403.3,974.1 403.8,974.0 404.3,974.2 404.8,974.5 405.3,974.6 405.9,974.6 406.4,974.5 406.9,974.7 407.4,974.3 407.9,974.7 408.4,974.2 409.0,974.4 409.5,974.3 410.0,974.8 410.5,974.4 411.0,974.6 411.5,974.4 412.1,974.5 412.6,974.4 413.1,974.3 413.6,974.4 414.1,973.9 414.6,974.3 415.2,974.1 415.7,974.3 416.2,974.6 416.7,974.0 417.2,974.4 417.7,974.5 418.3,974.5 418.8,974.9 419.3,974.5 419.8,974.6 420.3,974.2 420.8,974.7 421.4,974.4 421.9,974.2 422.4,974.4 422.9,974.6 423.4,974.1 423.9,974.7 424.5,974.4 425.0,974.2 425.5,973.8 426.0,974.3 426.5,974.2 427.1,974.4 427.6,974.6 428.1,974.3 428.6,974.5 429.1,974.3 429.6,974.3 430.2,974.2 430.7,974.5 431.2,974.6 431.7,974.5 432.2,974.6 432.7,974.2 433.3,974.3 433.8,974.4 434.3,974.4 434.8,974.4 435.3,974.7 435.8,973.8 436.4,974.0 436.9,974.3 437.4,974.3 437.9,974.7 438.4,974.3 438.9,974.9 439.5,974.7 440.0,974.5 440.5,974.4 441.0,974.5 441.5,974.6 442.0,974.7 442.6,974.3 443.1,974.8 443.6,974.3 444.1,974.5 444.6,974.2 445.1,974.3 445.7,974.2 446.2,974.5 446.7,974.6 447.2,974.3 447.7,974.8 448.2,974.6 448.8,974.3 449.3,974.2 449.8,974.4 450.3,974.5 450.8,974.4 451.3,974.5 451.9,974.6 452.4,974.4 452.9,974.3 453.4,974.2 453.9,974.6 454.4,974.5 455.0,974.4 455.5,974.1 456.0,974.7 456.5,974.4 457.0,974.5 457.5,974.6 458.1,974.8 458.6,974.5 459.1,974.2 459.6,974.9 460.1,974.6 460.6,974.7 461.2,974.4 461.7,974.6 462.2,974.8 462.7,975.0 463.2,974.6 463.7,975.1 464.3,974.9 464.8,974.9 465.3,974.6 465.8,974.9 466.3,975.1 466.8,975.1 467.4,974.8 467.9,974.6 468.4,974.6 468.9,974.3 469.4,974.1 469.9,974.2 470.5,974.2 471.0,974.5 471.5,974.4 472.0,974.1 472.5,974.3 473.0,974.6 473.6,974.5 474.1,974.4 474.6,974.4 475.1,974.5 475.6,974.8 476.1,974.6 476.7,974.3 477.2,974.4 477.7,974.4 478.2,974.3 478.7,974.2 479.3,974.4 479.8,974.1 480.3,974.0 480.8,974.5 481.3,974.5 481.8,974.5 482.4,974.4 482.9,974.5 483.4,974.4 483.9,974.4 484.4,974.3 484.9,974.7 485.5,974.5 486.0,974.4 486.5,974.4 487.0,974.5 487.5,974.3 488.0,974.8 488.6,974.5 489.1,974.5 489.6,975.0 490.1,974.4 490.6,974.6 491.1,974.7 491.7,974.8 492.2,974.4 492.7,974.8 493.2,974.9 493.7,974.3 494.2,974.5 494.8,974.7 495.3,974.6 495.8,974.6 496.3,974.9 496.8,974.8 497.3,974.3 497.9,974.6 498.4,974.5 498.9,974.5 499.4,974.6 499.9,974.6 500.4,974.5 501.0,974.4 501.5,974.9 502.0,974.7 502.5,974.6 503.0,974.4 503.5,974.7 504.1,975.0 504.6,974.3 505.1,974.4 505.6,974.2 506.1,974.3 506.6,974.6 507.2,974.3 507.7,974.1 508.2,974.4 508.7,974.1 509.2,973.5 509.7,972.9 510.3,971.9 510.8,971.3 511.3,970.9 511.8,970.6 512.3,970.8 512.8,971.4 513.4,972.5 513.9,973.4 514.4,973.7 514.9,973.8 515.4,974.4 515.9,974.7 516.5,974.6 517.0,975.0 517.5,974.5 518.0,974.4 518.5,974.5 519.0,974.7 519.6,974.7 520.1,974.9 520.6,975.1 521.1,974.8 521.6,975.1 522.1,974.7 522.7,975.3 523.2,975.0 523.7,974.9 524.2,974.8 524.7,974.6 525.2,974.8 525.8,974.4 526.3,974.3 526.8,974.6 527.3,974.5 527.8,974.3 528.3,974.2 528.9,974.8 529.4,974.5 529.9,974.3 530.4,974.4 530.9,974.3 531.5,974.3 532.0,974.5 532.5,974.6 533.0,974.8 533.5,974.9 534.0,974.8 534.6,974.9 535.1,974.5 535.6,974.9 536.1,974.8 536.6,974.9 537.1,974.8 537.7,974.6 538.2,974.8 538.7,974.7 539.2,974.9 539.7,975.0 540.2,974.8 540.8,974.6 541.3,974.9 541.8,974.8 542.3,974.6 542.8,974.6 543.3,974.4 543.9,975.0 544.4,974.8 544.9,974.6 545.4,975.1 545.9,974.3 546.4,974.7 547.0,974.7 547.5,974.6 548.0,974.8 548.5,974.9 549.0,974.7 549.5,974.7 550.1,974.8 550.6,974.7 551.1,974.6 551.6,974.7 552.1,974.7 552.6,974.6 553.2,974.8 553.7,974.7 554.2,974.8 554.7,974.8 555.2,974.5 555.7,974.7 556.3,974.4 556.8,974.3 557.3,974.5 557.8,974.7 558.3,974.5 558.8,974.7 559.4,974.8 559.9,974.5 560.4,974.6 560.9,975.0 561.4,975.0 561.9,974.5 562.5,975.0 563.0,974.8 563.5,974.9 564.0,974.9 564.5,974.8 565.0,974.9 565.6,974.7 566.1,974.8 566.6,974.8 567.1,974.8 567.6,974.7 568.1,974.8 568.7,974.9 569.2,974.7 569.7,974.8 570.2,974.8 570.7,974.6 571.2,975.0 571.8,974.8 572.3,974.4 572.8,974.6 573.3,974.5 573.8,974.8 574.3,974.6 574.9,974.7 575.4,974.4 575.9,974.4 576.4,974.5 576.9,974.6 577.4,974.5 578.0,974.3 578.5,974.6 579.0,974.7 579.5,974.2 580.0,974.2 580.5,974.5 581.1,974.6 581.6,974.4 582.1,974.7 582.6,974.7 583.1,974.3 583.7,974.2 584.2,973.8 584.7,973.5 585.2,972.3 585.7,971.9 586.2,971.2 586.8,970.9 587.3,970.8 587.8,970.8 588.3,971.8 588.8,972.5 589.3,973.2 589.9,973.7 590.4,974.0 590.9,974.7 591.4,974.7 591.9,974.8 592.4,975.1 593.0,974.9 593.5,974.8 594.0,974.7 594.5,974.8 595.0,974.5 595.5,975.1 596.1,974.8 596.6,974.8 597.1,975.0 597.6,974.8 598.1,974.8 598.6,974.7 599.2,974.5 599.7,974.9 600.2,974.7 600.7,974.7 601.2,974.9 601.7,974.9 602.3,975.2 602.8,974.5 603.3,974.7 603.8,974.8 604.3,974.6 604.8,974.6 605.4,974.7 605.9,974.8 606.4,974.4 606.9,974.8 607.4,975.0 607.9,974.7 608.5,975.2 609.0,974.7 609.5,975.2 610.0,974.9 610.5,975.1 611.0,974.8 611.6,974.7 612.1,974.9 612.6,974.6 613.1,974.5 613.6,975.0 614.1,975.0 614.7,975.2 615.2,975.0 615.7,975.2 616.2,974.6 616.7,974.7 617.2,974.5 617.8,974.6 618.3,974.9 618.8,974.9 619.3,974.8 619.8,975.0 620.3,974.5 620.9,975.0 621.4,974.9 621.9,974.9 622.4,974.8 622.9,974.5 623.4,974.7 624.0,974.7 624.5,974.7 625.0,975.2 625.5,974.7 626.0,974.7 626.5,974.8 627.1,974.8 627.6,974.8 628.1,974.8 628.6,974.7 629.1,974.8 629.6,974.8 630.2,974.7 630.7,974.9 631.2,974.7 631.7,974.8 632.2,975.0 632.7,975.2 633.3,974.9 633.8,974.9 634.3,975.3 634.8,974.9 635.3,975.3 635.9,975.3 636.4,975.1 636.9,975.2 637.4,974.9 637.9,975.3 638.4,974.6 639.0,974.8 639.5,975.1 640.0,975.2 640.5,975.1 641.0,975.0 641.5,975.1 642.1,975.0 642.6,975.2 643.1,974.7 643.6,974.8 644.1,974.8 644.6,975.2 645.2,975.1 645.7,975.3 646.2,975.0 646.7,975.0 647.2,975.4 647.7,975.1 648.3,975.5 648.8,974.9 649.3,974.7 649.8,975.1 650.3,975.1 650.8,974.8 651.4,975.0 651.9,974.6 652.4,974.9 652.9,974.8 653.4,974.7 653.9,974.7 654.5,974.5 655.0,975.1 655.5,975.1 656.0,974.6 656.5,974.8 657.0,974.9 657.6,974.6 658.1,974.9 658.6,974.7 659.1,975.0 659.6,975.3 660.1,975.3 660.7,975.0 661.2,975.1 661.7,975.2 662.2,975.1 662.7,975.2 663.2,975.0 663.8,975.1 664.3,975.1 664.8,975.3 665.3,975.4 665.8,975.3 666.3,975.3 666.9,974.9 667.4,974.9 667.9,974.8 668.4,974.8 668.9,975.0 669.4,974.9 670.0,974.5 670.5,974.6 671.0,975.1 671.5,974.7" fill="none" stroke="#30cacc" stroke-width="1.75" stroke-linejoin="round"/>
<path d="M51.7,1036.2 52.2,1036.5 52.7,1036.4 53.3,1036.8 53.8,1036.9 54.3,1037.0 54.8,1037.1 55.3,1037.4 55.8,1037.6 56.4,1038.1 56.9,1038.3 57.4,1038.0 57.9,1038.8 58.4,1039.1 58.9,1039.0 59.5,1038.6 60.0,1038.9 60.5,1039.5 61.0,1039.0 61.5,1039.2 62.0,1039.4 62.6,1039.3 63.1,1039.4 63.6,1039.3 64.1,1039.6 64.6,1039.5 65.1,1039.5 65.7,1040.1 66.2,1039.7 66.7,1039.6 67.2,1039.9 67.7,1040.0 68.2,1039.6 68.8,1039.8 69.3,1039.7 69.8,1040.1 70.3,1040.0 70.8,1040.0 71.3,1040.0 71.9,1040.4 72.4,1041.0 72.9,1040.8 73.4,1040.5 73.9,1040.6 74.4,1040.8 75.0,1040.8 75.5,1040.9 76.0,1040.8 76.5,1040.8 77.0,1040.5 77.5,1040.8 78.1,1040.3 78.6,1041.0 79.1,1040.9 79.6,1040.4 80.1,1040.3 80.6,1040.6 81.2,1040.2 81.7,1040.2 82.2,1040.6 82.7,1040.4 83.2,1040.9 83.7,1040.3 84.3,1040.2 84.8,1040.6 85.3,1040.3 85.8,1040.6 86.3,1040.2 86.8,1040.4 87.4,1040.7 87.9,1040.8 88.4,1040.8 88.9,1040.3 89.4,1040.6 89.9,1040.6 90.5,1040.5 91.0,1040.7 91.5,1040.5 92.0,1040.2 92.5,1040.3 93.0,1040.7 93.6,1040.5 94.1,1040.5 94.6,1040.2 95.1,1040.6 95.6,1040.8 96.1,1040.1 96.7,1040.7 97.2,1040.4 97.7,1040.4 98.2,1040.7 98.7,1040.5 99.2,1040.7 99.8,1040.3 100.3,1040.7 100.8,1040.3 101.3,1040.5 101.8,1040.5 102.3,1040.7 102.9,1040.5 103.4,1040.8 103.9,1040.2 104.4,1040.3 104.9,1040.0 105.5,1040.4 106.0,1039.7 106.5,1040.7 107.0,1040.5 107.5,1040.8 108.0,1040.3 108.6,1040.5 109.1,1040.1 109.6,1039.8 110.1,1040.4 110.6,1040.2 111.1,1040.3 111.7,1040.8 112.2,1040.4 112.7,1040.8 113.2,1040.6 113.7,1040.8 114.2,1040.2 114.8,1040.6 115.3,1040.9 115.8,1041.2 116.3,1040.5 116.8,1040.3 117.3,1040.7 117.9,1040.6 118.4,1040.5 118.9,1040.8 119.4,1040.8 119.9,1040.5 120.4,1040.1 121.0,1040.1 121.5,1040.2 121.6,1040.9 121.7,1040.3 121.9,1040.4 122.0,1040.4 122.1,1040.2 122.2,1040.4 122.4,1040.0 122.5,1040.0 122.6,1039.4 122.8,1038.8 122.9,1039.1 123.0,1038.9 123.2,1038.6 123.3,1038.4 123.4,1037.6 123.5,1037.1 123.7,1036.4 123.8,1036.2 123.9,1035.1 124.1,1035.1 124.2,1034.9 124.3,1034.2 124.4,1033.8 124.6,1034.0 124.7,1034.1 124.8,1033.6 125.0,1033.8 125.1,1033.5 125.2,1034.3 125.3,1034.3 125.5,1034.6 125.6,1034.9 125.7,1035.8 125.9,1035.7 126.0,1036.3 126.1,1037.1 126.3,1037.3 126.4,1037.6 126.5,1038.4 126.6,1039.0 126.8,1039.5 126.9,1039.5 127.0,1040.0 127.2,1040.0 127.3,1039.8 127.4,1040.2 127.5,1040.3 127.7,1039.6 127.8,1040.0 127.9,1040.4 128.1,1040.3 128.2,1040.4 128.3,1040.2 128.4,1040.3 129.0,1040.8 129.5,1040.9 130.0,1040.8 130.5,1041.0 131.0,1040.8 131.6,1040.3 132.1,1040.3 132.6,1040.3 133.1,1040.5 133.6,1040.6 134.1,1040.6 134.7,1040.5 135.2,1040.7 135.7,1040.4 136.2,1040.5 136.7,1040.4 137.2,1040.4 137.8,1040.6 138.3,1040.7 138.8,1040.9 139.3,1040.8 139.8,1041.0 140.3,1041.0 140.9,1040.9 141.4,1040.6 141.9,1040.6 142.4,1040.9 142.9,1040.7 143.4,1041.0 144.0,1040.9 144.5,1040.4 145.0,1040.7 145.5,1041.0 146.0,1040.8 146.5,1041.1 147.1,1040.4 147.6,1040.8 148.1,1040.5 148.6,1040.8 149.1,1040.7 149.6,1041.4 150.2,1041.0 150.7,1040.9 151.2,1040.4 151.7,1040.2 152.2,1040.3 152.7,1040.4 153.3,1040.6 153.8,1040.5 154.3,1040.6 154.8,1040.7 155.3,1040.1 155.8,1040.5 156.4,1040.6 156.9,1040.1 157.4,1040.4 157.9,1040.2 158.4,1040.3 158.9,1039.8 159.5,1040.0 160.0,1039.9 160.5,1040.0 161.0,1040.1 161.5,1040.2 162.0,1040.0 162.6,1039.7 163.1,1039.6 163.6,1039.7 164.1,1039.5 164.6,1039.7 165.1,1039.5 165.7,1039.3 166.2,1039.7 166.7,1039.0 167.2,1039.0 167.7,1038.5 168.2,1038.7 168.8,1038.4 169.3,1038.6 169.8,1038.1 170.3,1038.4 170.8,1038.2 171.3,1037.8 171.9,1038.0 172.4,1037.7 172.9,1037.7 173.4,1037.4 173.9,1037.6 174.4,1037.4 175.0,1037.3 175.5,1037.1 176.0,1037.2 176.5,1037.1 177.0,1036.7 177.5,1036.5 178.1,1036.4 178.6,1036.2 179.1,1035.9 179.6,1036.0 180.1,1035.8 180.6,1035.3 181.2,1035.8 181.7,1034.6 182.2,1033.9 182.7,1032.7 183.2,1033.0 183.8,1033.7 184.3,1034.7 184.8,1035.1 185.3,1035.0 185.8,1034.5 186.3,1035.0 186.9,1034.7 187.4,1034.6 187.9,1034.2 188.4,1034.7 188.9,1034.7 189.4,1034.4 190.0,1034.1 190.5,1034.9 191.0,1034.1 191.5,1033.9 192.0,1034.0 192.5,1034.6 193.1,1035.4 193.6,1034.5 194.1,1035.4 194.6,1035.6 195.1,1035.7 195.6,1035.9 196.2,1035.6 196.7,1035.9 197.2,1035.5 197.7,1035.7 198.2,1036.0 198.7,1035.7 199.3,1036.2 199.8,1036.7 200.3,1036.9 200.8,1036.6 201.3,1036.7 201.8,1036.9 202.4,1037.0 202.9,1036.5 203.4,1036.8 203.9,1036.7 204.4,1037.3 204.9,1037.2 205.5,1037.1 206.0,1037.3 206.5,1037.8 207.0,1037.6 207.5,1037.6 208.0,1037.7 208.6,1038.0 209.1,1038.6 209.6,1038.0 210.1,1037.8 210.6,1037.7 211.1,1038.1 211.7,1038.6 212.2,1038.8 212.7,1039.2 213.2,1038.7 213.7,1038.7 214.2,1038.4 214.8,1038.7 215.3,1039.1 215.8,1038.7 216.3,1038.8 216.8,1039.5 217.3,1039.2 217.9,1039.4 218.4,1039.9 218.9,1039.5 219.4,1039.5 219.9,1040.1 220.4,1039.8 221.0,1040.1 221.5,1040.0 222.0,1039.8 222.5,1039.8 223.0,1040.3 223.5,1040.3 224.1,1040.2 224.6,1040.4 225.1,1040.3 225.6,1040.9 226.1,1040.4 226.6,1040.5 227.2,1040.3 227.7,1040.1 228.2,1040.8 228.7,1040.9 229.2,1040.8 229.7,1040.4 230.3,1040.8 230.8,1040.6 231.3,1040.6 231.8,1039.9 232.3,1040.3 232.9,1040.4 233.4,1040.6 233.9,1040.5 234.4,1040.5 234.9,1040.9 235.4,1040.5 236.0,1040.1 236.5,1040.1 237.0,1040.1 237.5,1040.5 238.0,1040.7 238.5,1040.5 239.1,1040.5 239.6,1041.2 240.1,1041.0 240.6,1040.7 241.1,1040.4 241.6,1041.1 242.2,1040.7 242.7,1040.7 243.2,1040.9 243.7,1040.7 244.2,1040.8 244.7,1040.7 245.3,1041.1 245.8,1041.0 246.3,1040.6 246.8,1040.9 247.3,1040.7 247.8,1040.9 248.4,1040.5 248.9,1041.0 249.4,1040.8 249.9,1040.4 250.4,1040.5 250.9,1039.9 251.5,1040.1 252.0,1039.8 252.1,1038.9 252.2,1038.4 252.4,1037.8 252.5,1036.5 252.6,1035.5 252.7,1034.3 252.9,1032.2 253.0,1029.5 253.1,1026.7 253.3,1023.5 253.4,1019.3 253.5,1014.1 253.7,1009.4 253.8,1004.3 253.9,998.9 254.0,993.0 254.2,987.4 254.3,983.0 254.4,979.4 254.6,977.0 254.7,975.8 254.8,976.5 254.9,978.5 255.1,981.5 255.2,986.3 255.3,991.0 255.5,996.3 255.6,1001.9 255.7,1007.0 255.8,1012.4 256.0,1017.3 256.1,1022.1 256.2,1025.7 256.4,1029.1 256.5,1031.3 256.6,1033.2 256.8,1035.1 256.9,1036.2 257.0,1037.1 257.1,1038.1 257.3,1038.8 257.4,1038.9 257.5,1039.4 257.7,1039.5 257.8,1039.9 257.9,1039.5 258.4,1039.8 259.0,1040.5 259.5,1040.1 260.0,1040.0 260.5,1040.5 261.0,1040.3 261.5,1040.2 262.1,1040.4 262.6,1040.7 263.1,1040.6 263.6,1040.9 264.1,1040.3 264.6,1040.3 265.2,1040.6 265.7,1040.1 266.2,1040.1 266.7,1040.3 267.2,1040.5 267.7,1040.6 268.3,1040.5 268.8,1040.6 269.3,1040.6 269.8,1040.4 270.3,1040.7 270.8,1040.6 271.4,1040.8 271.9,1040.9 272.4,1041.0 272.9,1040.4 273.4,1040.8 273.9,1040.4 274.5,1040.9 275.0,1040.6 275.5,1040.7 276.0,1040.3 276.5,1040.9 277.0,1041.2 277.6,1041.0 278.1,1040.4 278.6,1040.6 279.1,1040.6 279.6,1040.7 280.1,1040.4 280.7,1040.6 281.2,1041.1 281.7,1041.0 282.2,1041.2 282.7,1041.1 283.2,1041.0 283.8,1041.1 284.3,1041.1 284.8,1041.1 285.3,1041.3 285.8,1041.1 286.3,1040.8 286.9,1040.6 287.4,1040.8 287.9,1041.0 288.4,1041.1 288.9,1040.8 289.4,1041.1 290.0,1041.3 290.5,1041.0 291.0,1040.9 291.5,1040.9 292.0,1040.7 292.5,1040.5 293.1,1041.1 293.6,1040.9 294.1,1041.2 294.6,1041.1 295.1,1041.3 295.6,1040.8 296.2,1041.4 296.7,1040.8 297.2,1040.8 297.7,1041.7 298.2,1041.2 298.7,1041.0 299.3,1041.0 299.8,1040.8 300.3,1040.9 300.8,1040.5 301.3,1041.0 301.8,1041.0 302.4,1040.8 302.9,1040.8 303.4,1040.7 303.9,1040.7 304.4,1040.7 304.9,1040.8 305.5,1041.1 306.0,1041.0 306.5,1040.8 307.0,1040.6 307.5,1040.4 308.0,1040.3 308.6,1040.7 309.1,1040.4 309.6,1041.0 310.1,1040.7 310.6,1040.9 311.2,1040.6 311.7,1041.1 312.2,1041.2 312.7,1041.2 313.2,1040.9 313.7,1041.2 314.3,1040.7 314.8,1041.5 315.3,1041.0 315.8,1040.9 316.3,1041.0 316.8,1041.1 317.4,1041.1 317.9,1041.2 318.4,1041.3 318.9,1041.3 319.4,1040.8 319.9,1040.9 320.5,1041.0 321.0,1040.9 321.5,1041.2 322.0,1041.1 322.5,1040.9 323.0,1041.1 323.6,1040.6 324.1,1040.4 324.6,1040.3 325.1,1040.4 325.6,1039.7 326.1,1039.8 326.7,1038.9 327.2,1038.4 327.7,1038.1 328.2,1038.1 328.7,1038.6 329.2,1039.9 329.8,1039.9 330.3,1040.5 330.8,1041.1 331.3,1040.1 331.8,1041.2 332.3,1041.0 332.9,1041.0 333.4,1041.2 333.9,1040.8 334.4,1040.9 334.9,1040.9 335.4,1040.9 336.0,1041.0 336.5,1040.8 337.0,1040.6 337.5,1040.8 338.0,1041.1 338.5,1041.0 339.1,1041.6 339.6,1040.9 340.1,1040.8 340.6,1040.5 341.1,1040.5 341.6,1040.4 342.2,1040.4 342.7,1041.0 343.2,1040.4 343.3,1040.4 343.5,1040.4 343.6,1040.4 343.7,1040.2 343.8,1040.0 344.0,1039.7 344.1,1039.8 344.2,1039.4 344.4,1039.8 344.5,1039.5 344.6,1039.3 344.7,1039.1 344.9,1038.8 345.0,1038.3 345.1,1038.6 345.3,1038.0 345.4,1037.8 345.5,1037.1 345.6,1036.7 345.8,1035.8 345.9,1036.3 346.0,1035.4 346.2,1035.3 346.3,1035.0 346.4,1034.7 346.6,1033.9 346.7,1034.0 346.8,1034.2 346.9,1033.2 347.1,1033.0 347.2,1033.9 347.3,1033.6 347.5,1033.6 347.6,1034.0 347.7,1033.6 347.8,1033.9 348.0,1033.8 348.1,1034.1 348.2,1034.8 348.4,1035.0 348.5,1035.8 348.6,1035.8 348.7,1036.2 348.9,1036.7 349.0,1036.4 349.1,1037.2 349.3,1038.1 349.4,1038.4 349.5,1038.5 349.7,1038.6 349.8,1038.8 349.9,1039.1 350.0,1039.3 350.2,1039.7 350.3,1039.7 350.4,1039.7 350.6,1039.8 350.7,1040.0 350.8,1040.6 350.9,1040.3 351.1,1040.5 351.2,1040.1 351.3,1040.6 351.5,1040.6 351.6,1041.1 351.7,1040.9 351.9,1041.1 352.0,1040.9 352.1,1040.8 352.6,1040.9 353.1,1040.9 353.7,1040.2 354.2,1040.4 354.7,1040.7 355.2,1040.7 355.7,1040.3 356.2,1040.5 356.8,1039.9 357.3,1040.3 357.8,1040.5 358.3,1040.4 358.8,1041.0 359.3,1040.3 359.9,1040.9 360.4,1040.6 360.9,1040.3 361.4,1041.3 361.9,1041.7 362.4,1041.5 363.0,1041.1 363.5,1041.1 364.0,1041.1 364.5,1041.2 365.0,1041.1 365.5,1041.0 366.1,1041.1 366.6,1040.9 367.1,1040.8 367.6,1040.9 368.1,1040.8 368.6,1040.5 369.2,1040.6 369.7,1040.7 370.2,1040.5 370.7,1040.3 371.2,1040.8 371.7,1040.4 372.3,1040.7 372.8,1041.2 373.3,1040.9 373.8,1040.5 374.3,1040.5 374.9,1040.4 375.4,1040.7 375.9,1040.5 376.4,1040.7 376.9,1040.4 377.4,1040.6 378.0,1040.5 378.5,1040.5 379.0,1040.6 379.5,1040.9 380.0,1040.7 380.5,1040.9 381.1,1040.9 381.6,1040.6 382.1,1040.6 382.6,1041.2 383.1,1041.2 383.6,1040.5 384.2,1040.7 384.7,1040.8 385.2,1040.6 385.7,1040.8 386.2,1040.9 386.7,1041.2 387.3,1040.4 387.8,1040.9 388.3,1041.2 388.8,1041.2 389.3,1040.8 389.8,1040.5 390.4,1041.1 390.9,1040.7 391.4,1041.3 391.9,1041.3 392.4,1040.9 392.9,1040.8 393.5,1040.8 394.0,1041.2 394.5,1040.8 395.0,1040.8 395.5,1040.9 396.0,1041.0 396.6,1040.8 397.1,1040.8 397.6,1041.2 398.1,1040.9 398.6,1040.7 399.1,1040.8 399.7,1040.6 400.2,1041.2 400.7,1041.0 401.2,1041.4 401.7,1041.4 402.2,1041.1 402.8,1040.9 403.3,1040.8 403.8,1040.4 404.3,1040.4 404.8,1041.0 405.3,1040.8 405.9,1041.3 406.4,1041.2 406.9,1041.0 407.4,1040.9 407.9,1040.9 408.4,1041.1 409.0,1041.2 409.5,1041.0 410.0,1040.8 410.5,1041.2 411.0,1041.4 411.5,1041.2 412.1,1041.2 412.6,1041.6 413.1,1040.6 413.6,1041.4 414.1,1040.9 414.6,1041.4 415.2,1040.9 415.7,1041.2 416.2,1041.1 416.7,1040.8 417.2,1040.8 417.7,1041.2 418.3,1041.1 418.8,1041.3 419.3,1041.4 419.8,1041.2 420.3,1040.8 420.8,1041.0 421.4,1041.3 421.9,1040.9 422.4,1041.2 422.9,1041.0 423.4,1040.9 423.9,1041.2 424.5,1041.2 425.0,1041.2 425.5,1041.3 426.0,1041.0 426.5,1041.0 427.1,1040.9 427.6,1041.1 428.1,1041.5 428.6,1041.6 429.1,1040.8 429.6,1040.8 430.2,1041.0 430.7,1040.9 431.2,1041.1 431.7,1040.8 432.2,1041.0 432.7,1041.0 433.3,1040.9 433.8,1040.8 434.3,1040.6 434.8,1041.1 435.3,1040.7 435.8,1041.2 436.4,1040.8 436.9,1040.9 437.4,1041.2 437.9,1041.1 438.4,1041.4 438.9,1041.6 439.5,1041.5 440.0,1041.0 440.5,1040.8 441.0,1041.1 441.5,1040.9 442.0,1040.8 442.6,1041.1 443.1,1040.8 443.6,1041.3 444.1,1041.4 444.6,1041.1 445.1,1041.1 445.7,1041.1 446.2,1041.0 446.7,1040.7 447.2,1041.6 447.7,1041.1 448.2,1041.1 448.8,1041.3 449.3,1040.6 449.8,1040.9 450.3,1041.1 450.8,1041.2 451.3,1040.4 451.9,1041.3 452.4,1041.0 452.9,1041.1 453.4,1040.7 453.9,1041.6 454.4,1041.4 455.0,1040.9 455.5,1040.8 456.0,1040.5 456.5,1041.1 457.0,1041.3 457.5,1040.8 458.1,1041.4 458.6,1040.7 459.1,1041.1 459.6,1040.8 460.1,1041.3 460.6,1040.8 461.2,1041.0 461.7,1040.8 462.2,1041.2 462.7,1041.3 463.2,1041.3 463.7,1041.5 464.3,1040.9 464.8,1040.7 465.3,1040.7 465.8,1040.9 466.3,1041.2 466.8,1041.3 467.4,1041.1 467.9,1040.9 468.4,1040.9 468.9,1041.2 469.4,1041.1 469.9,1041.5 470.5,1041.1 471.0,1041.1 471.5,1041.0 472.0,1041.0 472.5,1041.0 473.0,1041.0 473.6,1040.5 474.1,1041.2 474.6,1041.3 475.1,1041.2 475.6,1041.2 476.1,1041.2 476.7,1041.0 477.2,1041.1 477.7,1041.0 478.2,1040.9 478.7,1040.9 479.3,1041.2 479.8,1041.1 480.3,1041.5 480.8,1041.3 481.3,1040.9 481.8,1041.2 482.4,1041.7 482.9,1041.2 483.4,1041.1 483.9,1041.3 484.4,1041.0 484.9,1041.0 485.5,1041.1 486.0,1041.1 486.5,1040.7 487.0,1041.2 487.5,1041.0 488.0,1041.0 488.6,1040.8 489.1,1040.9 489.6,1040.8 490.1,1040.7 490.6,1040.6 491.1,1040.7 491.7,1041.2 492.2,1040.9 492.7,1040.9 493.2,1041.3 493.7,1041.0 494.2,1041.3 494.8,1041.4 495.3,1041.1 495.8,1040.8 496.3,1041.0 496.8,1041.1 497.3,1040.7 497.9,1041.8 498.4,1041.0 498.9,1041.3 499.4,1041.6 499.9,1041.4 500.4,1041.7 501.0,1041.6 501.5,1041.7 502.0,1041.1 502.5,1041.2 503.0,1040.5 503.5,1041.2 504.1,1040.9 504.6,1041.2 505.1,1040.5 505.6,1040.9 506.1,1040.8 506.6,1040.8 507.2,1041.4 507.7,1041.3 508.2,1041.3 508.7,1041.1 509.2,1040.7 509.7,1039.8 510.3,1039.1 510.8,1039.0 511.3,1038.6 511.8,1038.7 512.3,1039.2 512.8,1039.2 513.4,1039.6 513.9,1040.8 514.4,1041.1 514.9,1040.8 515.4,1040.9 515.9,1040.8 516.5,1041.1 517.0,1040.5 517.5,1040.8 518.0,1040.9 518.5,1040.8 519.0,1041.4 519.6,1040.9 520.1,1041.1 520.6,1041.2 521.1,1041.0 521.6,1040.6 522.1,1040.6 522.7,1041.3 523.2,1040.5 523.7,1041.3 524.2,1040.9 524.7,1041.6 525.2,1041.2 525.8,1041.4 526.3,1040.9 526.8,1041.1 527.3,1042.2 527.8,1041.8 528.3,1041.3 528.9,1041.2 529.4,1041.0 529.9,1040.6 530.4,1041.3 530.9,1041.4 531.5,1041.5 532.0,1041.3 532.5,1041.4 533.0,1041.5 533.5,1041.4 534.0,1041.4 534.6,1041.1 535.1,1041.6 535.6,1041.2 536.1,1041.3 536.6,1041.2 537.1,1041.0 537.7,1041.0 538.2,1041.0 538.7,1040.7 539.2,1040.7 539.7,1041.2 540.2,1041.0 540.8,1041.0 541.3,1041.3 541.8,1041.0 542.3,1041.3 542.8,1041.4 543.3,1041.2 543.9,1041.4 544.4,1041.5 544.9,1042.2 545.4,1041.5 545.9,1041.4 546.4,1041.2 547.0,1041.6 547.5,1041.1 548.0,1041.3 548.5,1041.1 549.0,1041.7 549.5,1041.5 550.1,1041.6 550.6,1041.9 551.1,1041.4 551.6,1041.0 552.1,1041.3 552.6,1041.3 553.2,1041.6 553.7,1041.4 554.2,1041.1 554.7,1041.4 555.2,1041.3 555.7,1041.4 556.3,1040.8 556.8,1041.0 557.3,1041.0 557.8,1041.5 558.3,1041.6 558.8,1041.4 559.4,1041.2 559.9,1041.7 560.4,1041.6 560.9,1041.1 561.4,1041.3 561.9,1041.5 562.5,1041.2 563.0,1041.0 563.5,1041.0 564.0,1041.4 564.5,1041.4 565.0,1041.1 565.6,1040.8 566.1,1041.3 566.6,1041.4 567.1,1040.9 567.6,1041.0 568.1,1041.2 568.7,1041.1 569.2,1041.4 569.7,1040.9 570.2,1040.8 570.7,1041.0 571.2,1041.4 571.8,1040.8 572.3,1041.1 572.8,1041.1 573.3,1041.0 573.8,1041.6 574.3,1041.5 574.9,1041.3 575.4,1041.4 575.9,1040.9 576.4,1041.1 576.9,1041.5 577.4,1041.1 578.0,1041.0 578.5,1040.9 579.0,1040.7 579.5,1041.0 580.0,1041.3 580.5,1041.2 581.1,1041.6 581.6,1041.1 582.1,1041.2 582.6,1040.8 583.1,1041.5 583.7,1041.3 584.2,1041.0 584.7,1040.8 585.2,1040.8 585.7,1040.1 586.2,1040.4 586.8,1039.9 587.3,1039.9 587.8,1040.1 588.3,1040.5 588.8,1040.1 589.3,1040.8 589.9,1040.2 590.4,1040.9 590.9,1040.9 591.4,1041.3 591.9,1040.7 592.4,1041.2 593.0,1040.7 593.5,1041.1 594.0,1041.0 594.5,1040.8 595.0,1041.3 595.5,1041.2 596.1,1041.5 596.6,1041.0 597.1,1041.3 597.6,1041.3 598.1,1041.3 598.6,1041.2 599.2,1041.1 599.7,1041.0 600.2,1040.9 600.7,1041.0 601.2,1041.4 601.7,1041.4 602.3,1041.2 602.8,1041.3 603.3,1040.8 603.8,1041.6 604.3,1041.3 604.8,1041.5 605.4,1041.2 605.9,1041.0 606.4,1041.2 606.9,1041.1 607.4,1041.2 607.9,1040.7 608.5,1041.1 609.0,1041.0 609.5,1041.7 610.0,1040.8 610.5,1041.0 611.0,1041.1 611.6,1040.9 612.1,1040.9 612.6,1040.6 613.1,1041.0 613.6,1041.3 614.1,1041.6 614.7,1041.5 615.2,1041.4 615.7,1041.0 616.2,1041.0 616.7,1040.7 617.2,1040.9 617.8,1041.1 618.3,1041.8 618.8,1041.6 619.3,1041.6 619.8,1041.4 620.3,1041.4 620.9,1041.0 621.4,1041.2 621.9,1041.1 622.4,1040.9 622.9,1041.0 623.4,1041.0 624.0,1041.2 624.5,1041.1 625.0,1040.9 625.5,1041.0 626.0,1041.2 626.5,1040.9 627.1,1040.9 627.6,1040.6 628.1,1041.3 628.6,1041.3 629.1,1040.9 629.6,1041.4 630.2,1041.7 630.7,1041.5 631.2,1040.8 631.7,1040.9 632.2,1041.6 632.7,1041.1 633.3,1041.5 633.8,1041.3 634.3,1041.2 634.8,1041.3 635.3,1041.1 635.9,1041.5 636.4,1041.5 636.9,1041.1 637.4,1041.1 637.9,1041.3 638.4,1041.3 639.0,1041.9 639.5,1041.4 640.0,1041.7 640.5,1041.4 641.0,1041.4 641.5,1041.4 642.1,1041.3 642.6,1041.8 643.1,1041.3 643.6,1041.4 644.1,1041.5 644.6,1041.7 645.2,1041.4 645.7,1041.7 646.2,1041.8 646.7,1041.5 647.2,1041.6 647.7,1041.3 648.3,1041.2 648.8,1041.3 649.3,1041.1 649.8,1040.8 650.3,1041.0 650.8,1041.1 651.4,1041.8 651.9,1040.9 652.4,1041.4 652.9,1041.4 653.4,1041.2 653.9,1041.7 654.5,1041.5 655.0,1041.3 655.5,1041.3 656.0,1041.4 656.5,1041.6 657.0,1041.3 657.6,1041.6 658.1,1041.7 658.6,1041.5 659.1,1041.6 659.6,1041.7 660.1,1041.4 660.7,1041.7 661.2,1041.9 661.7,1041.7 662.2,1041.5 662.7,1041.5 663.2,1041.7 663.8,1041.2 664.3,1041.3 664.8,1041.6 665.3,1041.4 665.8,1041.6 666.3,1042.1 666.9,1041.5 667.4,1041.4 667.9,1041.5 668.4,1041.6 668.9,1041.3 669.4,1041.4 670.0,1041.3 670.5,1040.9 671.0,1041.2 671.5,1041.9" fill="none" stroke="#d3a52a" stroke-width="1.75" stroke-linejoin="round"/>
<path d="M51.7,1102.8 52.2,1103.3 52.7,1102.8 53.3,1103.5 53.8,1103.9 54.3,1104.3 54.8,1103.8 55.3,1103.9 55.8,1104.3 56.4,1104.3 56.9,1104.4 57.4,1104.9 57.9,1104.7 58.4,1104.9 58.9,1105.0 59.5,1105.3 60.0,1105.6 60.5,1105.5 61.0,1105.8 61.5,1105.7 62.0,1105.9 62.6,1105.8 63.1,1106.3 63.6,1106.0 64.1,1106.1 64.6,1106.3 65.1,1105.9 65.7,1106.1 66.2,1105.9 66.7,1106.3 67.2,1106.0 67.7,1106.3 68.2,1106.5 68.8,1106.8 69.3,1107.0 69.8,1105.9 70.3,1106.7 70.8,1106.4 71.3,1106.8 71.9,1106.7 72.4,1106.7 72.9,1106.4 73.4,1106.5 73.9,1106.9 74.4,1106.7 75.0,1107.0 75.5,1106.9 76.0,1107.0 76.5,1106.5 77.0,1107.0 77.5,1107.0 78.1,1106.6 78.6,1106.7 79.1,1106.5 79.6,1106.6 80.1,1106.6 80.6,1106.9 81.2,1106.8 81.7,1106.9 82.2,1106.6 82.7,1106.4 83.2,1106.8 83.7,1106.3 84.3,1106.5 84.8,1106.9 85.3,1106.4 85.8,1106.5 86.3,1106.4 86.8,1106.7 87.4,1106.9 87.9,1106.5 88.4,1106.4 88.9,1106.7 89.4,1106.8 89.9,1107.0 90.5,1106.5 91.0,1107.0 91.5,1106.3 92.0,1107.2 92.5,1106.4 93.0,1106.9 93.6,1107.3 94.1,1106.8 94.6,1106.3 95.1,1106.8 95.6,1106.8 96.1,1107.0 96.7,1107.1 97.2,1106.8 97.7,1107.1 98.2,1107.2 98.7,1107.1 99.2,1107.1 99.8,1106.8 100.3,1106.6 100.8,1106.5 101.3,1106.8 101.8,1106.9 102.3,1106.5 102.9,1106.6 103.4,1106.7 103.9,1107.0 104.4,1107.2 104.9,1106.9 105.5,1106.7 106.0,1107.0 106.5,1106.7 107.0,1106.7 107.5,1106.7 108.0,1106.8 108.6,1106.7 109.1,1106.6 109.6,1106.2 110.1,1106.7 110.6,1106.9 111.1,1107.1 111.7,1107.3 112.2,1106.9 112.7,1107.0 113.2,1106.8 113.7,1106.7 114.2,1106.8 114.8,1106.8 115.3,1106.9 115.8,1107.0 116.3,1106.6 116.8,1106.9 117.3,1106.5 117.9,1106.6 118.4,1106.4 118.9,1106.8 119.4,1107.1 119.9,1106.8 120.4,1106.9 121.0,1106.6 121.5,1107.0 122.0,1106.8 122.5,1106.4 123.0,1105.6 123.5,1104.3 124.1,1102.7 124.6,1101.3 125.1,1101.6 125.6,1102.7 126.1,1104.2 126.6,1105.4 127.2,1106.0 127.7,1106.8 128.2,1106.9 128.7,1106.9 129.2,1107.3 129.7,1107.4 130.3,1107.2 130.8,1106.9 131.3,1107.2 131.8,1106.7 132.3,1106.9 132.8,1106.6 133.4,1106.8 133.9,1106.3 134.4,1106.8 134.9,1106.6 135.4,1106.6 135.9,1107.0 136.5,1106.6 137.0,1107.2 137.5,1107.0 138.0,1106.9 138.5,1107.1 139.0,1106.6 139.6,1106.5 140.1,1106.7 140.6,1106.9 141.1,1106.9 141.6,1106.8 142.1,1106.9 142.7,1107.1 143.2,1107.1 143.7,1107.0 144.2,1106.8 144.7,1107.2 145.2,1107.2 145.8,1106.8 146.3,1106.8 146.8,1106.8 147.3,1107.2 147.8,1106.9 148.3,1107.0 148.9,1107.6 149.4,1106.9 149.9,1107.2 150.4,1106.9 150.9,1106.9 151.4,1106.9 152.0,1106.7 152.5,1107.2 153.0,1106.7 153.5,1107.1 154.0,1106.7 154.5,1106.7 155.1,1107.0 155.6,1106.6 156.1,1106.4 156.6,1106.6 157.1,1106.3 157.7,1106.9 158.2,1106.9 158.7,1105.9 159.2,1106.5 159.7,1106.4 160.2,1107.0 160.8,1106.5 161.3,1106.5 161.8,1106.3 162.3,1106.2 162.8,1106.8 163.3,1106.3 163.9,1106.4 164.4,1106.0 164.9,1106.9 165.4,1106.4 165.9,1106.1 166.4,1105.8 167.0,1105.7 167.5,1106.1 168.0,1106.0 168.5,1105.6 169.0,1105.6 169.5,1105.6 170.1,1105.4 170.6,1104.7 171.1,1105.5 171.6,1105.3 172.1,1105.7 172.6,1105.6 173.2,1104.9 173.7,1104.9 174.2,1104.6 174.7,1105.0 175.2,1104.5 175.7,1104.4 176.3,1104.5 176.8,1104.4 177.3,1104.6 177.8,1104.5 178.3,1103.9 178.8,1104.4 179.4,1103.8 179.9,1104.0 180.0,1103.8 180.1,1103.3 180.3,1103.7 180.4,1103.4 180.5,1103.8 180.6,1103.7 180.8,1103.1 180.9,1103.3 181.0,1102.6 181.2,1102.5 181.3,1102.7 181.4,1102.2 181.6,1101.5 181.7,1101.0 181.8,1100.4 181.9,1099.6 182.1,1099.6 182.2,1099.4 182.3,1098.5 182.5,1097.7 182.6,1097.1 182.7,1096.9 182.8,1096.5 183.0,1096.7 183.1,1096.5 183.2,1097.0 183.4,1096.9 183.5,1097.7 183.6,1098.1 183.8,1098.8 183.9,1099.5 184.0,1100.2 184.1,1100.5 184.3,1101.4 184.4,1101.1 184.5,1101.4 184.7,1102.0 184.8,1102.5 184.9,1102.5 185.0,1102.5 185.2,1102.4 185.3,1102.6 185.4,1102.2 185.6,1102.5 185.7,1102.6 185.8,1102.8 185.9,1102.9 186.1,1102.8 186.6,1103.4 187.1,1103.1 187.6,1103.1 188.1,1102.8 188.7,1103.0 189.2,1103.3 189.7,1103.0 190.2,1103.2 190.7,1102.4 191.2,1102.6 191.8,1103.1 192.3,1103.3 192.8,1102.9 193.3,1103.3 193.8,1103.8 194.3,1103.6 194.9,1103.1 195.4,1103.5 195.9,1104.0 196.4,1103.6 196.9,1103.9 197.4,1103.4 198.0,1103.8 198.5,1103.9 199.0,1104.0 199.5,1103.9 200.0,1103.9 200.5,1104.5 201.1,1104.0 201.6,1103.8 202.1,1103.9 202.6,1104.3 203.1,1103.8 203.6,1104.1 204.2,1104.5 204.7,1104.7 205.2,1104.7 205.7,1104.8 206.2,1104.7 206.8,1105.1 207.3,1104.9 207.8,1105.0 208.3,1104.9 208.8,1105.4 209.3,1105.4 209.9,1105.4 210.4,1105.9 210.9,1106.0 211.4,1106.2 211.9,1105.7 212.4,1105.8 213.0,1105.9 213.5,1106.1 214.0,1106.0 214.5,1106.1 215.0,1105.9 215.5,1106.1 216.1,1105.8 216.6,1106.2 217.1,1106.1 217.6,1106.0 218.1,1106.5 218.6,1106.2 219.2,1106.5 219.7,1106.3 220.2,1106.2 220.7,1106.3 221.2,1106.0 221.7,1106.7 222.3,1106.8 222.8,1106.6 223.3,1106.8 223.8,1107.2 224.3,1106.6 224.8,1106.8 225.4,1107.1 225.9,1107.1 226.4,1107.2 226.9,1106.8 227.4,1106.9 227.9,1107.0 228.5,1106.8 229.0,1107.0 229.5,1106.4 230.0,1106.4 230.5,1106.9 231.0,1106.9 231.6,1107.1 232.1,1106.9 232.6,1107.1 233.1,1107.5 233.6,1107.0 234.1,1106.9 234.7,1106.9 235.2,1107.1 235.7,1106.6 236.2,1106.2 236.7,1106.5 237.2,1105.9 237.8,1105.7 238.3,1106.0 238.8,1106.1 239.3,1106.3 239.8,1106.8 240.3,1106.4 240.9,1106.9 241.4,1106.9 241.9,1106.8 242.4,1107.2 242.9,1106.9 243.4,1106.7 244.0,1107.0 244.5,1107.0 245.0,1107.1 245.5,1106.7 246.0,1106.7 246.5,1106.7 247.1,1106.9 247.6,1106.8 248.1,1106.9 248.6,1106.9 249.1,1107.0 249.6,1106.8 250.2,1106.7 250.7,1106.4 251.2,1106.0 251.7,1106.1 251.8,1106.0 252.0,1105.4 252.1,1105.0 252.2,1104.4 252.4,1104.1 252.5,1103.5 252.6,1102.1 252.7,1100.6 252.9,1098.4 253.0,1096.2 253.1,1093.2 253.3,1090.0 253.4,1085.9 253.5,1081.1 253.7,1075.9 253.8,1070.4 253.9,1065.1 254.0,1059.2 254.2,1054.4 254.3,1049.7 254.4,1046.1 254.6,1043.7 254.7,1042.7 254.8,1043.3 254.9,1045.2 255.1,1048.5 255.2,1052.8 255.3,1057.5 255.5,1063.0 255.6,1067.9 255.7,1073.8 255.8,1078.8 256.0,1084.0 256.1,1088.5 256.2,1091.5 256.4,1095.1 256.5,1097.7 256.6,1099.4 256.8,1101.3 256.9,1102.5 257.0,1103.7 257.1,1104.2 257.3,1104.9 257.4,1105.7 257.5,1106.0 257.7,1106.0 257.8,1106.1 257.9,1106.5 258.4,1106.7 259.0,1106.9 259.5,1106.8 260.0,1106.9 260.5,1106.6 261.0,1106.7 261.5,1107.1 262.1,1107.0 262.6,1107.5 263.1,1107.3 263.6,1107.0 264.1,1107.4 264.6,1107.1 265.2,1107.3 265.7,1107.1 266.2,1107.2 266.7,1107.3 267.2,1107.0 267.7,1106.7 268.3,1106.7 268.8,1106.9 269.3,1107.2 269.8,1107.4 270.3,1107.0 270.8,1107.5 271.4,1107.4 271.9,1107.3 272.4,1107.1 272.9,1106.8 273.4,1106.6 273.9,1106.8 274.5,1106.9 275.0,1106.9 275.5,1107.3 276.0,1107.3 276.5,1106.9 277.0,1106.8 277.6,1107.6 278.1,1107.1 278.6,1107.5 279.1,1107.6 279.6,1107.4 280.1,1107.7 280.7,1107.5 281.2,1107.0 281.7,1107.4 282.2,1107.5 282.7,1107.1 283.2,1107.1 283.8,1107.5 284.3,1107.2 284.8,1107.5 285.3,1107.4 285.8,1107.5 286.3,1107.0 286.9,1107.6 287.4,1107.3 287.9,1107.1 288.4,1107.1 288.9,1107.3 289.4,1106.9 290.0,1106.4 290.5,1106.8 291.0,1106.9 291.5,1107.2 292.0,1106.9 292.5,1107.2 293.1,1107.1 293.6,1107.0 294.1,1107.3 294.6,1106.9 295.1,1107.1 295.6,1106.6 296.2,1107.0 296.7,1107.1 297.2,1106.8 297.7,1106.6 298.2,1107.0 298.7,1107.1 299.3,1107.7 299.8,1107.4 300.3,1107.2 300.8,1106.9 301.3,1107.7 301.8,1107.3 302.4,1107.4 302.9,1106.7 303.4,1107.2 303.9,1107.1 304.4,1107.4 304.9,1107.6 305.5,1107.3 306.0,1107.3 306.5,1107.7 307.0,1107.4 307.5,1107.3 308.0,1107.3 308.6,1107.1 309.1,1107.2 309.6,1107.0 310.1,1107.4 310.6,1107.2 311.2,1107.3 311.7,1107.0 312.2,1107.1 312.7,1107.7 313.2,1107.4 313.7,1106.7 314.3,1107.4 314.8,1106.9 315.3,1107.1 315.8,1106.8 316.3,1106.8 316.8,1107.1 317.4,1107.1 317.9,1107.1 318.4,1107.1 318.9,1107.4 319.4,1107.8 319.9,1107.0 320.5,1107.1 321.0,1107.6 321.5,1107.4 322.0,1107.0 322.5,1106.9 323.0,1107.1 323.6,1107.1 324.1,1108.0 324.6,1107.7 325.1,1106.8 325.6,1107.2 326.1,1106.9 326.7,1106.7 327.2,1106.2 327.7,1105.8 328.2,1105.9 328.7,1106.4 329.2,1106.7 329.8,1107.2 330.3,1106.9 330.8,1106.7 331.3,1107.5 331.8,1107.2 332.3,1107.6 332.9,1107.2 333.4,1107.9 333.9,1107.5 334.4,1107.5 334.9,1107.6 335.4,1107.1 336.0,1107.0 336.5,1106.8 337.0,1107.4 337.5,1107.5 338.0,1107.5 338.5,1107.7 339.1,1107.3 339.6,1107.2 340.1,1107.5 340.6,1107.0 341.1,1107.2 341.6,1107.4 342.2,1107.1 342.7,1106.9 343.2,1107.3 343.7,1106.6 344.2,1106.2 344.7,1105.4 345.3,1105.1 345.8,1104.5 346.3,1103.3 346.8,1102.2 347.3,1101.9 347.8,1102.0 348.4,1102.8 348.9,1103.8 349.4,1105.0 349.9,1105.8 350.4,1106.2 350.9,1106.6 351.5,1107.3 352.0,1107.2 352.5,1107.3 353.0,1106.7 353.5,1107.3 354.0,1106.6 354.6,1107.1 355.1,1107.7 355.6,1107.6 356.1,1107.2 356.6,1107.5 357.1,1107.3 357.7,1107.2 358.2,1107.5 358.7,1107.5 359.2,1107.0 359.7,1106.9 360.2,1107.1 360.8,1107.3 361.3,1107.2 361.8,1107.6 362.3,1107.6 362.8,1107.2 363.4,1107.6 363.9,1107.6 364.4,1107.7 364.9,1107.3 365.4,1107.5 365.9,1107.7 366.5,1107.4 367.0,1107.3 367.5,1107.1 368.0,1107.9 368.5,1107.7 369.0,1107.0 369.6,1107.3 370.1,1107.3 370.6,1107.4 371.1,1106.9 371.6,1107.0 372.1,1107.0 372.7,1107.2 373.2,1106.9 373.7,1107.4 374.2,1107.1 374.7,1107.3 375.2,1107.9 375.8,1107.4 376.3,1107.4 376.8,1107.4 377.3,1107.3 377.8,1108.1 378.3,1107.6 378.9,1107.5 379.4,1107.7 379.9,1107.1 380.4,1107.7 380.9,1107.2 381.4,1107.4 382.0,1107.7 382.5,1107.9 383.0,1107.4 383.5,1107.7 384.0,1106.9 384.5,1107.7 385.1,1107.2 385.6,1107.3 386.1,1107.5 386.6,1107.5 387.1,1107.5 387.6,1107.9 388.2,1107.8 388.7,1107.6 389.2,1107.8 389.7,1107.9 390.2,1107.1 390.7,1107.4 391.3,1107.7 391.8,1107.4 392.3,1107.1 392.8,1107.8 393.3,1107.0 393.8,1107.6 394.4,1107.5 394.9,1107.3 395.4,1107.4 395.9,1107.5 396.4,1107.8 396.9,1107.2 397.5,1107.6 398.0,1107.3 398.5,1107.5 399.0,1107.2 399.5,1107.4 400.0,1107.7 400.6,1107.2 401.1,1107.2 401.6,1107.2 402.1,1108.0 402.6,1107.2 403.1,1107.3 403.7,1107.1 404.2,1107.0 404.7,1107.4 405.2,1107.2 405.7,1107.2 406.2,1107.5 406.8,1107.2 407.3,1107.4 407.8,1107.6 408.3,1107.9 408.8,1107.5 409.3,1107.0 409.9,1107.4 410.4,1107.7 410.9,1107.2 411.4,1106.9 411.9,1107.6 412.4,1107.8 413.0,1107.8 413.5,1107.7 414.0,1107.4 414.5,1107.2 415.0,1107.7 415.6,1107.4 416.1,1107.6 416.6,1107.1 417.1,1107.5 417.6,1107.5 418.1,1107.6 418.7,1107.6 419.2,1107.7 419.7,1108.0 420.2,1107.7 420.7,1107.5 421.2,1107.1 421.8,1107.2 422.3,1107.2 422.8,1107.4 423.3,1107.6 423.8,1107.3 424.3,1106.9 424.9,1107.1 425.4,1107.2 425.9,1107.4 426.4,1107.3 426.9,1107.6 427.4,1107.3 428.0,1108.1 428.5,1107.3 429.0,1107.7 429.5,1107.6 430.0,1107.1 430.5,1107.3 431.1,1107.2 431.6,1107.8 432.1,1107.7 432.6,1107.6 433.1,1107.4 433.6,1107.2 434.2,1107.4 434.7,1107.7 435.2,1107.6 435.7,1107.0 436.2,1107.3 436.7,1107.4 437.3,1107.4 437.8,1107.4 438.3,1107.3 438.8,1107.5 439.3,1107.4 439.8,1106.9 440.4,1107.3 440.9,1107.8 441.4,1107.6 441.9,1107.5 442.4,1107.1 442.9,1107.2 443.5,1107.7 444.0,1107.4 444.5,1107.3 445.0,1107.5 445.5,1107.5 446.0,1107.5 446.6,1106.8 447.1,1107.1 447.6,1107.4 448.1,1107.3 448.6,1107.3 449.1,1107.1 449.7,1107.4 450.2,1107.3 450.7,1107.1 451.2,1107.3 451.7,1106.8 452.2,1107.2 452.8,1107.6 453.3,1107.8 453.8,1107.3 454.3,1107.3 454.8,1107.5 455.3,1107.3 455.9,1107.2 456.4,1107.4 456.9,1107.1 457.4,1107.6 457.9,1107.6 458.4,1107.2 459.0,1107.6 459.5,1107.6 460.0,1107.7 460.5,1107.6 461.0,1107.8 461.5,1108.2 462.1,1107.8 462.6,1107.3 463.1,1107.4 463.6,1107.2 464.1,1107.1 464.6,1107.6 465.2,1107.5 465.7,1107.6 466.2,1107.5 466.7,1107.6 467.2,1107.8 467.8,1107.8 468.3,1107.8 468.8,1108.1 469.3,1107.6 469.8,1108.0 470.3,1107.4 470.9,1107.5 471.4,1108.0 471.9,1107.9 472.4,1108.2 472.9,1107.6 473.4,1107.5 474.0,1107.8 474.5,1106.7 475.0,1107.5 475.5,1107.4 476.0,1107.6 476.5,1108.0 477.1,1107.7 477.6,1107.9 478.1,1108.0 478.6,1107.0 479.1,1107.1 479.6,1107.1 480.2,1107.3 480.7,1107.4 481.2,1107.4 481.7,1107.4 482.2,1107.2 482.7,1107.3 483.3,1107.7 483.8,1107.9 484.3,1107.7 484.8,1107.7 485.3,1108.4 485.8,1107.0 486.4,1107.1 486.9,1107.4 487.4,1106.9 487.9,1107.2 488.4,1107.8 488.9,1107.7 489.5,1107.6 490.0,1107.7 490.5,1107.4 491.0,1107.7 491.5,1107.2 492.0,1107.1 492.6,1107.4 493.1,1107.1 493.6,1107.2 494.1,1107.1 494.6,1107.3 495.1,1107.6 495.7,1107.2 496.2,1107.6 496.7,1107.3 497.2,1107.8 497.7,1107.4 498.2,1107.4 498.8,1107.7 499.3,1107.5 499.8,1107.6 500.3,1107.2 500.8,1107.1 501.3,1107.6 501.9,1107.3 502.4,1107.2 502.9,1107.4 503.4,1107.5 503.9,1107.3 504.4,1107.4 505.0,1107.0 505.5,1107.2 506.0,1107.0 506.5,1106.7 507.0,1107.5 507.5,1107.1 508.1,1107.6 508.6,1107.4 509.1,1107.1 509.6,1106.7 510.1,1106.4 510.6,1106.2 511.2,1106.4 511.7,1105.9 512.2,1106.2 512.7,1106.3 513.2,1107.1 513.7,1107.1 514.3,1107.2 514.8,1107.3 515.3,1108.1 515.8,1108.3 516.3,1107.9 516.8,1107.6 517.4,1108.0 517.9,1107.7 518.4,1107.5 518.9,1107.7 519.4,1107.2 520.0,1107.9 520.5,1106.9 521.0,1107.8 521.5,1107.8 522.0,1107.2 522.5,1107.9 523.1,1108.1 523.6,1108.0 524.1,1108.0 524.6,1107.9 525.1,1108.0 525.6,1107.8 526.2,1107.3 526.7,1107.4 527.2,1107.4 527.7,1107.5 528.2,1107.2 528.7,1107.1 529.3,1107.1 529.8,1107.0 530.3,1107.4 530.8,1107.3 531.3,1107.4 531.8,1107.5 532.4,1107.9 532.9,1108.0 533.4,1107.9 533.9,1107.4 534.4,1108.5 534.9,1107.9 535.5,1107.8 536.0,1108.1 536.5,1107.9 537.0,1107.8 537.5,1107.9 538.0,1107.8 538.6,1108.1 539.1,1107.7 539.6,1107.6 540.1,1107.4 540.6,1107.8 541.1,1107.5 541.7,1107.7 542.2,1107.5 542.7,1107.0 543.2,1107.6 543.7,1107.2 544.2,1107.1 544.8,1107.1 545.3,1107.4 545.8,1107.6 546.3,1107.3 546.8,1107.6 547.3,1107.4 547.9,1107.4 548.4,1107.4 548.9,1107.1 549.4,1107.6 549.9,1107.9 550.4,1107.8 551.0,1107.8 551.5,1107.5 552.0,1107.4 552.5,1107.4 553.0,1107.6 553.5,1107.7 554.1,1107.3 554.6,1107.7 555.1,1108.1 555.6,1107.9 556.1,1107.6 556.6,1107.5 557.2,1107.5 557.7,1107.1 558.2,1108.0 558.7,1107.6 559.2,1107.8 559.7,1107.9 560.3,1107.9 560.8,1107.6 561.3,1107.3 561.8,1107.7 562.3,1107.5 562.8,1107.3 563.4,1107.3 563.9,1107.7 564.4,1107.3 564.9,1107.4 565.4,1108.0 565.9,1107.8 566.5,1107.8 567.0,1107.8 567.5,1107.6 568.0,1107.7 568.5,1107.6 569.1,1107.6 569.6,1107.6 570.1,1107.6 570.6,1107.8 571.1,1107.4 571.6,1107.7 572.2,1107.5 572.7,1107.7 573.2,1107.6 573.7,1107.4 574.2,1107.1 574.7,1107.5 575.3,1107.4 575.8,1108.0 576.3,1107.8 576.8,1107.5 577.3,1107.7 577.8,1106.9 578.4,1107.2 578.9,1107.5 579.4,1107.4 579.9,1107.2 580.4,1107.5 580.9,1106.9 581.5,1107.6 582.0,1107.0 582.5,1107.6 583.0,1108.0 583.5,1107.1 584.0,1107.2 584.6,1107.2 585.1,1107.1 585.6,1107.4 586.1,1106.8 586.6,1106.4 587.1,1106.9 587.7,1107.1 588.2,1107.0 588.7,1107.3 589.2,1107.6 589.7,1107.6 590.2,1107.3 590.8,1107.8 591.3,1107.8 591.8,1108.2 592.3,1107.2 592.8,1107.7 593.3,1107.4 593.9,1107.3 594.4,1107.5 594.9,1107.4 595.4,1107.0 595.9,1107.6 596.4,1107.3 597.0,1107.6 597.5,1107.5 598.0,1107.6 598.5,1107.2 599.0,1107.8 599.5,1107.7 600.1,1107.9 600.6,1107.8 601.1,1106.9 601.6,1107.6 602.1,1107.4 602.6,1108.1 603.2,1107.6 603.7,1107.7 604.2,1107.6 604.7,1107.6 605.2,1108.1 605.7,1107.7 606.3,1108.3 606.8,1107.9 607.3,1108.0 607.8,1108.0 608.3,1107.4 608.8,1107.6 609.4,1107.7 609.9,1107.7 610.4,1107.8 610.9,1108.0 611.4,1107.6 611.9,1108.0 612.5,1107.9 613.0,1107.7 613.5,1107.6 614.0,1107.4 614.5,1107.7 615.0,1107.8 615.6,1107.5 616.1,1107.4 616.6,1107.4 617.1,1107.4 617.6,1107.8 618.1,1107.9 618.7,1107.5 619.2,1107.6 619.7,1107.9 620.2,1107.4 620.7,1107.9 621.3,1108.0 621.8,1107.9 622.3,1108.1 622.8,1107.8 623.3,1107.9 623.8,1107.6 624.4,1107.7 624.9,1107.5 625.4,1107.7 625.9,1107.5 626.4,1107.8 626.9,1107.9 627.5,1107.5 628.0,1107.9 628.5,1107.8 629.0,1107.8 629.5,1107.9 630.0,1107.9 630.6,1107.5 631.1,1108.1 631.6,1107.6 632.1,1107.4 632.6,1107.8 633.1,1108.1 633.7,1107.8 634.2,1107.8 634.7,1107.5 635.2,1107.4 635.7,1108.0 636.2,1108.1 636.8,1108.0 637.3,1108.1 637.8,1107.7 638.3,1107.8 638.8,1107.5 639.3,1107.1 639.9,1107.5 640.4,1108.2 640.9,1107.5 641.4,1107.5 641.9,1107.6 642.4,1107.6 643.0,1107.9 643.5,1107.6 644.0,1107.7 644.5,1107.6 645.0,1107.9 645.5,1108.0 646.1,1107.5 646.6,1108.0 647.1,1107.7 647.6,1107.7 648.1,1107.7 648.6,1107.8 649.2,1107.6 649.7,1107.9 650.2,1107.7 650.7,1107.8 651.2,1107.6 651.7,1107.7 652.3,1108.2 652.8,1108.4 653.3,1108.2 653.8,1107.6 654.3,1107.9 654.8,1107.7 655.4,1107.6 655.9,1107.5 656.4,1107.6 656.9,1107.5 657.4,1107.3 657.9,1107.9 658.5,1108.2 659.0,1107.5 659.5,1107.4 660.0,1107.3 660.5,1107.4 661.0,1107.4 661.6,1107.4 662.1,1107.9 662.6,1107.8 663.1,1107.9 663.6,1107.8 664.1,1108.2 664.7,1108.3 665.2,1108.2 665.7,1107.8 666.2,1107.9 666.7,1108.0 667.2,1107.7 667.8,1108.2 668.3,1107.9 668.8,1108.3 669.3,1108.3 669.8,1108.1 670.3,1107.7 670.9,1108.1 671.4,1108.5 671.9,1108.4" fill="none" stroke="#bb80e0" stroke-width="1.75" stroke-linejoin="round"/>
<path d="M51.7,1173.9 52.2,1173.5 52.7,1173.3 53.3,1173.4 53.8,1173.3 54.3,1173.6 54.8,1173.5 55.3,1173.0 55.8,1173.3 56.4,1173.3 56.9,1173.2 57.4,1173.6 57.9,1173.6 58.4,1173.8 58.9,1173.7 59.5,1173.4 60.0,1173.6 60.5,1173.5 61.0,1173.5 61.5,1173.7 62.0,1173.7 62.6,1173.7 63.1,1174.0 63.6,1173.8 64.1,1173.9 64.6,1173.5 65.1,1173.7 65.7,1173.6 66.2,1173.3 66.7,1173.2 67.2,1173.7 67.7,1173.9 68.2,1173.6 68.8,1173.6 69.3,1173.6 69.8,1173.7 70.3,1174.0 70.8,1173.8 71.3,1173.5 71.9,1173.7 72.4,1173.9 72.9,1173.5 73.4,1173.4 73.9,1174.1 74.4,1173.9 75.0,1173.8 75.5,1174.0 76.0,1173.6 76.5,1174.2 77.0,1173.6 77.5,1173.5 78.1,1173.6 78.6,1174.0 79.1,1173.7 79.6,1173.6 80.1,1174.0 80.6,1174.0 81.2,1173.8 81.7,1174.0 82.2,1173.8 82.7,1173.6 83.2,1173.7 83.7,1173.9 84.3,1173.5 84.8,1173.5 85.3,1173.7 85.8,1173.3 86.3,1173.3 86.8,1172.9 87.4,1173.2 87.9,1173.1 88.4,1173.5 88.9,1173.6 89.4,1173.6 89.9,1174.1 90.5,1173.6 91.0,1173.8 91.5,1173.8 92.0,1173.8 92.5,1173.7 93.0,1173.8 93.6,1173.7 94.1,1174.0 94.6,1173.5 95.1,1173.5 95.6,1173.3 96.1,1173.5 96.7,1173.7 97.2,1173.7 97.7,1173.6 98.2,1173.5 98.7,1173.3 99.2,1173.5 99.8,1173.4 100.3,1173.5 100.8,1173.8 101.3,1173.7 101.8,1174.0 102.3,1173.7 102.9,1173.7 103.4,1173.7 103.9,1173.6 104.4,1173.9 104.9,1173.9 105.5,1174.3 106.0,1173.8 106.5,1173.9 107.0,1173.9 107.5,1173.6 108.0,1173.6 108.6,1173.3 109.1,1173.5 109.6,1173.4 110.1,1173.3 110.6,1173.0 111.1,1173.5 111.7,1173.7 112.2,1173.8 112.7,1174.2 113.2,1173.6 113.7,1173.8 114.2,1173.8 114.8,1173.5 115.3,1173.6 115.8,1173.9 116.3,1173.8 116.8,1173.4 117.3,1173.4 117.9,1173.7 118.4,1173.4 118.9,1173.9 119.4,1174.0 119.9,1173.6 120.4,1173.5 121.0,1173.4 121.5,1173.5 122.0,1173.1 122.5,1172.8 123.0,1172.7 123.5,1172.5 124.1,1172.5 124.6,1172.2 125.1,1172.4 125.6,1172.3 126.1,1172.8 126.6,1173.1 127.2,1173.7 127.7,1173.6 128.2,1173.6 128.7,1173.5 129.2,1173.9 129.7,1173.8 130.3,1173.5 130.8,1173.6 131.3,1173.7 131.8,1173.6 132.3,1173.7 132.8,1174.0 133.4,1173.5 133.9,1174.0 134.4,1174.1 134.9,1173.8 135.4,1174.0 135.9,1173.6 136.5,1173.4 137.0,1173.3 137.5,1173.3 138.0,1173.7 138.5,1173.5 139.0,1173.5 139.6,1174.0 140.1,1174.0 140.6,1174.0 141.1,1173.5 141.6,1173.8 142.1,1173.5 142.7,1173.7 143.2,1173.7 143.7,1174.0 144.2,1173.9 144.7,1173.9 145.2,1174.0 145.8,1173.6 146.3,1173.8 146.8,1173.7 147.3,1173.6 147.8,1173.6 148.3,1174.0 148.9,1173.8 149.4,1173.6 149.9,1173.5 150.4,1173.5 150.9,1173.7 151.4,1174.0 152.0,1173.7 152.5,1173.6 153.0,1173.4 153.5,1173.8 154.0,1174.0 154.5,1173.9 155.1,1173.9 155.6,1173.4 156.1,1173.9 156.6,1173.6 157.1,1173.7 157.7,1173.7 158.2,1173.6 158.7,1173.4 159.2,1173.5 159.7,1173.7 160.2,1173.7 160.8,1174.1 161.3,1173.6 161.8,1173.7 162.3,1173.6 162.8,1173.8 163.3,1173.7 163.9,1173.2 164.4,1173.8 164.9,1173.4 165.4,1173.2 165.9,1173.2 166.4,1173.1 167.0,1172.9 167.5,1172.4 168.0,1172.7 168.5,1172.8 169.0,1173.1 169.5,1172.8 170.1,1172.7 170.6,1173.1 171.1,1173.0 171.6,1172.9 172.1,1172.7 172.6,1172.5 173.2,1172.6 173.7,1172.5 174.2,1172.5 174.7,1172.6 175.2,1172.7 175.7,1172.3 176.3,1172.1 176.8,1172.1 177.3,1172.0 177.8,1172.2 178.3,1172.6 178.8,1172.1 179.4,1172.4 179.9,1172.2 180.4,1171.9 180.9,1172.0 181.4,1172.0 181.9,1172.3 182.5,1171.6 183.0,1171.7 183.5,1172.0 184.0,1171.0 184.5,1171.4 185.0,1171.2 185.6,1171.3 186.1,1171.6 186.6,1171.5 187.1,1171.5 187.6,1170.8 188.1,1171.4 188.7,1171.5 189.2,1171.6 189.7,1171.3 190.2,1171.6 190.7,1171.8 191.2,1171.6 191.8,1171.8 192.3,1171.3 192.8,1171.4 193.3,1171.7 193.8,1171.7 194.3,1172.0 194.9,1171.6 195.4,1171.8 195.9,1171.9 196.4,1171.3 196.9,1171.6 197.4,1171.6 198.0,1172.2 198.5,1172.0 199.0,1172.2 199.5,1172.2 200.0,1172.3 200.5,1172.0 201.1,1172.0 201.6,1172.7 202.1,1172.4 202.6,1172.3 203.1,1172.3 203.6,1171.7 204.2,1172.4 204.7,1172.3 205.2,1172.8 205.7,1172.6 206.2,1172.6 206.8,1172.4 207.3,1172.4 207.8,1172.1 208.3,1172.4 208.8,1172.5 209.3,1172.3 209.9,1172.3 210.4,1172.3 210.9,1172.7 211.4,1173.1 211.9,1172.9 212.4,1173.3 213.0,1173.1 213.5,1173.3 214.0,1173.0 214.5,1173.0 215.0,1173.1 215.5,1173.0 216.1,1173.7 216.6,1173.4 217.1,1172.9 217.6,1173.0 218.1,1173.2 218.6,1173.4 219.2,1173.1 219.7,1173.4 220.2,1173.9 220.7,1173.9 221.2,1173.7 221.7,1173.7 222.3,1173.8 222.8,1173.5 223.3,1173.4 223.8,1173.7 224.3,1173.8 224.8,1174.0 225.4,1173.8 225.9,1173.4 226.4,1173.2 226.9,1173.1 227.4,1173.4 227.9,1173.5 228.5,1173.7 229.0,1173.8 229.5,1174.1 230.0,1173.9 230.5,1173.8 231.0,1173.8 231.6,1173.7 232.1,1173.8 232.6,1174.1 233.1,1173.6 233.6,1173.7 234.1,1173.7 234.7,1173.6 235.2,1172.7 235.7,1172.0 236.2,1170.9 236.7,1169.3 237.2,1168.6 237.8,1168.1 238.3,1168.2 238.8,1169.1 239.3,1170.7 239.8,1171.9 240.3,1172.6 240.9,1173.3 241.4,1173.5 241.9,1173.6 242.4,1173.6 242.9,1173.6 243.4,1173.6 244.0,1173.6 244.5,1173.8 245.0,1173.8 245.5,1173.3 246.0,1173.9 246.5,1173.8 247.1,1173.8 247.6,1174.0 248.1,1173.6 248.6,1173.7 249.1,1173.5 249.6,1173.6 250.2,1173.0 250.7,1173.6 251.2,1173.0 251.7,1172.5 251.8,1172.6 252.0,1172.3 252.1,1171.8 252.2,1171.2 252.4,1170.5 252.5,1169.9 252.6,1168.8 252.7,1167.1 252.9,1165.6 253.0,1163.2 253.1,1160.3 253.3,1156.9 253.4,1152.6 253.5,1148.1 253.7,1142.7 253.8,1137.5 253.9,1131.4 254.0,1126.0 254.2,1120.5 254.3,1116.1 254.4,1112.5 254.6,1110.2 254.7,1109.2 254.8,1109.9 254.9,1111.1 255.1,1114.2 255.2,1118.5 255.3,1123.9 255.5,1129.0 255.6,1134.6 255.7,1139.7 255.8,1145.8 256.0,1150.1 256.1,1154.9 256.2,1158.5 256.4,1161.9 256.5,1164.5 256.6,1166.3 256.8,1167.8 256.9,1169.4 257.0,1170.8 257.1,1170.7 257.3,1171.9 257.4,1172.7 257.5,1172.9 257.7,1173.1 257.8,1172.9 257.9,1173.2 258.4,1172.9 259.0,1173.7 259.5,1173.5 260.0,1173.7 260.5,1173.6 261.0,1173.8 261.5,1174.1 262.1,1174.0 262.6,1173.7 263.1,1174.1 263.6,1174.0 264.1,1173.6 264.6,1174.0 265.2,1173.9 265.7,1174.3 266.2,1174.2 266.7,1174.0 267.2,1173.9 267.7,1174.3 268.3,1173.9 268.8,1173.9 269.3,1173.9 269.8,1174.2 270.3,1174.3 270.8,1173.9 271.4,1173.9 271.9,1174.1 272.4,1173.8 272.9,1173.8 273.4,1173.8 273.9,1174.0 274.5,1174.3 275.0,1174.1 275.5,1174.1 276.0,1174.5 276.5,1173.8 277.0,1174.0 277.6,1173.8 278.1,1173.8 278.6,1173.9 279.1,1173.8 279.6,1174.1 280.1,1173.8 280.7,1173.7 281.2,1173.4 281.7,1174.3 282.2,1173.9 282.7,1174.0 283.2,1174.0 283.8,1173.7 284.3,1173.9 284.8,1174.1 285.3,1173.7 285.8,1174.1 286.3,1174.0 286.9,1174.0 287.4,1174.0 287.9,1174.2 288.4,1174.2 288.9,1174.0 289.4,1173.9 290.0,1174.5 290.5,1174.0 291.0,1174.2 291.5,1173.9 292.0,1174.0 292.5,1173.9 293.1,1174.2 293.6,1173.8 294.1,1174.1 294.6,1173.5 295.1,1173.6 295.6,1174.0 296.2,1173.7 296.7,1174.0 297.2,1173.5 297.7,1174.2 298.2,1174.3 298.7,1174.1 299.3,1174.4 299.8,1174.7 300.3,1174.5 300.8,1174.2 301.3,1174.3 301.8,1174.2 302.4,1174.1 302.9,1173.9 303.4,1174.1 303.9,1174.4 304.4,1173.8 304.9,1174.3 305.5,1173.6 306.0,1174.0 306.5,1173.7 307.0,1174.2 307.5,1173.9 308.0,1173.4 308.6,1174.1 309.1,1173.8 309.6,1174.3 310.1,1174.3 310.6,1174.6 311.2,1174.5 311.7,1174.4 312.2,1174.2 312.7,1173.9 313.2,1174.1 313.7,1173.8 314.3,1173.9 314.8,1174.3 315.3,1174.0 315.8,1173.8 316.3,1174.2 316.8,1174.2 317.4,1174.4 317.9,1174.5 318.4,1174.4 318.9,1174.4 319.4,1174.3 319.9,1174.2 320.5,1174.4 321.0,1174.7 321.5,1174.3 322.0,1174.2 322.5,1174.4 323.0,1174.0 323.6,1173.9 324.1,1174.1 324.6,1173.8 325.1,1173.9 325.6,1174.3 326.1,1174.2 326.7,1174.5 327.2,1174.0 327.7,1174.2 328.2,1174.0 328.7,1173.8 329.2,1174.2 329.8,1174.4 330.3,1173.9 330.8,1174.1 331.3,1174.0 331.8,1174.1 332.3,1174.4 332.9,1174.5 333.4,1174.0 333.9,1174.5 334.4,1174.6 334.9,1174.5 335.4,1174.2 336.0,1174.4 336.5,1174.3 337.0,1174.5 337.5,1174.2 338.0,1174.3 338.5,1174.3 339.1,1174.1 339.6,1174.2 340.1,1174.3 340.6,1174.2 341.1,1174.2 341.6,1174.2 342.2,1174.2 342.7,1174.2 343.2,1174.6 343.7,1174.4 344.2,1173.8 344.7,1173.8 345.3,1173.3 345.8,1173.2 346.3,1172.7 346.8,1172.4 347.3,1172.4 347.8,1172.4 348.4,1172.6 348.9,1173.2 349.4,1173.2 349.9,1173.7 350.4,1173.7 350.9,1174.2 351.5,1174.2 352.0,1174.3 352.5,1174.1 353.0,1174.0 353.5,1174.3 354.0,1174.2 354.6,1174.2 355.1,1174.4 355.6,1174.5 356.1,1174.1 356.6,1174.3 357.1,1174.2 357.7,1174.5 358.2,1174.6 358.7,1174.4 359.2,1174.2 359.7,1174.3 360.2,1174.0 360.8,1173.9 361.3,1174.6 361.8,1174.2 362.3,1174.3 362.8,1174.4 363.4,1174.0 363.9,1174.0 364.4,1174.1 364.9,1174.3 365.4,1174.0 365.9,1174.1 366.5,1174.2 367.0,1174.4 367.5,1174.6 368.0,1174.3 368.5,1174.2 369.0,1174.6 369.6,1174.2 370.1,1174.2 370.6,1174.3 371.1,1174.0 371.6,1173.8 372.1,1173.9 372.7,1174.1 373.2,1174.0 373.7,1174.1 374.2,1173.8 374.7,1174.0 375.2,1174.5 375.8,1174.4 376.3,1174.6 376.8,1174.5 377.3,1174.2 377.8,1174.3 378.3,1174.1 378.9,1174.2 379.4,1174.1 379.9,1173.9 380.4,1174.4 380.9,1174.4 381.4,1173.9 382.0,1173.9 382.5,1174.3 383.0,1174.4 383.5,1174.3 384.0,1173.9 384.5,1174.1 385.1,1174.4 385.6,1174.1 386.1,1174.1 386.6,1174.4 387.1,1174.3 387.6,1174.1 388.2,1174.7 388.7,1174.3 389.2,1174.8 389.7,1174.4 390.2,1174.4 390.7,1174.0 391.3,1174.3 391.8,1174.2 392.3,1173.8 392.8,1174.1 393.3,1174.0 393.8,1174.1 394.4,1173.9 394.9,1174.1 395.4,1174.3 395.9,1174.5 396.4,1173.9 396.9,1174.2 397.5,1174.2 398.0,1174.2 398.5,1174.1 399.0,1174.5 399.5,1174.4 400.0,1174.6 400.6,1174.3 401.1,1174.3 401.6,1174.0 402.1,1174.3 402.6,1174.5 403.1,1174.7 403.7,1174.4 404.2,1174.7 404.7,1174.7 405.2,1174.3 405.7,1174.5 406.2,1174.1 406.8,1174.2 407.3,1173.9 407.8,1174.5 408.3,1174.5 408.8,1174.1 409.3,1174.8 409.9,1174.2 410.4,1174.5 410.9,1174.3 411.4,1174.7 411.9,1174.6 412.4,1174.6 413.0,1174.7 413.5,1174.3 414.0,1174.8 414.5,1174.5 415.0,1174.6 415.6,1174.6 416.1,1174.6 416.6,1174.6 417.1,1174.3 417.6,1174.0 418.1,1174.4 418.7,1174.6 419.2,1174.1 419.7,1174.4 420.2,1174.4 420.7,1174.2 421.2,1174.6 421.8,1174.7 422.3,1174.4 422.8,1174.3 423.3,1174.5 423.8,1174.1 424.3,1174.6 424.9,1174.3 425.4,1174.5 425.9,1175.0 426.4,1174.5 426.9,1174.8 427.4,1174.4 428.0,1174.5 428.5,1174.7 429.0,1174.5 429.5,1174.6 430.0,1174.4 430.5,1174.6 431.1,1174.6 431.6,1174.7 432.1,1174.4 432.6,1174.5 433.1,1174.6 433.6,1174.3 434.2,1174.3 434.7,1174.1 435.2,1174.5 435.7,1174.4 436.2,1174.5 436.7,1174.5 437.3,1174.7 437.8,1174.7 438.3,1174.3 438.8,1174.6 439.3,1174.8 439.8,1174.5 440.4,1174.3 440.9,1174.6 441.4,1174.6 441.9,1174.4 442.4,1174.3 442.9,1173.9 443.5,1174.6 444.0,1174.3 444.5,1173.9 445.0,1174.2 445.5,1174.3 446.0,1173.9 446.6,1174.2 447.1,1174.2 447.6,1174.1 448.1,1174.3 448.6,1174.2 449.1,1173.7 449.7,1174.6 450.2,1174.3 450.7,1174.4 451.2,1174.8 451.7,1174.3 452.2,1174.8 452.8,1174.8 453.3,1174.5 453.8,1174.3 454.3,1174.4 454.8,1174.2 455.3,1174.7 455.9,1173.8 456.4,1173.9 456.9,1174.0 457.4,1174.3 457.9,1174.7 458.4,1174.6 459.0,1174.6 459.5,1174.4 460.0,1174.2 460.5,1174.6 461.0,1174.5 461.5,1174.5 462.1,1174.3 462.6,1174.6 463.1,1174.9 463.6,1174.7 464.1,1174.6 464.6,1174.7 465.2,1174.4 465.7,1174.6 466.2,1174.2 466.7,1174.7 467.2,1174.5 467.8,1174.5 468.3,1174.4 468.8,1174.5 469.3,1174.6 469.8,1174.8 470.3,1174.6 470.9,1174.8 471.4,1175.0 471.9,1174.7 472.4,1174.8 472.9,1174.7 473.4,1174.5 474.0,1174.6 474.5,1174.6 475.0,1174.4 475.5,1175.2 476.0,1174.5 476.5,1174.9 477.1,1174.5 477.6,1174.8 478.1,1174.7 478.6,1174.6 479.1,1174.8 479.6,1174.6 480.2,1174.4 480.7,1174.1 481.2,1173.9 481.7,1174.2 482.2,1174.4 482.7,1174.4 483.3,1174.5 483.8,1174.6 484.3,1174.7 484.8,1174.6 485.3,1174.6 485.8,1174.0 486.4,1174.4 486.9,1174.4 487.4,1174.3 487.9,1174.2 488.4,1174.4 488.9,1174.8 489.5,1174.5 490.0,1174.6 490.5,1174.8 491.0,1174.4 491.5,1174.4 492.0,1174.7 492.6,1174.6 493.1,1174.8 493.6,1174.6 494.1,1174.4 494.6,1174.4 495.1,1174.5 495.7,1174.5 496.2,1174.6 496.7,1174.3 497.2,1175.0 497.7,1174.3 498.2,1174.8 498.8,1175.0 499.3,1174.5 499.8,1174.8 500.3,1174.5 500.8,1174.9 501.3,1174.3 501.9,1174.7 502.4,1175.0 502.9,1174.6 503.4,1174.4 503.9,1174.5 504.4,1174.5 505.0,1174.8 505.5,1174.6 506.0,1174.7 506.5,1174.4 507.0,1174.4 507.5,1174.7 508.1,1174.7 508.6,1174.7 509.1,1174.7 509.6,1174.3 510.1,1174.4 510.6,1174.3 511.2,1174.4 511.7,1174.6 512.2,1174.5 512.7,1174.5 513.2,1174.3 513.7,1174.3 514.3,1174.6 514.8,1174.3 515.3,1174.7 515.8,1174.6 516.3,1174.2 516.8,1174.6 517.4,1174.6 517.9,1174.5 518.4,1174.5 518.9,1174.5 519.4,1174.6 520.0,1174.6 520.5,1174.7 521.0,1174.6 521.5,1174.8 522.0,1174.7 522.5,1174.6 523.1,1174.7 523.6,1174.8 524.1,1174.8 524.6,1174.9 525.1,1174.6 525.6,1174.8 526.2,1174.7 526.7,1174.8 527.2,1174.9 527.7,1174.6 528.2,1174.7 528.7,1174.7 529.3,1174.4 529.8,1174.8 530.3,1175.0 530.8,1174.6 531.3,1174.4 531.8,1174.2 532.4,1174.6 532.9,1174.5 533.4,1174.6 533.9,1174.6 534.4,1174.4 534.9,1174.8 535.5,1174.6 536.0,1174.5 536.5,1174.6 537.0,1174.7 537.5,1174.7 538.0,1175.0 538.6,1174.6 539.1,1174.7 539.6,1174.9 540.1,1174.8 540.6,1174.8 541.1,1174.8 541.7,1174.5 542.2,1174.7 542.7,1174.8 543.2,1174.6 543.7,1175.0 544.2,1174.9 544.8,1175.0 545.3,1174.2 545.8,1174.3 546.3,1174.5 546.8,1174.5 547.3,1174.5 547.9,1174.9 548.4,1174.9 548.9,1175.0 549.4,1175.1 549.9,1175.3 550.4,1174.8 551.0,1174.9 551.5,1175.2 552.0,1175.0 552.5,1174.8 553.0,1175.0 553.5,1174.8 554.1,1174.6 554.6,1175.0 555.1,1174.7 555.6,1174.7 556.1,1174.7 556.6,1174.4 557.2,1174.7 557.7,1174.9 558.2,1174.4 558.7,1174.4 559.2,1174.4 559.7,1174.7 560.3,1174.8 560.8,1174.6 561.3,1174.7 561.8,1175.1 562.3,1175.0 562.8,1174.8 563.4,1175.4 563.9,1174.9 564.4,1175.0 564.9,1174.6 565.4,1174.7 565.9,1175.0 566.5,1174.7 567.0,1174.6 567.5,1174.7 568.0,1174.7 568.5,1174.9 569.1,1174.9 569.6,1174.9 570.1,1174.9 570.6,1175.0 571.1,1174.8 571.6,1174.7 572.2,1175.0 572.7,1174.4 573.2,1175.2 573.7,1175.2 574.2,1175.4 574.7,1174.6 575.3,1175.0 575.8,1174.9 576.3,1174.5 576.8,1174.8 577.3,1174.8 577.8,1174.7 578.4,1175.3 578.9,1174.3 579.4,1174.6 579.9,1174.7 580.4,1174.6 580.9,1174.6 581.5,1174.9 582.0,1174.9 582.5,1174.8 583.0,1174.7 583.5,1174.9 584.0,1174.9 584.6,1174.7 585.1,1174.9 585.6,1174.9 586.1,1174.6 586.6,1174.9 587.1,1174.9 587.7,1174.6 588.2,1174.7 588.7,1175.0 589.2,1174.9 589.7,1174.9 590.2,1175.4 590.8,1175.0 591.3,1174.9 591.8,1175.0 592.3,1174.7 592.8,1175.0 593.3,1174.9 593.9,1175.2 594.4,1175.2 594.9,1175.2 595.4,1175.2 595.9,1175.3 596.4,1174.7 597.0,1174.9 597.5,1175.1 598.0,1174.3 598.5,1174.6 599.0,1175.5 599.5,1175.1 600.1,1174.9 600.6,1175.3 601.1,1175.0 601.6,1174.9 602.1,1175.0 602.6,1174.9 603.2,1175.1 603.7,1175.2 604.2,1175.1 604.7,1175.2 605.2,1175.0 605.7,1175.0 606.3,1174.9 606.8,1174.9 607.3,1175.0 607.8,1175.3 608.3,1175.1 608.8,1175.1 609.4,1174.7 609.9,1174.9 610.4,1175.0 610.9,1174.6 611.4,1174.8 611.9,1174.8 612.5,1174.9 613.0,1174.8 613.5,1174.7 614.0,1174.8 614.5,1175.0 615.0,1175.1 615.6,1174.8 616.1,1174.8 616.6,1175.2 617.1,1174.7 617.6,1174.8 618.1,1175.1 618.7,1174.8 619.2,1174.9 619.7,1174.8 620.2,1174.9 620.7,1174.9 621.3,1174.7 621.8,1174.8 622.3,1175.0 622.8,1174.8 623.3,1175.0 623.8,1174.7 624.4,1174.6 624.9,1174.7 625.4,1175.2 625.9,1174.6 626.4,1174.8 626.9,1174.9 627.5,1174.7 628.0,1174.8 628.5,1175.4 629.0,1175.2 629.5,1175.3 630.0,1175.3 630.6,1175.3 631.1,1175.4 631.6,1174.9 632.1,1174.2 632.6,1174.9 633.1,1175.1 633.7,1174.9 634.2,1175.1 634.7,1174.5 635.2,1174.5 635.7,1175.0 636.2,1175.3 636.8,1174.8 637.3,1174.8 637.8,1175.2 638.3,1175.1 638.8,1175.3 639.3,1175.6 639.9,1174.8 640.4,1174.8 640.9,1174.9 641.4,1174.9 641.9,1174.4 642.4,1174.8 643.0,1174.7 643.5,1175.1 644.0,1175.2 644.5,1175.0 645.0,1175.1 645.5,1175.1 646.1,1175.0 646.6,1175.3 647.1,1174.8 647.6,1174.8 648.1,1175.0 648.6,1175.0 649.2,1174.9 649.7,1174.6 650.2,1174.7 650.7,1174.5 651.2,1174.8 651.7,1175.0 652.3,1175.2 652.8,1175.0 653.3,1174.8 653.8,1174.8 654.3,1175.0 654.8,1174.9 655.4,1174.6 655.9,1174.8 656.4,1174.3 656.9,1175.0 657.4,1175.1 657.9,1175.6 658.5,1175.0 659.0,1175.3 659.5,1175.6 660.0,1175.2 660.5,1175.3 661.0,1175.0 661.6,1175.2 662.1,1175.1 662.6,1174.7 663.1,1174.9 663.6,1174.8 664.1,1174.5 664.7,1175.3 665.2,1175.4 665.7,1175.1 666.2,1175.0 666.7,1175.3 667.2,1175.1 667.8,1175.2 668.3,1175.2 668.8,1174.9 669.3,1174.9 669.8,1174.9 670.3,1175.2 670.9,1175.0 671.4,1174.9 671.9,1174.9" fill="none" stroke="#3aaa72" stroke-width="1.75" stroke-linejoin="round"/>
<path d="M51.7,1237.6 52.2,1237.6 52.7,1237.8 53.3,1237.8 53.8,1238.2 54.3,1238.8 54.8,1239.0 55.3,1239.0 55.8,1239.3 56.4,1239.3 56.9,1239.4 57.4,1239.5 57.9,1239.2 58.4,1239.1 58.9,1239.8 59.5,1239.4 60.0,1239.6 60.5,1239.3 61.0,1239.6 61.5,1239.5 62.0,1239.4 62.6,1239.8 63.1,1239.6 63.6,1240.4 64.1,1240.4 64.6,1240.2 65.1,1239.6 65.7,1240.0 66.2,1240.8 66.7,1240.2 67.2,1239.7 67.7,1240.0 68.2,1240.2 68.8,1239.9 69.3,1240.4 69.8,1240.4 70.3,1240.5 70.8,1240.5 71.3,1240.3 71.9,1240.9 72.4,1240.5 72.9,1240.4 73.4,1240.9 73.9,1240.7 74.4,1240.4 75.0,1240.7 75.5,1240.4 76.0,1240.4 76.5,1241.2 77.0,1240.9 77.5,1240.2 78.1,1240.6 78.6,1240.7 79.1,1240.7 79.6,1241.2 80.1,1240.6 80.6,1240.2 81.2,1240.7 81.7,1241.0 82.2,1240.3 82.7,1240.5 83.2,1240.4 83.7,1240.3 84.3,1240.3 84.8,1240.5 85.3,1240.7 85.8,1241.0 86.3,1240.6 86.8,1241.0 87.4,1240.9 87.9,1241.0 88.4,1241.2 88.9,1240.9 89.4,1241.1 89.9,1241.0 90.5,1240.9 91.0,1240.8 91.5,1241.1 92.0,1241.0 92.5,1241.0 93.0,1240.5 93.6,1241.0 94.1,1240.6 94.6,1240.8 95.1,1241.3 95.6,1241.4 96.1,1241.8 96.7,1241.4 97.2,1241.5 97.7,1240.8 98.2,1240.7 98.7,1240.6 99.2,1240.7 99.8,1240.5 100.3,1240.4 100.8,1240.7 101.3,1240.6 101.8,1240.7 102.3,1240.7 102.9,1241.2 103.4,1240.6 103.9,1240.9 104.4,1240.8 104.9,1241.4 105.5,1241.2 106.0,1241.2 106.5,1241.0 107.0,1240.4 107.5,1240.9 108.0,1240.9 108.6,1241.0 109.1,1240.8 109.6,1240.9 110.1,1241.2 110.6,1241.2 111.1,1240.2 111.7,1240.8 112.2,1240.6 112.7,1241.1 113.2,1241.3 113.7,1241.2 114.2,1240.9 114.8,1241.6 115.3,1240.9 115.8,1241.1 116.3,1240.7 116.8,1241.3 117.3,1241.5 117.9,1241.1 118.4,1241.2 118.9,1241.4 119.4,1240.8 119.9,1240.9 120.4,1241.0 121.0,1240.6 121.5,1240.6 122.0,1240.5 122.5,1240.4 123.0,1240.8 123.5,1240.8 124.1,1240.6 124.6,1240.5 125.1,1240.6 125.6,1240.3 126.1,1241.2 126.6,1240.8 127.2,1240.6 127.7,1241.3 128.2,1241.3 128.7,1241.0 129.2,1240.4 129.7,1241.1 130.3,1240.6 130.8,1241.1 131.3,1240.9 131.8,1240.7 132.3,1241.1 132.8,1240.7 133.4,1241.0 133.9,1240.8 134.4,1240.9 134.9,1240.5 135.4,1241.0 135.9,1241.3 136.5,1240.5 137.0,1240.6 137.5,1241.0 138.0,1241.1 138.5,1241.0 139.0,1241.3 139.6,1240.9 140.1,1240.8 140.6,1240.9 141.1,1240.8 141.6,1240.8 142.1,1240.9 142.7,1240.8 143.2,1240.7 143.7,1240.8 144.2,1240.6 144.7,1240.8 145.2,1241.0 145.8,1240.7 146.3,1240.8 146.8,1240.5 147.3,1240.6 147.8,1241.1 148.3,1241.1 148.9,1240.7 149.4,1240.7 149.9,1240.4 150.4,1240.8 150.9,1240.7 151.4,1240.7 152.0,1241.5 152.5,1241.2 153.0,1240.5 153.5,1240.6 154.0,1240.4 154.5,1240.6 155.1,1240.7 155.6,1240.1 156.1,1240.2 156.6,1240.6 157.1,1240.2 157.7,1240.5 158.2,1240.8 158.7,1240.9 159.2,1240.5 159.7,1240.7 160.2,1240.2 160.8,1240.3 161.3,1240.3 161.8,1240.3 162.3,1240.1 162.8,1240.0 163.3,1239.6 163.9,1239.9 164.4,1239.4 164.9,1239.8 165.4,1239.6 165.9,1239.6 166.4,1239.3 167.0,1239.1 167.5,1239.6 168.0,1238.8 168.5,1239.0 169.0,1238.7 169.5,1238.8 170.1,1238.5 170.6,1238.7 171.1,1238.5 171.6,1238.5 172.1,1238.0 172.6,1237.9 173.2,1238.1 173.7,1237.8 174.2,1237.7 174.7,1237.5 175.2,1237.4 175.7,1237.6 176.3,1237.1 176.8,1236.7 177.3,1237.0 177.8,1236.7 178.3,1237.0 178.8,1236.7 179.4,1235.7 179.9,1235.6 180.4,1235.4 180.9,1236.0 181.4,1235.3 181.9,1235.5 182.5,1235.8 183.0,1235.4 183.5,1235.5 184.0,1235.8 184.5,1235.2 185.0,1235.4 185.6,1234.9 186.1,1234.8 186.6,1234.2 187.1,1234.8 187.6,1235.0 188.1,1234.4 188.7,1234.7 189.2,1235.4 189.7,1235.7 190.2,1235.2 190.7,1235.4 191.2,1235.4 191.8,1235.4 192.3,1234.9 192.8,1235.6 193.3,1234.9 193.8,1235.3 194.3,1235.4 194.9,1235.8 195.4,1235.5 195.9,1235.4 196.4,1236.3 196.9,1236.2 197.4,1236.4 198.0,1236.2 198.5,1236.3 199.0,1236.6 199.5,1236.6 200.0,1236.4 200.5,1236.4 201.1,1236.5 201.6,1237.2 202.1,1237.3 202.6,1237.1 203.1,1237.5 203.6,1237.4 204.2,1237.8 204.7,1238.0 205.2,1238.1 205.7,1238.0 206.2,1237.6 206.8,1237.9 207.3,1238.1 207.8,1238.0 208.3,1238.1 208.8,1238.1 209.3,1238.0 209.9,1238.0 210.4,1238.4 210.9,1239.1 211.4,1239.0 211.9,1239.0 212.4,1239.5 213.0,1239.5 213.5,1239.2 214.0,1239.3 214.5,1239.4 215.0,1239.5 215.5,1239.5 216.1,1239.6 216.6,1239.7 217.1,1239.9 217.6,1239.1 218.1,1239.9 218.6,1240.1 219.2,1239.7 219.7,1240.3 220.2,1240.4 220.7,1240.3 221.2,1240.3 221.7,1240.0 222.3,1240.1 222.8,1239.8 223.3,1240.4 223.8,1240.5 224.3,1239.9 224.8,1240.7 225.4,1240.8 225.9,1240.7 226.4,1241.1 226.9,1241.2 227.4,1241.1 227.9,1240.5 228.5,1240.9 229.0,1240.8 229.5,1240.9 230.0,1240.2 230.5,1240.6 231.0,1240.3 231.6,1240.1 232.1,1240.2 232.6,1240.6 233.1,1240.2 233.6,1240.2 234.1,1240.2 234.3,1240.2 234.4,1239.9 234.5,1239.5 234.7,1239.8 234.8,1238.9 234.9,1238.5 235.0,1238.3 235.2,1238.2 235.3,1238.2 235.4,1237.4 235.6,1236.9 235.7,1236.1 235.8,1235.4 236.0,1234.3 236.1,1233.3 236.2,1232.3 236.3,1231.1 236.5,1230.4 236.6,1229.1 236.7,1228.6 236.9,1226.9 237.0,1226.6 237.1,1225.7 237.2,1225.0 237.4,1224.0 237.5,1223.5 237.6,1223.4 237.8,1223.2 237.9,1223.0 238.0,1223.7 238.1,1224.6 238.3,1225.1 238.4,1225.2 238.5,1225.9 238.7,1226.8 238.8,1227.8 238.9,1229.4 239.1,1230.4 239.2,1230.9 239.3,1232.5 239.4,1233.1 239.6,1234.3 239.7,1235.3 239.8,1235.9 240.0,1236.6 240.1,1236.9 240.2,1237.7 240.3,1238.4 240.5,1238.7 240.6,1239.3 240.7,1239.1 240.9,1239.5 241.0,1239.9 241.1,1240.4 241.2,1240.1 241.4,1240.3 241.5,1240.8 241.6,1240.8 241.8,1240.4 241.9,1240.2 242.4,1240.7 242.9,1240.5 243.4,1240.2 244.0,1240.5 244.5,1241.1 245.0,1240.8 245.5,1241.1 246.0,1240.4 246.5,1240.9 247.1,1240.7 247.6,1241.0 248.1,1240.6 248.6,1240.9 249.1,1240.4 249.6,1240.6 250.2,1240.3 250.7,1240.3 251.2,1240.1 251.7,1239.9 251.8,1239.4 252.0,1239.2 252.1,1238.9 252.2,1238.4 252.4,1237.8 252.5,1236.8 252.6,1236.2 252.7,1234.1 252.9,1232.1 253.0,1230.6 253.1,1227.3 253.3,1223.2 253.4,1218.8 253.5,1214.3 253.7,1209.3 253.8,1203.6 253.9,1198.2 254.0,1192.0 254.2,1187.1 254.3,1182.6 254.4,1179.2 254.6,1176.3 254.7,1175.7 254.8,1176.4 254.9,1178.1 255.1,1181.1 255.2,1185.3 255.3,1190.7 255.5,1195.7 255.6,1201.3 255.7,1207.5 255.8,1212.2 256.0,1217.3 256.1,1221.7 256.2,1225.4 256.4,1228.5 256.5,1231.9 256.6,1233.6 256.8,1235.3 256.9,1236.4 257.0,1237.7 257.1,1238.5 257.3,1238.7 257.4,1239.6 257.5,1239.4 257.7,1239.5 257.8,1239.3 257.9,1240.1 258.4,1240.2 259.0,1240.7 259.5,1240.6 260.0,1240.6 260.5,1240.6 261.0,1240.5 261.5,1240.7 262.1,1240.6 262.6,1240.8 263.1,1240.5 263.6,1241.3 264.1,1241.0 264.6,1240.9 265.2,1241.3 265.7,1240.8 266.2,1241.4 266.7,1241.7 267.2,1240.9 267.7,1241.4 268.3,1241.3 268.8,1241.5 269.3,1241.1 269.8,1241.4 270.3,1240.7 270.8,1240.8 271.4,1241.1 271.9,1241.1 272.4,1241.1 272.9,1241.3 273.4,1241.4 273.9,1241.5 274.5,1241.2 275.0,1241.4 275.5,1241.5 276.0,1241.5 276.5,1241.7 277.0,1241.3 277.6,1241.5 278.1,1241.2 278.6,1241.2 279.1,1240.7 279.6,1240.9 280.1,1240.7 280.7,1240.9 281.2,1241.0 281.7,1240.8 282.2,1241.2 282.7,1241.0 283.2,1240.9 283.8,1241.1 284.3,1241.3 284.8,1240.6 285.3,1241.0 285.8,1240.8 286.3,1240.9 286.9,1241.3 287.4,1241.3 287.9,1241.2 288.4,1241.2 288.9,1241.6 289.4,1241.1 290.0,1241.4 290.5,1241.7 291.0,1241.6 291.5,1241.5 292.0,1241.3 292.5,1241.2 293.1,1240.9 293.6,1241.1 294.1,1241.2 294.6,1240.6 295.1,1240.9 295.6,1241.3 296.2,1241.6 296.7,1241.3 297.2,1241.3 297.7,1241.0 298.2,1241.0 298.7,1240.8 299.3,1241.0 299.8,1241.3 300.3,1241.4 300.8,1241.0 301.3,1241.1 301.8,1241.4 302.4,1241.2 302.9,1240.9 303.4,1241.1 303.9,1241.4 304.4,1241.2 304.9,1241.8 305.5,1241.5 306.0,1241.4 306.5,1240.9 307.0,1240.6 307.5,1240.9 308.0,1240.7 308.6,1241.1 309.1,1240.8 309.6,1241.4 310.1,1241.4 310.6,1241.5 311.2,1241.7 311.7,1241.4 312.2,1241.5 312.7,1241.7 313.2,1241.5 313.7,1241.3 314.3,1241.6 314.8,1240.9 315.3,1241.3 315.8,1240.9 316.3,1241.0 316.8,1241.7 317.4,1241.2 317.9,1241.2 318.4,1241.3 318.9,1241.0 319.4,1241.2 319.9,1241.3 320.5,1241.7 321.0,1241.2 321.5,1241.2 322.0,1240.7 322.5,1240.5 323.0,1241.1 323.6,1241.1 324.1,1241.3 324.6,1241.2 325.1,1241.3 325.6,1242.0 326.1,1241.0 326.7,1240.9 327.2,1241.4 327.7,1240.9 328.2,1241.4 328.7,1241.0 329.2,1241.5 329.8,1240.9 330.3,1241.3 330.8,1240.9 331.3,1240.8 331.8,1241.0 332.3,1241.4 332.9,1241.3 333.4,1241.1 333.9,1241.4 334.4,1241.2 334.9,1241.4 335.4,1241.5 336.0,1241.5 336.5,1241.4 337.0,1241.2 337.5,1241.3 338.0,1241.6 338.5,1241.3 339.1,1241.1 339.6,1241.7 340.1,1241.4 340.6,1241.5 341.1,1241.4 341.6,1241.1 342.2,1241.3 342.7,1241.5 343.2,1241.2 343.7,1241.2 344.2,1240.8 344.7,1240.9 345.3,1240.7 345.8,1240.7 346.3,1240.7 346.8,1240.7 347.3,1240.8 347.8,1240.6 348.4,1240.1 348.9,1240.7 349.4,1240.8 349.9,1240.6 350.4,1241.0 350.9,1241.3 351.5,1241.0 352.0,1241.2 352.5,1241.4 353.0,1241.8 353.5,1241.2 354.0,1241.4 354.6,1241.5 355.1,1241.3 355.6,1241.6 356.1,1241.5 356.6,1241.3 357.1,1241.1 357.7,1241.3 358.2,1241.1 358.7,1241.3 359.2,1241.2 359.7,1241.3 360.2,1241.4 360.8,1241.3 361.3,1241.0 361.8,1241.5 362.3,1241.2 362.8,1240.6 363.4,1241.5 363.9,1241.1 364.4,1241.3 364.9,1241.7 365.4,1241.5 365.9,1241.4 366.5,1241.4 367.0,1241.8 367.5,1241.6 368.0,1241.7 368.5,1242.1 369.0,1241.3 369.6,1241.5 370.1,1241.4 370.6,1241.8 371.1,1241.1 371.6,1240.8 372.1,1241.3 372.7,1241.8 373.2,1240.8 373.7,1241.2 374.2,1241.6 374.7,1241.7 375.2,1241.5 375.8,1241.6 376.3,1241.6 376.8,1241.2 377.3,1241.7 377.8,1241.2 378.3,1241.4 378.9,1241.0 379.4,1241.2 379.9,1241.8 380.4,1241.1 380.9,1241.3 381.4,1241.9 382.0,1241.8 382.5,1241.3 383.0,1241.3 383.5,1241.5 384.0,1241.6 384.5,1241.0 385.1,1240.9 385.6,1240.8 386.1,1241.2 386.6,1240.7 387.1,1240.9 387.6,1241.1 388.2,1240.7 388.7,1240.9 389.2,1240.7 389.7,1241.4 390.2,1241.4 390.7,1241.3 391.3,1241.2 391.8,1241.3 392.3,1241.0 392.8,1241.6 393.3,1241.5 393.8,1241.4 394.4,1241.7 394.9,1241.3 395.4,1241.8 395.9,1241.6 396.4,1241.4 396.9,1241.0 397.5,1241.6 398.0,1241.5 398.5,1241.2 399.0,1240.9 399.5,1240.9 400.0,1241.7 400.6,1241.6 401.1,1241.1 401.6,1241.0 402.1,1241.5 402.6,1241.3 403.1,1241.2 403.7,1241.0 404.2,1241.2 404.7,1241.6 405.2,1241.1 405.7,1241.3 406.2,1241.2 406.8,1241.7 407.3,1241.5 407.8,1241.6 408.3,1241.5 408.8,1241.3 409.3,1241.2 409.9,1241.5 410.4,1241.2 410.9,1240.8 411.4,1241.0 411.9,1240.9 412.4,1241.2 413.0,1241.2 413.5,1241.7 414.0,1241.4 414.5,1241.1 415.0,1241.7 415.6,1241.5 416.1,1241.5 416.6,1241.4 417.1,1241.1 417.6,1240.7 418.1,1241.4 418.7,1241.2 419.2,1241.0 419.7,1241.1 420.2,1240.4 420.7,1241.5 421.2,1241.1 421.8,1241.8 422.3,1241.0 422.8,1241.7 423.3,1241.7 423.8,1241.5 424.3,1241.6 424.9,1241.7 425.4,1241.4 425.9,1241.0 426.4,1241.7 426.9,1241.3 427.4,1241.2 428.0,1241.4 428.5,1241.1 429.0,1240.9 429.5,1241.5 430.0,1241.4 430.5,1241.6 431.1,1241.6 431.6,1241.8 432.1,1241.6 432.6,1241.8 433.1,1241.6 433.6,1242.0 434.2,1241.7 434.7,1241.7 435.2,1241.4 435.7,1241.6 436.2,1241.6 436.7,1241.4 437.3,1241.6 437.8,1241.5 438.3,1241.4 438.8,1241.8 439.3,1241.7 439.8,1241.4 440.4,1242.0 440.9,1241.6 441.4,1241.1 441.9,1241.7 442.4,1241.5 442.9,1241.2 443.5,1241.2 444.0,1241.5 444.5,1241.5 445.0,1241.8 445.5,1241.8 446.0,1241.6 446.6,1242.1 447.1,1241.8 447.6,1241.8 448.1,1241.5 448.6,1241.4 449.1,1241.9 449.7,1241.5 450.2,1241.5 450.7,1241.5 451.2,1241.9 451.7,1241.7 452.2,1241.4 452.8,1241.5 453.3,1241.6 453.8,1241.5 454.3,1241.3 454.8,1241.1 455.3,1241.3 455.9,1240.8 456.4,1241.3 456.9,1241.1 457.4,1241.2 457.9,1241.2 458.4,1241.2 459.0,1241.5 459.5,1241.7 460.0,1241.5 460.5,1241.3 461.0,1241.4 461.5,1241.4 462.1,1241.3 462.6,1241.4 463.1,1242.0 463.6,1241.5 464.1,1241.9 464.6,1241.7 465.2,1241.9 465.7,1242.1 466.2,1241.6 466.7,1241.5 467.2,1241.7 467.8,1241.1 468.3,1241.7 468.8,1241.7 469.3,1241.5 469.8,1242.0 470.3,1241.3 470.9,1242.0 471.4,1241.5 471.9,1242.1 472.4,1241.4 472.9,1240.9 473.4,1241.5 474.0,1241.8 474.5,1241.9 475.0,1242.1 475.5,1242.1 476.0,1241.9 476.5,1241.9 477.1,1242.0 477.6,1241.6 478.1,1241.0 478.6,1240.9 479.1,1241.1 479.6,1241.7 480.2,1241.3 480.7,1241.2 481.2,1241.6 481.7,1241.9 482.2,1241.4 482.7,1241.8 483.3,1242.1 483.8,1242.0 484.3,1242.0 484.8,1241.8 485.3,1241.4 485.8,1241.5 486.4,1241.2 486.9,1241.1 487.4,1241.4 487.9,1241.2 488.4,1241.2 488.9,1241.3 489.5,1240.9 490.0,1241.3 490.5,1241.4 491.0,1241.3 491.5,1241.5 492.0,1240.9 492.6,1241.8 493.1,1241.2 493.6,1241.3 494.1,1241.0 494.6,1241.6 495.1,1241.3 495.7,1241.5 496.2,1241.6 496.7,1241.9 497.2,1241.9 497.7,1241.7 498.2,1241.2 498.8,1241.3 499.3,1241.6 499.8,1241.5 500.3,1241.5 500.8,1241.7 501.3,1242.0 501.9,1242.0 502.4,1241.6 502.9,1241.6 503.4,1241.1 503.9,1241.6 504.4,1241.0 505.0,1241.8 505.5,1241.7 506.0,1241.1 506.5,1241.6 507.0,1241.7 507.5,1241.9 508.1,1241.6 508.6,1242.2 509.1,1241.8 509.6,1241.5 510.1,1242.1 510.6,1241.7 511.2,1241.9 511.7,1242.0 512.2,1242.0 512.7,1241.9 513.2,1241.7 513.7,1241.5 514.3,1241.7 514.8,1241.7 515.3,1241.5 515.8,1241.4 516.3,1240.9 516.8,1241.5 517.4,1241.5 517.9,1241.4 518.4,1241.4 518.9,1241.7 519.4,1241.6 520.0,1241.3 520.5,1241.4 521.0,1241.3 521.5,1241.0 522.0,1241.2 522.5,1241.3 523.1,1241.6 523.6,1241.6 524.1,1241.2 524.6,1241.0 525.1,1241.1 525.6,1241.1 526.2,1241.4 526.7,1241.3 527.2,1240.9 527.7,1240.9 528.2,1241.5 528.7,1241.2 529.3,1241.9 529.8,1241.8 530.3,1241.2 530.8,1241.9 531.3,1241.4 531.8,1241.8 532.4,1241.9 532.9,1241.3 533.4,1241.0 533.9,1241.0 534.4,1241.8 534.9,1241.9 535.5,1241.7 536.0,1242.0 536.5,1242.0 537.0,1241.5 537.5,1241.5 538.0,1241.2 538.6,1241.3 539.1,1241.1 539.6,1241.1 540.1,1241.6 540.6,1241.7 541.1,1241.0 541.7,1241.4 542.2,1241.4 542.7,1241.9 543.2,1241.5 543.7,1241.4 544.2,1242.0 544.8,1241.9 545.3,1241.9 545.8,1241.6 546.3,1242.3 546.8,1242.0 547.3,1242.0 547.9,1241.7 548.4,1241.7 548.9,1241.7 549.4,1241.2 549.9,1241.1 550.4,1241.0 551.0,1241.1 551.5,1241.5 552.0,1241.8 552.5,1241.4 553.0,1241.9 553.5,1241.7 554.1,1241.9 554.6,1241.4 555.1,1241.6 555.6,1241.3 556.1,1241.3 556.6,1241.4 557.2,1241.6 557.7,1241.4 558.2,1241.4 558.7,1240.9 559.2,1241.9 559.7,1241.8 560.3,1241.7 560.8,1241.3 561.3,1241.3 561.8,1241.6 562.3,1241.4 562.8,1241.7 563.4,1241.9 563.9,1241.9 564.4,1242.1 564.9,1241.7 565.4,1242.0 565.9,1241.9 566.5,1242.4 567.0,1241.4 567.5,1241.6 568.0,1241.5 568.5,1241.8 569.1,1242.1 569.6,1241.9 570.1,1242.4 570.6,1241.7 571.1,1241.3 571.6,1241.1 572.2,1241.1 572.7,1241.5 573.2,1241.5 573.7,1242.0 574.2,1242.3 574.7,1242.1 575.3,1241.8 575.8,1241.1 576.3,1241.5 576.8,1242.1 577.3,1242.1 577.8,1242.2 578.4,1241.7 578.9,1241.9 579.4,1241.9 579.9,1242.2 580.4,1241.9 580.9,1242.0 581.5,1241.7 582.0,1241.7 582.5,1242.0 583.0,1241.6 583.5,1241.3 584.0,1241.7 584.6,1241.2 585.1,1241.7 585.6,1241.2 586.1,1241.4 586.6,1241.6 587.1,1241.5 587.7,1241.5 588.2,1241.4 588.7,1241.1 589.2,1241.1 589.7,1241.1 590.2,1241.1 590.8,1241.7 591.3,1241.7 591.8,1242.0 592.3,1242.0 592.8,1241.8 593.3,1242.1 593.9,1242.4 594.4,1241.8 594.9,1242.0 595.4,1242.3 595.9,1241.9 596.4,1242.1 597.0,1241.1 597.5,1241.4 598.0,1241.7 598.5,1241.2 599.0,1241.4 599.5,1241.2 600.1,1241.0 600.6,1241.3 601.1,1241.6 601.6,1241.5 602.1,1241.3 602.6,1241.2 603.2,1241.3 603.7,1241.7 604.2,1241.5 604.7,1241.8 605.2,1241.8 605.7,1241.5 606.3,1241.4 606.8,1241.4 607.3,1241.1 607.8,1241.1 608.3,1240.8 608.8,1241.5 609.4,1241.2 609.9,1241.4 610.4,1241.7 610.9,1241.4 611.4,1241.6 611.9,1241.2 612.5,1241.4 613.0,1241.0 613.5,1241.4 614.0,1241.1 614.5,1241.3 615.0,1241.7 615.6,1241.3 616.1,1242.2 616.6,1241.9 617.1,1241.9 617.6,1241.6 618.1,1242.4 618.7,1242.2 619.2,1242.5 619.7,1242.1 620.2,1241.9 620.7,1241.8 621.3,1241.8 621.8,1242.5 622.3,1242.0 622.8,1241.4 623.3,1242.0 623.8,1241.5 624.4,1242.0 624.9,1241.0 625.4,1241.8 625.9,1241.9 626.4,1241.7 626.9,1242.1 627.5,1242.3 628.0,1241.8 628.5,1241.9 629.0,1241.9 629.5,1241.7 630.0,1242.1 630.6,1242.2 631.1,1241.9 631.6,1241.9 632.1,1241.6 632.6,1241.6 633.1,1241.2 633.7,1241.4 634.2,1241.7 634.7,1241.5 635.2,1241.6 635.7,1241.9 636.2,1242.3 636.8,1242.3 637.3,1242.2 637.8,1241.5 638.3,1241.4 638.8,1241.6 639.3,1241.6 639.9,1241.9 640.4,1241.5 640.9,1241.4 641.4,1241.6 641.9,1241.8 642.4,1241.9 643.0,1242.1 643.5,1241.9 644.0,1241.9 644.5,1242.0 645.0,1241.9 645.5,1241.9 646.1,1241.8 646.6,1242.0 647.1,1241.7 647.6,1241.7 648.1,1241.7 648.6,1241.7 649.2,1241.9 649.7,1241.6 650.2,1241.3 650.7,1241.7 651.2,1241.6 651.7,1241.9 652.3,1241.8 652.8,1242.0 653.3,1242.0 653.8,1241.8 654.3,1242.1 654.8,1242.7 655.4,1242.1 655.9,1241.8 656.4,1242.2 656.9,1241.8 657.4,1242.2 657.9,1242.3 658.5,1242.2 659.0,1242.5 659.5,1241.8 660.0,1241.9 660.5,1241.8 661.0,1242.1 661.6,1241.9 662.1,1241.7 662.6,1241.7 663.1,1242.2 663.6,1241.5 664.1,1241.9 664.7,1242.2 665.2,1241.6 665.7,1242.4 666.2,1241.9 666.7,1242.4 667.2,1242.2 667.8,1242.0 668.3,1241.5 668.8,1241.6 669.3,1241.9 669.8,1242.0 670.3,1242.0 670.9,1241.6 671.4,1241.4 671.9,1241.3" fill="none" stroke="#2b6fd8" stroke-width="1.75" stroke-linejoin="round"/>
<path d="M51.7,1294.8 52.2,1294.6 52.7,1295.4 53.3,1297.1 53.8,1299.1 54.3,1300.8 54.8,1298.6 55.3,1299.7 55.8,1300.1 56.4,1301.2 56.9,1301.1 57.4,1302.0 57.9,1301.3 58.4,1300.9 58.9,1299.3 59.5,1301.2 60.0,1301.3 60.5,1303.1 61.0,1303.5 61.5,1303.5 62.0,1303.2 62.6,1302.9 63.1,1303.5 63.6,1303.7 64.1,1303.2 64.6,1303.9 65.1,1302.9 65.7,1305.1 66.2,1303.5 66.7,1303.9 67.2,1303.9 67.7,1303.9 68.2,1304.8 68.8,1304.5 69.3,1304.9 69.8,1304.8 70.3,1305.3 70.8,1305.9 71.3,1305.9 71.9,1304.5 72.4,1306.3 72.9,1305.2 73.4,1305.5 73.9,1304.3 74.4,1305.3 75.0,1307.3 75.5,1307.2 76.0,1306.7 76.5,1305.4 77.0,1306.1 77.5,1305.2 78.1,1306.0 78.6,1307.6 79.1,1307.4 79.6,1307.1 80.1,1307.7 80.6,1305.5 81.2,1306.3 81.7,1305.4 82.2,1305.9 82.7,1305.3 83.2,1307.4 83.7,1306.9 84.3,1308.7 84.8,1307.1 85.3,1306.3 85.8,1307.0 86.3,1307.4 86.8,1307.6 87.4,1307.5 87.9,1305.2 88.4,1304.8 88.9,1305.7 89.4,1306.4 89.9,1307.0 90.5,1307.1 91.0,1305.8 91.5,1305.5 92.0,1306.6 92.5,1305.8 93.0,1306.0 93.6,1304.9 94.1,1305.4 94.6,1305.4 95.1,1305.0 95.6,1304.9 96.1,1305.3 96.7,1306.0 97.2,1306.4 97.7,1306.7 98.2,1308.0 98.7,1307.8 99.2,1307.9 99.8,1305.3 100.3,1307.3 100.8,1307.8 101.3,1306.8 101.8,1307.8 102.3,1308.4 102.9,1308.3 103.4,1309.4 103.9,1307.1 104.4,1307.6 104.9,1306.8 105.5,1306.9 106.0,1306.4 106.5,1306.2 107.0,1306.4 107.5,1306.1 108.0,1305.6 108.6,1306.0 109.1,1305.7 109.6,1305.9 110.1,1308.0 110.6,1305.2 111.1,1307.3 111.7,1305.7 112.2,1305.7 112.7,1304.6 113.2,1303.9 113.7,1304.9 114.2,1304.0 114.8,1304.5 115.3,1305.8 115.8,1305.7 116.3,1306.0 116.8,1306.3 117.3,1305.6 117.9,1306.2 118.4,1306.7 118.9,1307.7 119.4,1307.5 119.9,1307.2 120.4,1307.8 121.0,1307.7 121.5,1306.5 122.0,1308.0 122.5,1305.8 123.0,1306.2 123.5,1305.2 124.1,1303.8 124.6,1305.2 125.1,1304.6 125.6,1307.0 126.1,1305.3 126.6,1306.3 127.2,1306.4 127.7,1306.2 128.2,1306.6 128.7,1308.4 129.2,1306.1 129.7,1307.5 130.3,1307.5 130.8,1307.0 131.3,1308.3 131.8,1306.4 132.3,1306.6 132.8,1307.9 133.4,1305.9 133.9,1309.3 134.4,1307.6 134.9,1308.8 135.4,1308.1 135.9,1307.7 136.5,1306.5 137.0,1307.5 137.5,1308.4 138.0,1307.0 138.5,1308.3 139.0,1306.4 139.6,1307.2 140.1,1306.9 140.6,1307.3 141.1,1307.1 141.6,1308.2 142.1,1307.7 142.7,1306.2 143.2,1305.7 143.7,1305.9 144.2,1306.6 144.7,1307.8 145.2,1307.2 145.8,1307.1 146.3,1308.3 146.8,1305.6 147.3,1307.9 147.8,1305.8 148.3,1306.3 148.9,1306.2 149.4,1306.2 149.9,1308.1 150.4,1307.7 150.9,1305.8 151.4,1307.4 152.0,1306.4 152.5,1308.3 153.0,1307.0 153.5,1307.8 154.0,1306.9 154.5,1307.6 155.1,1307.3 155.6,1307.2 156.1,1305.9 156.6,1307.3 157.1,1305.6 157.7,1306.4 158.2,1306.5 158.7,1305.8 159.2,1306.1 159.7,1306.1 160.2,1304.2 160.8,1307.1 161.3,1306.6 161.8,1306.1 162.3,1305.9 162.8,1304.0 163.3,1303.0 163.9,1304.2 164.4,1304.2 164.9,1306.2 165.4,1304.7 165.9,1305.6 166.4,1303.8 167.0,1303.8 167.5,1303.4 168.0,1303.6 168.5,1302.6 169.0,1301.2 169.5,1300.6 170.1,1298.9 170.6,1299.5 171.1,1298.5 171.6,1296.3 172.1,1296.3 172.6,1295.3 173.2,1295.0 173.7,1296.7 174.2,1294.3 174.7,1293.8 175.2,1293.6 175.7,1293.9 176.3,1291.9 176.8,1291.1 177.3,1292.0 177.8,1289.2 178.3,1291.1 178.8,1288.9 179.4,1291.3 179.9,1289.8 180.4,1289.7 180.9,1291.5 181.4,1291.8 181.9,1290.6 182.5,1289.3 183.0,1291.2 183.5,1289.8 184.0,1290.5 184.5,1289.8 185.0,1289.5 185.6,1291.2 186.1,1287.9 186.6,1289.8 187.1,1287.8 187.6,1287.3 188.1,1289.9 188.7,1289.9 189.2,1288.6 189.7,1287.6 190.2,1287.3 190.7,1289.8 191.2,1290.8 191.8,1289.4 192.3,1289.8 192.8,1290.9 193.3,1291.8 193.8,1290.5 194.3,1293.1 194.9,1290.7 195.4,1292.8 195.9,1292.6 196.4,1293.4 196.9,1294.1 197.4,1293.2 198.0,1293.3 198.5,1294.8 199.0,1293.4 199.5,1295.3 200.0,1295.3 200.5,1294.0 201.1,1295.6 201.6,1295.9 202.1,1295.1 202.6,1297.8 203.1,1298.0 203.6,1297.0 204.2,1299.1 204.7,1298.0 205.2,1299.1 205.7,1298.3 206.2,1300.3 206.8,1299.7 207.3,1299.0 207.8,1300.3 208.3,1299.3 208.8,1299.5 209.3,1300.0 209.9,1302.7 210.4,1300.8 210.9,1300.9 211.4,1300.9 211.9,1304.8 212.4,1302.4 213.0,1303.0 213.5,1303.3 214.0,1304.3 214.5,1302.9 215.0,1304.9 215.5,1305.1 216.1,1304.8 216.6,1304.5 217.1,1304.0 217.6,1303.8 218.1,1304.6 218.6,1304.6 219.2,1306.0 219.7,1304.5 220.2,1305.5 220.7,1306.4 221.2,1305.6 221.7,1305.6 222.3,1305.8 222.8,1303.4 223.3,1305.4 223.8,1306.7 224.3,1305.0 224.8,1305.0 225.4,1305.6 225.9,1306.9 226.4,1305.4 226.9,1306.5 227.4,1305.8 227.9,1306.2 228.5,1305.8 229.0,1306.6 229.5,1305.2 230.0,1307.6 230.5,1305.9 231.0,1306.6 231.6,1305.4 232.1,1306.1 232.6,1305.8 232.7,1305.5 232.9,1305.8 233.0,1305.4 233.1,1304.5 233.2,1302.8 233.4,1304.3 233.5,1305.3 233.6,1307.3 233.8,1304.8 233.9,1305.3 234.0,1303.9 234.1,1303.6 234.3,1304.5 234.4,1303.5 234.5,1304.3 234.7,1302.8 234.8,1301.2 234.9,1302.8 235.0,1300.8 235.2,1300.3 235.3,1300.6 235.4,1300.4 235.6,1298.3 235.7,1298.5 235.8,1297.8 236.0,1296.9 236.1,1297.2 236.2,1296.9 236.3,1295.2 236.5,1295.6 236.6,1294.7 236.7,1294.4 236.9,1293.9 237.0,1293.9 237.1,1292.0 237.2,1293.4 237.4,1293.3 237.5,1295.0 237.6,1293.6 237.8,1292.2 237.9,1292.3 238.0,1292.9 238.1,1293.8 238.3,1293.0 238.4,1294.4 238.5,1294.8 238.7,1293.2 238.8,1293.8 238.9,1294.5 239.1,1296.0 239.2,1296.0 239.3,1295.0 239.4,1297.1 239.6,1297.0 239.7,1298.6 239.8,1299.7 240.0,1299.9 240.1,1300.1 240.2,1301.0 240.3,1300.8 240.5,1301.3 240.6,1301.7 240.7,1302.2 240.9,1302.8 241.0,1303.3 241.1,1302.8 241.2,1303.9 241.4,1304.0 241.5,1304.9 241.6,1302.9 241.8,1303.9 241.9,1304.1 242.0,1305.5 242.2,1305.4 242.3,1305.6 242.4,1304.5 242.5,1306.3 242.7,1306.1 242.8,1306.1 242.9,1305.0 243.1,1306.0 243.2,1305.9 243.3,1306.3 243.4,1307.0 244.0,1308.1 244.5,1307.7 245.0,1307.0 245.5,1307.8 246.0,1306.4 246.5,1307.4 247.1,1307.2 247.6,1309.2 248.1,1309.1 248.6,1307.1 249.1,1307.7 249.6,1307.3 250.2,1305.4 250.7,1305.9 251.2,1305.0 251.7,1307.0 251.8,1305.1 252.0,1304.8 252.1,1303.7 252.2,1303.1 252.4,1301.4 252.5,1300.6 252.6,1298.4 252.7,1298.2 252.9,1293.5 253.0,1291.9 253.1,1288.9 253.3,1285.9 253.4,1281.1 253.5,1275.9 253.7,1271.8 253.8,1265.3 253.9,1260.6 254.0,1256.6 254.2,1251.3 254.3,1247.3 254.4,1243.8 254.6,1242.8 254.7,1241.5 254.8,1242.9 254.9,1242.6 255.1,1245.4 255.2,1249.5 255.3,1251.8 255.5,1258.6 255.6,1264.3 255.7,1269.9 255.8,1274.7 256.0,1277.4 256.1,1280.9 256.2,1286.6 256.4,1289.9 256.5,1293.5 256.6,1296.8 256.8,1298.6 256.9,1299.2 257.0,1301.3 257.1,1302.3 257.3,1302.7 257.4,1303.7 257.5,1304.2 257.7,1304.2 257.8,1305.0 257.9,1305.8 258.0,1306.0 258.6,1305.3 259.1,1304.1 259.6,1305.5 260.1,1306.0 260.6,1305.9 261.1,1305.0 261.7,1305.3 262.2,1305.6 262.7,1306.7 263.2,1305.2 263.7,1305.9 264.2,1305.0 264.8,1304.6 265.3,1306.6 265.8,1304.7 266.3,1305.6 266.8,1305.0 267.3,1305.7 267.9,1306.6 268.4,1306.2 268.9,1306.5 269.4,1307.3 269.9,1307.0 270.4,1307.5 271.0,1308.9 271.5,1308.2 272.0,1307.1 272.5,1306.0 273.0,1306.0 273.6,1304.7 274.1,1305.1 274.6,1306.3 275.1,1306.5 275.6,1307.1 276.1,1306.5 276.7,1305.4 277.2,1305.4 277.7,1306.4 278.2,1308.6 278.7,1306.9 279.2,1304.8 279.8,1306.5 280.3,1306.1 280.8,1306.7 281.3,1307.2 281.8,1305.4 282.3,1306.4 282.9,1307.1 283.4,1306.2 283.9,1307.9 284.4,1307.5 284.9,1308.3 285.4,1307.2 286.0,1305.6 286.5,1307.4 287.0,1307.1 287.5,1307.3 288.0,1306.7 288.5,1306.4 289.1,1305.7 289.6,1307.9 290.1,1307.1 290.6,1307.8 291.1,1306.9 291.6,1306.2 292.2,1306.8 292.7,1306.8 293.2,1307.1 293.7,1307.5 294.2,1306.1 294.7,1305.8 295.3,1306.9 295.8,1306.1 296.3,1305.5 296.8,1308.0 297.3,1307.6 297.8,1306.2 298.4,1307.8 298.9,1307.9 299.4,1307.7 299.9,1307.4 300.4,1306.8 300.9,1305.6 301.5,1306.1 302.0,1306.1 302.5,1305.6 303.0,1306.6 303.5,1308.1 304.0,1306.6 304.6,1307.9 305.1,1306.5 305.6,1307.2 306.1,1306.0 306.6,1307.2 307.1,1307.0 307.7,1307.3 308.2,1307.3 308.7,1307.2 309.2,1306.9 309.7,1308.1 310.2,1307.2 310.8,1307.4 311.3,1305.7 311.8,1306.6 312.3,1306.3 312.8,1306.6 313.3,1305.3 313.9,1306.0 314.4,1305.2 314.9,1306.4 315.4,1305.5 315.9,1305.9 316.4,1306.0 317.0,1307.7 317.5,1305.9 318.0,1306.8 318.5,1306.6 319.0,1305.3 319.5,1303.9 320.1,1305.5 320.6,1306.0 321.1,1306.1 321.6,1306.3 322.1,1306.5 322.6,1306.3 323.2,1306.0 323.7,1306.9 324.2,1307.0 324.7,1306.1 325.2,1306.3 325.8,1307.3 326.3,1306.1 326.8,1306.6 327.3,1308.2 327.8,1307.6 328.3,1307.5 328.9,1306.8 329.4,1306.8 329.9,1304.9 330.4,1308.0 330.9,1307.2 331.4,1306.2 332.0,1307.5 332.5,1305.2 333.0,1306.9 333.5,1307.0 334.0,1307.2 334.5,1307.8 335.1,1307.5 335.6,1307.0 336.1,1306.5 336.6,1307.1 337.1,1306.5 337.6,1305.7 338.2,1304.7 338.7,1308.3 339.2,1305.3 339.7,1305.8 340.2,1306.7 340.7,1305.5 341.3,1307.0 341.8,1307.2 342.3,1308.3 342.8,1307.2 343.3,1307.9 343.8,1305.2 344.4,1307.9 344.9,1305.4 345.4,1305.8 345.9,1306.1 346.4,1305.6 346.9,1307.9 347.5,1307.6 348.0,1305.9 348.5,1306.3 349.0,1306.6 349.5,1307.0 350.0,1307.2 350.6,1307.7 351.1,1307.9 351.6,1307.7 352.1,1308.4 352.6,1307.6 353.1,1308.7 353.7,1308.4 354.2,1308.1 354.7,1306.4 355.2,1305.4 355.7,1305.5 356.2,1306.3 356.8,1307.9 357.3,1307.7 357.8,1307.9 358.3,1307.7 358.8,1305.7 359.3,1307.4 359.9,1306.9 360.4,1308.1 360.9,1306.3 361.4,1307.2 361.9,1307.5 362.4,1307.6 363.0,1306.9 363.5,1308.0 364.0,1308.7 364.5,1308.2 365.0,1308.5 365.5,1307.2 366.1,1307.0 366.6,1306.1 367.1,1307.8 367.6,1306.8 368.1,1306.3 368.6,1307.0 369.2,1308.2 369.7,1308.9 370.2,1308.0 370.7,1308.4 371.2,1306.9 371.7,1307.7 372.3,1308.0 372.8,1309.5 373.3,1306.8 373.8,1307.2 374.3,1306.9 374.9,1305.7 375.4,1306.7 375.9,1306.4 376.4,1306.5 376.9,1307.9 377.4,1307.8 378.0,1308.0 378.5,1307.9 379.0,1308.0 379.5,1308.8 380.0,1307.2 380.5,1308.2 381.1,1308.3 381.6,1309.1 382.1,1307.2 382.6,1307.4 383.1,1306.5 383.6,1305.9 384.2,1306.4 384.7,1306.0 385.2,1305.1 385.7,1305.1 386.2,1305.8 386.7,1305.3 387.3,1306.2 387.8,1307.8 388.3,1306.6 388.8,1305.8 389.3,1307.1 389.8,1307.6 390.4,1307.2 390.9,1306.6 391.4,1306.4 391.9,1306.7 392.4,1307.5 392.9,1307.8 393.5,1306.9 394.0,1306.5 394.5,1306.8 395.0,1305.8 395.5,1305.8 396.0,1306.5 396.6,1306.5 397.1,1306.7 397.6,1306.3 398.1,1305.5 398.6,1304.6 399.1,1305.2 399.7,1305.4 400.2,1307.3 400.7,1307.8 401.2,1306.3 401.7,1306.9 402.2,1308.3 402.8,1306.9 403.3,1306.2 403.8,1306.9 404.3,1305.4 404.8,1306.4 405.3,1308.3 405.9,1308.4 406.4,1309.1 406.9,1309.8 407.4,1308.6 407.9,1307.2 408.4,1308.3 409.0,1307.1 409.5,1306.9 410.0,1308.3 410.5,1309.3 411.0,1309.1 411.5,1308.9 412.1,1307.1 412.6,1307.3 413.1,1308.4 413.6,1307.7 414.1,1306.0 414.6,1307.1 415.2,1307.2 415.7,1306.8 416.2,1307.0 416.7,1306.4 417.2,1306.7 417.7,1306.9 418.3,1306.7 418.8,1307.3 419.3,1306.9 419.8,1306.3 420.3,1306.4 420.8,1306.5 421.4,1308.0 421.9,1309.0 422.4,1309.4 422.9,1307.8 423.4,1307.3 423.9,1306.8 424.5,1306.0 425.0,1307.0 425.5,1306.3 426.0,1305.9 426.5,1307.1 427.1,1307.8 427.6,1308.0 428.1,1306.1 428.6,1307.1 429.1,1306.8 429.6,1308.1 430.2,1305.1 430.7,1306.5 431.2,1306.2 431.7,1306.1 432.2,1306.7 432.7,1305.9 433.3,1306.6 433.8,1306.9 434.3,1308.3 434.8,1307.9 435.3,1306.7 435.8,1306.9 436.4,1306.2 436.9,1307.5 437.4,1307.2 437.9,1307.7 438.4,1309.8 438.9,1309.8 439.5,1308.2 440.0,1307.2 440.5,1306.9 441.0,1307.8 441.5,1307.9 442.0,1307.4 442.6,1307.5 443.1,1307.1 443.6,1307.0 444.1,1306.2 444.6,1306.8 445.1,1306.1 445.7,1307.0 446.2,1307.5 446.7,1307.4 447.2,1307.6 447.7,1307.4 448.2,1307.0 448.8,1308.0 449.3,1307.2 449.8,1307.5 450.3,1308.0 450.8,1307.5 451.3,1306.2 451.9,1306.5 452.4,1307.2 452.9,1305.1 453.4,1305.2 453.9,1305.2 454.4,1307.0 455.0,1305.6 455.5,1306.6 456.0,1307.9 456.5,1306.8 457.0,1306.2 457.5,1304.7 458.1,1305.6 458.6,1306.0 459.1,1304.1 459.6,1305.2 460.1,1307.0 460.6,1306.1 461.2,1307.6 461.7,1307.1 462.2,1307.0 462.7,1308.3 463.2,1308.5 463.7,1307.9 464.3,1307.9 464.8,1306.6 465.3,1306.6 465.8,1308.7 466.3,1306.4 466.8,1305.8 467.4,1307.2 467.9,1305.7 468.4,1305.9 468.9,1307.4 469.4,1306.3 469.9,1306.7 470.5,1307.2 471.0,1307.0 471.5,1309.1 472.0,1308.1 472.5,1307.6 473.0,1308.2 473.6,1306.5 474.1,1306.6 474.6,1307.4 475.1,1306.1 475.6,1305.5 476.1,1306.8 476.7,1307.1 477.2,1309.1 477.7,1308.7 478.2,1307.0 478.7,1308.0 479.3,1308.9 479.8,1306.4 480.3,1307.3 480.8,1307.4 481.3,1307.2 481.8,1306.2 482.4,1306.9 482.9,1307.4 483.4,1307.2 483.9,1304.3 484.4,1307.3 484.9,1306.6 485.5,1307.6 486.0,1305.8 486.5,1306.3 487.0,1307.4 487.5,1306.5 488.0,1305.7 488.6,1307.5 489.1,1305.5 489.6,1307.4 490.1,1307.9 490.6,1308.7 491.1,1307.6 491.7,1307.1 492.2,1307.4 492.7,1308.6 493.2,1307.5 493.7,1306.7 494.2,1306.2 494.8,1307.2 495.3,1308.1 495.8,1308.0 496.3,1308.5 496.8,1308.0 497.3,1309.0 497.9,1305.9 498.4,1305.9 498.9,1306.8 499.4,1307.0 499.9,1307.2 500.4,1307.6 501.0,1308.2 501.5,1306.8 502.0,1306.6 502.5,1306.7 503.0,1307.6 503.5,1308.0 504.1,1307.9 504.6,1309.0 505.1,1306.5 505.6,1306.7 506.1,1307.6 506.6,1308.5 507.2,1307.1 507.7,1307.8 508.2,1307.4 508.7,1307.1 509.2,1308.3 509.7,1307.3 510.3,1307.8 510.8,1306.3 511.3,1307.0 511.8,1307.7 512.3,1305.2 512.8,1307.1 513.4,1306.2 513.9,1305.2 514.4,1306.8 514.9,1308.3 515.4,1307.2 515.9,1308.6 516.5,1307.7 517.0,1307.4 517.5,1305.8 518.0,1307.1 518.5,1308.7 519.0,1307.9 519.6,1306.9 520.1,1306.6 520.6,1308.3 521.1,1309.0 521.6,1307.2 522.1,1309.8 522.7,1307.4 523.2,1309.3 523.7,1308.8 524.2,1307.0 524.7,1307.0 525.2,1307.0 525.8,1306.2 526.3,1306.9 526.8,1306.7 527.3,1307.8 527.8,1309.2 528.3,1307.3 528.9,1309.9 529.4,1308.4 529.9,1307.8 530.4,1307.5 530.9,1308.8 531.5,1308.0 532.0,1308.6 532.5,1307.3 533.0,1306.3 533.5,1306.5 534.0,1307.2 534.6,1306.5 535.1,1306.1 535.6,1307.2 536.1,1306.9 536.6,1307.3 537.1,1308.5 537.7,1308.6 538.2,1307.2 538.7,1306.0 539.2,1307.2 539.7,1308.1 540.2,1309.1 540.8,1308.8 541.3,1308.4 541.8,1307.0 542.3,1306.5 542.8,1306.8 543.3,1306.4 543.9,1307.0 544.4,1307.1 544.9,1306.4 545.4,1306.9 545.9,1305.0 546.4,1306.9 547.0,1306.3 547.5,1308.0 548.0,1307.8 548.5,1307.8 549.0,1307.8 549.5,1306.8 550.1,1307.1 550.6,1308.5 551.1,1308.6 551.6,1307.8 552.1,1308.2 552.6,1307.5 553.2,1308.2 553.7,1308.8 554.2,1306.8 554.7,1308.6 555.2,1308.5 555.7,1309.0 556.3,1308.2 556.8,1308.1 557.3,1307.7 557.8,1305.9 558.3,1306.8 558.8,1306.8 559.4,1306.8 559.9,1306.5 560.4,1307.3 560.9,1307.6 561.4,1307.1 561.9,1306.2 562.5,1307.1 563.0,1308.0 563.5,1306.6 564.0,1308.3 564.5,1306.3 565.0,1306.6 565.6,1306.0 566.1,1307.6 566.6,1305.5 567.1,1306.0 567.6,1306.1 568.1,1304.8 568.7,1307.1 569.2,1306.3 569.7,1306.6 570.2,1305.6 570.7,1306.4 571.2,1306.5 571.8,1307.6 572.3,1306.5 572.8,1306.7 573.3,1307.0 573.8,1307.3 574.3,1307.4 574.9,1308.7 575.4,1307.2 575.9,1308.2 576.4,1308.0 576.9,1306.8 577.4,1306.6 578.0,1305.4 578.5,1307.2 579.0,1305.8 579.5,1306.2 580.0,1305.5 580.5,1308.2 581.1,1306.4 581.6,1307.5 582.1,1307.4 582.6,1307.8 583.1,1306.6 583.7,1308.6 584.2,1307.4 584.7,1306.7 585.2,1306.9 585.7,1307.9 586.2,1308.1 586.8,1308.8 587.3,1306.8 587.8,1306.1 588.3,1306.4 588.8,1306.3 589.3,1307.1 589.9,1306.1 590.4,1307.4 590.9,1307.1 591.4,1306.1 591.9,1307.4 592.4,1306.4 593.0,1306.5 593.5,1306.5 594.0,1307.4 594.5,1306.6 595.0,1308.5 595.5,1309.2 596.1,1307.6 596.6,1309.1 597.1,1307.8 597.6,1306.2 598.1,1306.9 598.6,1307.5 599.2,1308.2 599.7,1308.6 600.2,1309.5 600.7,1308.0 601.2,1306.8 601.7,1308.2 602.3,1307.4 602.8,1307.2 603.3,1305.7 603.8,1307.0 604.3,1307.1 604.8,1307.7 605.4,1309.2 605.9,1309.3 606.4,1307.4 606.9,1306.3 607.4,1306.5 607.9,1306.9 608.5,1308.6 609.0,1306.7 609.5,1307.2 610.0,1306.2 610.5,1306.0 611.0,1308.3 611.6,1306.8 612.1,1307.0 612.6,1308.9 613.1,1308.0 613.6,1306.6 614.1,1307.6 614.7,1309.5 615.2,1307.3 615.7,1306.8 616.2,1309.4 616.7,1308.3 617.2,1307.9 617.8,1309.3 618.3,1308.4 618.8,1308.5 619.3,1308.4 619.8,1308.8 620.3,1306.9 620.9,1307.2 621.4,1307.2 621.9,1306.1 622.4,1306.8 622.9,1307.7 623.4,1307.8 624.0,1306.6 624.5,1306.0 625.0,1306.5 625.5,1307.7 626.0,1308.0 626.5,1308.2 627.1,1307.6 627.6,1307.6 628.1,1308.1 628.6,1308.2 629.1,1306.4 629.6,1307.9 630.2,1306.8 630.7,1307.6 631.2,1308.6 631.7,1307.2 632.2,1307.8 632.7,1305.6 633.3,1307.2 633.8,1307.6 634.3,1307.1 634.8,1307.0 635.3,1307.4 635.9,1307.7 636.4,1307.7 636.9,1307.1 637.4,1307.1 637.9,1307.8 638.4,1308.7 639.0,1307.8 639.5,1307.4 640.0,1307.5 640.5,1307.2 641.0,1307.1 641.5,1306.3 642.1,1305.6 642.6,1307.5 643.1,1306.6 643.6,1307.0 644.1,1306.5 644.6,1307.3 645.2,1307.2 645.7,1308.2 646.2,1308.0 646.7,1307.4 647.2,1308.4 647.7,1307.4 648.3,1307.2 648.8,1307.4 649.3,1308.2 649.8,1305.5 650.3,1306.8 650.8,1306.7 651.4,1307.4 651.9,1308.6 652.4,1308.9 652.9,1306.7 653.4,1308.2 653.9,1307.5 654.5,1307.0 655.0,1308.1 655.5,1309.1 656.0,1308.4 656.5,1307.4 657.0,1307.4 657.6,1308.2 658.1,1306.0 658.6,1309.5 659.1,1307.4 659.6,1307.6 660.1,1307.3 660.7,1306.9 661.2,1306.4 661.7,1307.3 662.2,1309.9 662.7,1308.8 663.2,1306.5 663.8,1306.5 664.3,1307.8 664.8,1306.9 665.3,1307.5 665.8,1308.0 666.3,1306.3 666.9,1306.8 667.4,1307.6 667.9,1308.1 668.4,1307.5 668.9,1309.5 669.4,1308.9 670.0,1307.5 670.5,1307.8 671.0,1307.5 671.5,1307.0" fill="none" stroke="#e84848" stroke-width="1.6" stroke-linejoin="round"/>
<text x="39.59" y="1420.80" font-size="20.80" textLength="23.95" lengthAdjust="spacingAndGlyphs">20</text>
<text x="91.33" y="1420.80" font-size="20.80" textLength="23.95" lengthAdjust="spacingAndGlyphs">25</text>
<text x="143.06" y="1420.80" font-size="20.80" textLength="23.95" lengthAdjust="spacingAndGlyphs">30</text>
<text x="194.80" y="1420.80" font-size="20.80" textLength="23.95" lengthAdjust="spacingAndGlyphs">35</text>
<text x="246.58" y="1420.80" font-size="20.80" textLength="23.95" lengthAdjust="spacingAndGlyphs">40</text>
<text x="298.32" y="1420.80" font-size="20.80" textLength="23.95" lengthAdjust="spacingAndGlyphs">45</text>
<text x="349.79" y="1420.80" font-size="20.80" textLength="23.95" lengthAdjust="spacingAndGlyphs">50</text>
<text x="401.53" y="1420.80" font-size="20.80" textLength="23.95" lengthAdjust="spacingAndGlyphs">55</text>
<text x="453.06" y="1420.80" font-size="20.80" textLength="23.95" lengthAdjust="spacingAndGlyphs">60</text>
<text x="504.79" y="1420.80" font-size="20.80" textLength="23.95" lengthAdjust="spacingAndGlyphs">65</text>
<text x="556.37" y="1420.80" font-size="20.80" textLength="23.95" lengthAdjust="spacingAndGlyphs">70</text>
<text x="608.11" y="1420.80" font-size="20.80" textLength="23.95" lengthAdjust="spacingAndGlyphs">75</text>
<text x="659.84" y="1420.80" font-size="20.80" textLength="23.95" lengthAdjust="spacingAndGlyphs">80</text>
<text x="346.33" y="1461.80" font-size="26.00" textLength="30.57" lengthAdjust="spacingAndGlyphs">2θ</text>
<text x="598.33" y="970.00" font-size="16.00" textLength="56.29" lengthAdjust="spacingAndGlyphs">170 nm</text>
<text x="601.14" y="1037.00" font-size="16.00" textLength="56.08" lengthAdjust="spacingAndGlyphs">150 nm</text>
<text x="599.83" y="1103.30" font-size="16.00" textLength="56.40" lengthAdjust="spacingAndGlyphs">130 nm</text>
<text x="602.45" y="1170.00" font-size="16.00" textLength="55.46" lengthAdjust="spacingAndGlyphs">100 nm</text>
<text x="610.05" y="1236.00" font-size="16.00" textLength="47.38" lengthAdjust="spacingAndGlyphs">80 nm</text>
<text x="611.76" y="1302.50" font-size="16.00" textLength="46.66" lengthAdjust="spacingAndGlyphs">60 nm</text>
<text transform="translate(22.60,1266.83) rotate(-90)" font-size="25.20" textLength="262.23" lengthAdjust="spacingAndGlyphs">Normalized intensity</text>
<text x="1.56" y="877.20" font-size="32.00" textLength="15.31" lengthAdjust="spacingAndGlyphs">c</text>
<text x="19.92" y="875.20" font-size="29.50" textLength="8.94" lengthAdjust="spacingAndGlyphs">)</text>
<text x="51.48" y="883.60" font-size="20.60" textLength="157.50" lengthAdjust="spacingAndGlyphs">40°C, Surfactant</text>
</g>
</svg></body></html>
